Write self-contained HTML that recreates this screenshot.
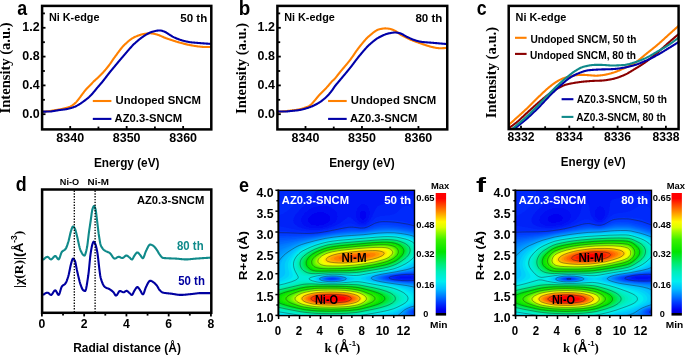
<!DOCTYPE html>
<html><head><meta charset="utf-8"><title>figure</title>
<style>
html,body{margin:0;padding:0;background:#fff;}
svg{display:block;will-change:transform;}
</style></head>
<body>
<svg width="685" height="355" viewBox="0 0 685 355" font-family="'Liberation Sans', sans-serif">
<rect width="685" height="355" fill="#fff"/>
<defs>
<clipPath id="clipa"><rect x="42" y="6" width="169.3" height="123"/></clipPath>
<clipPath id="clipb"><rect x="277.4" y="6" width="169.3" height="123"/></clipPath>
<clipPath id="clipc"><rect x="508.7" y="6" width="170.6" height="122"/></clipPath>
<filter id="hblur" x="-5%" y="-5%" width="110%" height="110%"><feGaussianBlur stdDeviation="0.7"/></filter>
<clipPath id="clipd"><rect x="42" y="189.5" width="169.3" height="123.2"/></clipPath>
</defs>
<g clip-path="url(#clipa)">
<path d="M42.5 111.7 L43 111.67 L43.5 111.64 L44 111.61 L44.49 111.57 L44.99 111.53 L45.49 111.48 L45.99 111.44 L46.49 111.39 L46.99 111.34 L47.49 111.29 L47.98 111.23 L48.48 111.18 L48.98 111.12 L49.48 111.06 L49.98 111 L50.48 110.94 L50.97 110.87 L51.47 110.79 L51.97 110.71 L52.47 110.63 L52.97 110.55 L53.47 110.46 L53.97 110.37 L54.46 110.29 L54.96 110.21 L55.46 110.13 L55.96 110.05 L56.46 109.97 L56.96 109.89 L57.46 109.82 L57.95 109.74 L58.45 109.66 L58.95 109.57 L59.45 109.48 L59.95 109.39 L60.45 109.29 L60.95 109.19 L61.44 109.09 L61.94 108.98 L62.44 108.87 L62.94 108.76 L63.44 108.64 L63.94 108.52 L64.43 108.39 L64.93 108.27 L65.43 108.14 L65.93 108.01 L66.43 107.87 L66.93 107.73 L67.43 107.59 L67.92 107.44 L68.42 107.27 L68.92 107.1 L69.42 106.91 L69.92 106.71 L70.42 106.47 L70.92 106.21 L71.41 105.92 L71.91 105.62 L72.41 105.29 L72.91 104.96 L73.41 104.59 L73.91 104.21 L74.41 103.79 L74.9 103.35 L75.4 102.89 L75.9 102.4 L76.4 101.87 L76.9 101.3 L77.4 100.7 L77.89 100.08 L78.39 99.46 L78.89 98.83 L79.39 98.18 L79.89 97.5 L80.39 96.82 L80.89 96.13 L81.38 95.45 L81.88 94.78 L82.38 94.11 L82.88 93.43 L83.38 92.76 L83.88 92.1 L84.38 91.46 L84.87 90.84 L85.37 90.22 L85.87 89.62 L86.37 89.04 L86.87 88.48 L87.37 87.94 L87.87 87.43 L88.36 86.95 L88.86 86.48 L89.36 86.02 L89.86 85.54 L90.36 85.04 L90.86 84.52 L91.36 83.98 L91.85 83.45 L92.35 82.91 L92.85 82.38 L93.35 81.85 L93.85 81.35 L94.35 80.87 L94.84 80.4 L95.34 79.95 L95.84 79.51 L96.34 79.06 L96.84 78.61 L97.34 78.15 L97.84 77.68 L98.33 77.2 L98.83 76.73 L99.33 76.25 L99.83 75.76 L100.33 75.27 L100.83 74.77 L101.33 74.27 L101.82 73.76 L102.32 73.24 L102.82 72.71 L103.32 72.17 L103.82 71.62 L104.32 71.06 L104.82 70.49 L105.31 69.91 L105.81 69.32 L106.31 68.72 L106.81 68.12 L107.31 67.5 L107.81 66.87 L108.3 66.24 L108.8 65.6 L109.3 64.93 L109.8 64.25 L110.3 63.55 L110.8 62.83 L111.3 62.1 L111.79 61.37 L112.29 60.63 L112.79 59.9 L113.29 59.18 L113.79 58.46 L114.29 57.76 L114.79 57.08 L115.28 56.41 L115.78 55.73 L116.28 55.05 L116.78 54.36 L117.28 53.67 L117.78 52.99 L118.28 52.31 L118.77 51.63 L119.27 50.97 L119.77 50.31 L120.27 49.66 L120.77 49.02 L121.27 48.39 L121.76 47.78 L122.26 47.19 L122.76 46.62 L123.26 46.07 L123.76 45.54 L124.26 45.03 L124.76 44.55 L125.25 44.08 L125.75 43.61 L126.25 43.15 L126.75 42.7 L127.25 42.25 L127.75 41.81 L128.25 41.38 L128.74 40.97 L129.24 40.56 L129.74 40.16 L130.24 39.78 L130.74 39.41 L131.24 39.06 L131.74 38.72 L132.23 38.39 L132.73 38.09 L133.23 37.8 L133.73 37.53 L134.23 37.28 L134.73 37.05 L135.22 36.82 L135.72 36.6 L136.22 36.38 L136.72 36.17 L137.22 35.97 L137.72 35.77 L138.22 35.57 L138.71 35.39 L139.21 35.21 L139.71 35.04 L140.21 34.87 L140.71 34.72 L141.21 34.57 L141.71 34.44 L142.2 34.31 L142.7 34.2 L143.2 34.09 L143.7 34 L144.2 33.92 L144.7 33.84 L145.2 33.77 L145.69 33.69 L146.19 33.62 L146.69 33.56 L147.19 33.5 L147.69 33.44 L148.19 33.39 L148.68 33.36 L149.18 33.33 L149.68 33.31 L150.18 33.3 L150.68 33.31 L151.18 33.35 L151.68 33.41 L152.17 33.48 L152.67 33.56 L153.17 33.65 L153.67 33.74 L154.17 33.83 L154.67 33.93 L155.17 34.04 L155.66 34.17 L156.16 34.31 L156.66 34.45 L157.16 34.6 L157.66 34.76 L158.16 34.92 L158.66 35.09 L159.15 35.27 L159.65 35.47 L160.15 35.68 L160.65 35.89 L161.15 36.11 L161.65 36.34 L162.14 36.57 L162.64 36.79 L163.14 37.02 L163.64 37.24 L164.14 37.45 L164.64 37.66 L165.14 37.85 L165.63 38.04 L166.13 38.23 L166.63 38.41 L167.13 38.59 L167.63 38.76 L168.13 38.93 L168.63 39.11 L169.12 39.27 L169.62 39.44 L170.12 39.61 L170.62 39.77 L171.12 39.94 L171.62 40.1 L172.12 40.27 L172.61 40.43 L173.11 40.59 L173.61 40.75 L174.11 40.91 L174.61 41.06 L175.11 41.22 L175.61 41.37 L176.1 41.53 L176.6 41.68 L177.1 41.82 L177.6 41.97 L178.1 42.12 L178.6 42.26 L179.09 42.4 L179.59 42.54 L180.09 42.68 L180.59 42.82 L181.09 42.95 L181.59 43.09 L182.09 43.23 L182.58 43.36 L183.08 43.5 L183.58 43.63 L184.08 43.76 L184.58 43.89 L185.08 44.01 L185.58 44.14 L186.07 44.26 L186.57 44.37 L187.07 44.49 L187.57 44.6 L188.07 44.71 L188.57 44.81 L189.07 44.91 L189.56 45.01 L190.06 45.11 L190.56 45.21 L191.06 45.3 L191.56 45.4 L192.06 45.49 L192.55 45.58 L193.05 45.67 L193.55 45.75 L194.05 45.84 L194.55 45.92 L195.05 46 L195.55 46.08 L196.04 46.15 L196.54 46.22 L197.04 46.29 L197.54 46.35 L198.04 46.42 L198.54 46.47 L199.04 46.53 L199.53 46.58 L200.03 46.63 L200.53 46.69 L201.03 46.74 L201.53 46.8 L202.03 46.84 L202.53 46.89 L203.02 46.93 L203.52 46.96 L204.02 46.98 L204.52 47 L205.02 47 L205.52 47 L206.01 47 L206.51 47 L207.01 47 L207.51 46.99 L208.01 46.99 L208.51 46.98 L209.01 46.97 L209.5 46.96 L210 46.94 L210.5 46.92 L211 46.9" fill="none" stroke="#FF8000" stroke-width="2.1" stroke-linejoin="round" stroke-linecap="round"/>
<path d="M42.5 111.6 L43 111.6 L43.5 111.6 L44 111.6 L44.49 111.59 L44.99 111.59 L45.49 111.58 L45.99 111.58 L46.49 111.57 L46.99 111.56 L47.49 111.55 L47.98 111.55 L48.48 111.54 L48.98 111.52 L49.48 111.51 L49.98 111.5 L50.48 111.48 L50.97 111.44 L51.47 111.38 L51.97 111.31 L52.47 111.23 L52.97 111.15 L53.47 111.06 L53.97 110.97 L54.46 110.89 L54.96 110.81 L55.46 110.73 L55.96 110.65 L56.46 110.56 L56.96 110.48 L57.46 110.39 L57.95 110.31 L58.45 110.22 L58.95 110.14 L59.45 110.07 L59.95 109.99 L60.45 109.93 L60.95 109.87 L61.44 109.81 L61.94 109.75 L62.44 109.7 L62.94 109.64 L63.44 109.58 L63.94 109.52 L64.43 109.45 L64.93 109.38 L65.43 109.3 L65.93 109.21 L66.43 109.12 L66.93 109.03 L67.43 108.92 L67.92 108.82 L68.42 108.71 L68.92 108.59 L69.42 108.47 L69.92 108.34 L70.42 108.21 L70.92 108.07 L71.41 107.93 L71.91 107.77 L72.41 107.61 L72.91 107.44 L73.41 107.26 L73.91 107.07 L74.41 106.88 L74.9 106.67 L75.4 106.45 L75.9 106.21 L76.4 105.95 L76.9 105.69 L77.4 105.41 L77.89 105.12 L78.39 104.83 L78.89 104.53 L79.39 104.23 L79.89 103.92 L80.39 103.61 L80.89 103.28 L81.38 102.95 L81.88 102.6 L82.38 102.25 L82.88 101.9 L83.38 101.53 L83.88 101.16 L84.38 100.79 L84.87 100.42 L85.37 100.04 L85.87 99.67 L86.37 99.28 L86.87 98.89 L87.37 98.49 L87.87 98.09 L88.36 97.67 L88.86 97.24 L89.36 96.79 L89.86 96.33 L90.36 95.85 L90.86 95.35 L91.36 94.82 L91.85 94.27 L92.35 93.71 L92.85 93.13 L93.35 92.54 L93.85 91.94 L94.35 91.33 L94.84 90.72 L95.34 90.1 L95.84 89.49 L96.34 88.88 L96.84 88.28 L97.34 87.69 L97.84 87.11 L98.33 86.53 L98.83 85.95 L99.33 85.38 L99.83 84.8 L100.33 84.22 L100.83 83.64 L101.33 83.06 L101.82 82.47 L102.32 81.87 L102.82 81.27 L103.32 80.65 L103.82 80.02 L104.32 79.38 L104.82 78.73 L105.31 78.08 L105.81 77.41 L106.31 76.75 L106.81 76.09 L107.31 75.43 L107.81 74.77 L108.3 74.13 L108.8 73.5 L109.3 72.87 L109.8 72.25 L110.3 71.64 L110.8 71.03 L111.3 70.43 L111.79 69.83 L112.29 69.23 L112.79 68.63 L113.29 68.03 L113.79 67.43 L114.29 66.84 L114.79 66.24 L115.28 65.64 L115.78 65.04 L116.28 64.44 L116.78 63.84 L117.28 63.24 L117.78 62.64 L118.28 62.05 L118.77 61.45 L119.27 60.85 L119.77 60.26 L120.27 59.67 L120.77 59.08 L121.27 58.49 L121.76 57.9 L122.26 57.31 L122.76 56.73 L123.26 56.15 L123.76 55.57 L124.26 54.99 L124.76 54.42 L125.25 53.84 L125.75 53.26 L126.25 52.68 L126.75 52.09 L127.25 51.51 L127.75 50.92 L128.25 50.34 L128.74 49.76 L129.24 49.18 L129.74 48.61 L130.24 48.04 L130.74 47.48 L131.24 46.93 L131.74 46.39 L132.23 45.86 L132.73 45.34 L133.23 44.83 L133.73 44.34 L134.23 43.86 L134.73 43.4 L135.22 42.94 L135.72 42.49 L136.22 42.05 L136.72 41.61 L137.22 41.18 L137.72 40.75 L138.22 40.33 L138.71 39.92 L139.21 39.51 L139.71 39.11 L140.21 38.72 L140.71 38.34 L141.21 37.96 L141.71 37.59 L142.2 37.23 L142.7 36.88 L143.2 36.53 L143.7 36.2 L144.2 35.87 L144.7 35.54 L145.2 35.22 L145.69 34.9 L146.19 34.59 L146.69 34.29 L147.19 33.99 L147.69 33.71 L148.19 33.44 L148.68 33.19 L149.18 32.95 L149.68 32.73 L150.18 32.53 L150.68 32.34 L151.18 32.17 L151.68 32.01 L152.17 31.85 L152.67 31.71 L153.17 31.57 L153.67 31.43 L154.17 31.31 L154.67 31.18 L155.17 31.05 L155.66 30.92 L156.16 30.8 L156.66 30.7 L157.16 30.63 L157.66 30.59 L158.16 30.56 L158.66 30.54 L159.15 30.52 L159.65 30.5 L160.15 30.5 L160.65 30.53 L161.15 30.6 L161.65 30.7 L162.14 30.83 L162.64 30.99 L163.14 31.17 L163.64 31.36 L164.14 31.55 L164.64 31.76 L165.14 31.96 L165.63 32.19 L166.13 32.47 L166.63 32.78 L167.13 33.11 L167.63 33.46 L168.13 33.8 L168.63 34.14 L169.12 34.45 L169.62 34.76 L170.12 35.06 L170.62 35.37 L171.12 35.68 L171.62 35.98 L172.12 36.28 L172.61 36.57 L173.11 36.84 L173.61 37.11 L174.11 37.35 L174.61 37.59 L175.11 37.82 L175.61 38.04 L176.1 38.25 L176.6 38.46 L177.1 38.66 L177.6 38.85 L178.1 39.04 L178.6 39.22 L179.09 39.4 L179.59 39.57 L180.09 39.75 L180.59 39.91 L181.09 40.08 L181.59 40.24 L182.09 40.4 L182.58 40.55 L183.08 40.7 L183.58 40.84 L184.08 40.97 L184.58 41.1 L185.08 41.22 L185.58 41.33 L186.07 41.44 L186.57 41.55 L187.07 41.65 L187.57 41.75 L188.07 41.84 L188.57 41.93 L189.07 42.02 L189.56 42.1 L190.06 42.17 L190.56 42.24 L191.06 42.31 L191.56 42.37 L192.06 42.42 L192.55 42.47 L193.05 42.52 L193.55 42.57 L194.05 42.62 L194.55 42.66 L195.05 42.7 L195.55 42.74 L196.04 42.78 L196.54 42.82 L197.04 42.86 L197.54 42.9 L198.04 42.94 L198.54 42.98 L199.04 43.02 L199.53 43.06 L200.03 43.1 L200.53 43.14 L201.03 43.18 L201.53 43.22 L202.03 43.26 L202.53 43.3 L203.02 43.33 L203.52 43.37 L204.02 43.41 L204.52 43.45 L205.02 43.49 L205.52 43.52 L206.01 43.56 L206.51 43.59 L207.01 43.63 L207.51 43.67 L208.01 43.7 L208.51 43.73 L209.01 43.77 L209.5 43.8 L210 43.84 L210.5 43.87 L211 43.9" fill="none" stroke="#0000A8" stroke-width="2.1" stroke-linejoin="round" stroke-linecap="round"/>
</g>
<rect x="42.1" y="5.9" width="169.2" height="123.5" fill="none" stroke="#000" stroke-width="2.5"/>
<line x1="42.1" y1="114.2" x2="45.5" y2="114.2" stroke="#000" stroke-width="1.8"/>
<line x1="42.1" y1="99.8" x2="44.9" y2="99.8" stroke="#000" stroke-width="1.8"/>
<line x1="42.1" y1="85.4" x2="45.5" y2="85.4" stroke="#000" stroke-width="1.8"/>
<line x1="42.1" y1="71" x2="44.9" y2="71" stroke="#000" stroke-width="1.8"/>
<line x1="42.1" y1="56.6" x2="45.5" y2="56.6" stroke="#000" stroke-width="1.8"/>
<line x1="42.1" y1="42.2" x2="44.9" y2="42.2" stroke="#000" stroke-width="1.8"/>
<line x1="42.1" y1="27.8" x2="45.5" y2="27.8" stroke="#000" stroke-width="1.8"/>
<line x1="42.1" y1="13.4" x2="44.9" y2="13.4" stroke="#000" stroke-width="1.8"/>
<line x1="70.2" y1="129.4" x2="70.2" y2="126" stroke="#000" stroke-width="1.8"/>
<line x1="98.44" y1="129.4" x2="98.44" y2="126.6" stroke="#000" stroke-width="1.8"/>
<line x1="126.67" y1="129.4" x2="126.67" y2="126" stroke="#000" stroke-width="1.8"/>
<line x1="154.91" y1="129.4" x2="154.91" y2="126.6" stroke="#000" stroke-width="1.8"/>
<line x1="183.14" y1="129.4" x2="183.14" y2="126" stroke="#000" stroke-width="1.8"/>
<text x="22.3" y="31.1" font-size="12.2" textLength="17.3" lengthAdjust="spacingAndGlyphs" fill="#000" font-family='"Liberation Sans", sans-serif' font-weight="bold">1.2</text>
<text x="22.3" y="59.9" font-size="12.2" textLength="17.3" lengthAdjust="spacingAndGlyphs" fill="#000" font-family='"Liberation Sans", sans-serif' font-weight="bold">0.8</text>
<text x="22.3" y="88.7" font-size="12.2" textLength="17.3" lengthAdjust="spacingAndGlyphs" fill="#000" font-family='"Liberation Sans", sans-serif' font-weight="bold">0.4</text>
<text x="22.3" y="117.5" font-size="12.2" textLength="17.3" lengthAdjust="spacingAndGlyphs" fill="#000" font-family='"Liberation Sans", sans-serif' font-weight="bold">0.0</text>
<text x="56.3" y="141.7" font-size="12" textLength="27.8" lengthAdjust="spacingAndGlyphs" fill="#000" font-family='"Liberation Sans", sans-serif' font-weight="bold">8340</text>
<text x="112.77" y="141.7" font-size="12" textLength="27.8" lengthAdjust="spacingAndGlyphs" fill="#000" font-family='"Liberation Sans", sans-serif' font-weight="bold">8350</text>
<text x="169.24" y="141.7" font-size="12" textLength="27.8" lengthAdjust="spacingAndGlyphs" fill="#000" font-family='"Liberation Sans", sans-serif' font-weight="bold">8360</text>
<text x="93.9" y="166.8" font-size="12.6" textLength="65.6" lengthAdjust="spacingAndGlyphs" fill="#000" font-family='"Liberation Sans", sans-serif' font-weight="bold">Energy (eV)</text>
<text transform="translate(10.4 113.4) rotate(-90)" font-size="14.6" textLength="91" lengthAdjust="spacingAndGlyphs" font-family='"Liberation Serif", serif' font-weight="bold" fill="#000">Intensity (a.u.)</text>
<text x="48.9" y="20.7" font-size="11.2" textLength="50.6" lengthAdjust="spacingAndGlyphs" fill="#000" font-family='"Liberation Sans", sans-serif' font-weight="bold">Ni K-edge</text>
<text x="180.3" y="21.6" font-size="11.8" textLength="27" lengthAdjust="spacingAndGlyphs" fill="#000" font-family='"Liberation Sans", sans-serif' font-weight="bold">50 th</text>
<line x1="92.8" y1="101" x2="111.4" y2="101" stroke="#FF8000" stroke-width="2.1"/>
<line x1="92.8" y1="118.9" x2="111.4" y2="118.9" stroke="#0000A8" stroke-width="2.1"/>
<text x="115.5" y="104.3" font-size="11.6" textLength="85.5" lengthAdjust="spacingAndGlyphs" fill="#000" font-family='"Liberation Sans", sans-serif' font-weight="bold">Undoped SNCM</text>
<text x="114.6" y="122.4" font-size="11.6" textLength="67.6" lengthAdjust="spacingAndGlyphs" fill="#000" font-family='"Liberation Sans", sans-serif' font-weight="bold">AZ0.3-SNCM</text>
<text x="17.3" y="14.6" font-size="20" textLength="9.9" lengthAdjust="spacingAndGlyphs" fill="#000" font-family='"Liberation Sans", sans-serif' font-weight="bold">a</text>
<g clip-path="url(#clipb)">
<path d="M277.8 111.8 L278.3 111.77 L278.8 111.73 L279.3 111.69 L279.8 111.66 L280.3 111.62 L280.8 111.58 L281.3 111.53 L281.8 111.49 L282.3 111.45 L282.8 111.4 L283.3 111.36 L283.8 111.31 L284.3 111.27 L284.8 111.22 L285.3 111.17 L285.8 111.12 L286.29 111.07 L286.79 111.02 L287.29 110.96 L287.79 110.91 L288.29 110.85 L288.79 110.79 L289.29 110.73 L289.79 110.67 L290.29 110.61 L290.79 110.55 L291.29 110.49 L291.79 110.43 L292.29 110.36 L292.79 110.3 L293.29 110.24 L293.79 110.18 L294.29 110.12 L294.79 110.06 L295.29 109.99 L295.79 109.93 L296.29 109.86 L296.79 109.79 L297.29 109.71 L297.79 109.63 L298.29 109.55 L298.79 109.46 L299.29 109.36 L299.79 109.26 L300.29 109.15 L300.79 109.03 L301.29 108.9 L301.79 108.76 L302.29 108.61 L302.79 108.46 L303.28 108.3 L303.78 108.14 L304.28 107.97 L304.78 107.79 L305.28 107.61 L305.78 107.42 L306.28 107.23 L306.78 107.03 L307.28 106.82 L307.78 106.59 L308.28 106.35 L308.78 106.09 L309.28 105.81 L309.78 105.51 L310.28 105.18 L310.78 104.81 L311.28 104.37 L311.78 103.87 L312.28 103.33 L312.78 102.75 L313.28 102.16 L313.78 101.56 L314.28 100.97 L314.78 100.4 L315.28 99.82 L315.78 99.22 L316.28 98.61 L316.78 98 L317.28 97.39 L317.78 96.79 L318.28 96.2 L318.78 95.63 L319.28 95.08 L319.78 94.54 L320.27 94.01 L320.77 93.49 L321.27 92.97 L321.77 92.46 L322.27 91.95 L322.77 91.43 L323.27 90.92 L323.77 90.41 L324.27 89.91 L324.77 89.41 L325.27 88.91 L325.77 88.4 L326.27 87.89 L326.77 87.37 L327.27 86.83 L327.77 86.28 L328.27 85.7 L328.77 85.1 L329.27 84.5 L329.77 83.9 L330.27 83.3 L330.77 82.72 L331.27 82.15 L331.77 81.62 L332.27 81.11 L332.77 80.62 L333.27 80.15 L333.77 79.67 L334.27 79.17 L334.77 78.65 L335.27 78.1 L335.77 77.52 L336.27 76.92 L336.76 76.3 L337.26 75.66 L337.76 75.02 L338.26 74.37 L338.76 73.73 L339.26 73.09 L339.76 72.47 L340.26 71.86 L340.76 71.25 L341.26 70.65 L341.76 70.06 L342.26 69.46 L342.76 68.87 L343.26 68.29 L343.76 67.7 L344.26 67.11 L344.76 66.53 L345.26 65.94 L345.76 65.35 L346.26 64.75 L346.76 64.15 L347.26 63.55 L347.76 62.94 L348.26 62.32 L348.76 61.7 L349.26 61.07 L349.76 60.43 L350.26 59.77 L350.76 59.1 L351.26 58.41 L351.76 57.71 L352.26 57 L352.76 56.29 L353.26 55.56 L353.75 54.84 L354.25 54.11 L354.75 53.38 L355.25 52.65 L355.75 51.93 L356.25 51.21 L356.75 50.5 L357.25 49.8 L357.75 49.11 L358.25 48.44 L358.75 47.78 L359.25 47.14 L359.75 46.51 L360.25 45.89 L360.75 45.27 L361.25 44.66 L361.75 44.04 L362.25 43.43 L362.75 42.82 L363.25 42.22 L363.75 41.62 L364.25 41.04 L364.75 40.46 L365.25 39.9 L365.75 39.34 L366.25 38.81 L366.75 38.28 L367.25 37.77 L367.75 37.28 L368.25 36.81 L368.75 36.36 L369.25 35.93 L369.75 35.51 L370.25 35.1 L370.74 34.68 L371.24 34.26 L371.74 33.85 L372.24 33.44 L372.74 33.04 L373.24 32.65 L373.74 32.27 L374.24 31.9 L374.74 31.54 L375.24 31.2 L375.74 30.88 L376.24 30.58 L376.74 30.3 L377.24 30.05 L377.74 29.82 L378.24 29.62 L378.74 29.45 L379.24 29.31 L379.74 29.2 L380.24 29.08 L380.74 28.97 L381.24 28.87 L381.74 28.77 L382.24 28.68 L382.74 28.6 L383.24 28.53 L383.74 28.47 L384.24 28.43 L384.74 28.41 L385.24 28.4 L385.74 28.41 L386.24 28.43 L386.74 28.46 L387.24 28.5 L387.73 28.55 L388.23 28.61 L388.73 28.67 L389.23 28.73 L389.73 28.82 L390.23 28.94 L390.73 29.07 L391.23 29.23 L391.73 29.39 L392.23 29.57 L392.73 29.76 L393.23 29.95 L393.73 30.16 L394.23 30.4 L394.73 30.65 L395.23 30.93 L395.73 31.22 L396.23 31.52 L396.73 31.83 L397.23 32.15 L397.73 32.5 L398.23 32.9 L398.73 33.32 L399.23 33.73 L399.73 34.11 L400.23 34.44 L400.73 34.75 L401.23 35.03 L401.73 35.3 L402.23 35.56 L402.73 35.81 L403.23 36.06 L403.73 36.31 L404.22 36.56 L404.72 36.82 L405.22 37.07 L405.72 37.32 L406.22 37.57 L406.72 37.82 L407.22 38.07 L407.72 38.32 L408.22 38.56 L408.72 38.8 L409.22 39.03 L409.72 39.26 L410.22 39.49 L410.72 39.71 L411.22 39.92 L411.72 40.13 L412.22 40.34 L412.72 40.53 L413.22 40.73 L413.72 40.92 L414.22 41.1 L414.72 41.28 L415.22 41.46 L415.72 41.64 L416.22 41.82 L416.72 42 L417.22 42.18 L417.72 42.35 L418.22 42.53 L418.72 42.71 L419.22 42.9 L419.72 43.08 L420.22 43.26 L420.72 43.44 L421.21 43.63 L421.71 43.81 L422.21 43.99 L422.71 44.16 L423.21 44.34 L423.71 44.51 L424.21 44.68 L424.71 44.85 L425.21 45.01 L425.71 45.17 L426.21 45.33 L426.71 45.49 L427.21 45.64 L427.71 45.8 L428.21 45.96 L428.71 46.11 L429.21 46.26 L429.71 46.41 L430.21 46.55 L430.71 46.68 L431.21 46.81 L431.71 46.93 L432.21 47.04 L432.71 47.14 L433.21 47.25 L433.71 47.35 L434.21 47.46 L434.71 47.56 L435.21 47.67 L435.71 47.76 L436.21 47.86 L436.71 47.94 L437.21 48.02 L437.71 48.08 L438.2 48.13 L438.7 48.17 L439.2 48.19 L439.7 48.2 L440.2 48.2 L440.7 48.2 L441.2 48.2 L441.7 48.19 L442.2 48.18 L442.7 48.17 L443.2 48.15 L443.7 48.13 L444.2 48.1 L444.7 48.06 L445.2 48.02 L445.7 47.96 L446.2 47.9" fill="none" stroke="#FF8000" stroke-width="2.1" stroke-linejoin="round" stroke-linecap="round"/>
<path d="M277.8 111.4 L278.3 111.42 L278.8 111.44 L279.3 111.45 L279.8 111.46 L280.3 111.47 L280.8 111.48 L281.3 111.49 L281.8 111.49 L282.3 111.49 L282.8 111.5 L283.3 111.5 L283.8 111.5 L284.3 111.5 L284.8 111.5 L285.3 111.5 L285.8 111.49 L286.29 111.46 L286.79 111.44 L287.29 111.4 L287.79 111.35 L288.29 111.31 L288.79 111.25 L289.29 111.2 L289.79 111.14 L290.29 111.08 L290.79 111.03 L291.29 110.97 L291.79 110.92 L292.29 110.87 L292.79 110.82 L293.29 110.78 L293.79 110.73 L294.29 110.68 L294.79 110.63 L295.29 110.58 L295.79 110.52 L296.29 110.47 L296.79 110.41 L297.29 110.35 L297.79 110.29 L298.29 110.22 L298.79 110.15 L299.29 110.07 L299.79 109.99 L300.29 109.89 L300.79 109.79 L301.29 109.68 L301.79 109.57 L302.29 109.45 L302.79 109.32 L303.28 109.19 L303.78 109.06 L304.28 108.92 L304.78 108.78 L305.28 108.64 L305.78 108.49 L306.28 108.35 L306.78 108.2 L307.28 108.04 L307.78 107.88 L308.28 107.71 L308.78 107.54 L309.28 107.37 L309.78 107.19 L310.28 107 L310.78 106.81 L311.28 106.61 L311.78 106.41 L312.28 106.2 L312.78 105.98 L313.28 105.76 L313.78 105.54 L314.28 105.3 L314.78 105.06 L315.28 104.81 L315.78 104.55 L316.28 104.28 L316.78 104 L317.28 103.72 L317.78 103.43 L318.28 103.13 L318.78 102.82 L319.28 102.5 L319.78 102.18 L320.27 101.85 L320.77 101.51 L321.27 101.16 L321.77 100.79 L322.27 100.41 L322.77 100.02 L323.27 99.62 L323.77 99.21 L324.27 98.79 L324.77 98.36 L325.27 97.91 L325.77 97.46 L326.27 96.99 L326.77 96.52 L327.27 96.03 L327.77 95.52 L328.27 94.99 L328.77 94.44 L329.27 93.86 L329.77 93.27 L330.27 92.66 L330.77 92.03 L331.27 91.4 L331.77 90.75 L332.27 90.05 L332.77 89.33 L333.27 88.59 L333.77 87.84 L334.27 87.11 L334.77 86.41 L335.27 85.75 L335.77 85.12 L336.27 84.5 L336.76 83.9 L337.26 83.3 L337.76 82.71 L338.26 82.13 L338.76 81.55 L339.26 80.96 L339.76 80.36 L340.26 79.76 L340.76 79.16 L341.26 78.57 L341.76 77.97 L342.26 77.37 L342.76 76.78 L343.26 76.19 L343.76 75.59 L344.26 75 L344.76 74.4 L345.26 73.8 L345.76 73.2 L346.26 72.6 L346.76 72 L347.26 71.4 L347.76 70.79 L348.26 70.18 L348.76 69.57 L349.26 68.95 L349.76 68.33 L350.26 67.7 L350.76 67.06 L351.26 66.42 L351.76 65.77 L352.26 65.11 L352.76 64.45 L353.26 63.79 L353.75 63.13 L354.25 62.46 L354.75 61.8 L355.25 61.14 L355.75 60.48 L356.25 59.82 L356.75 59.17 L357.25 58.52 L357.75 57.88 L358.25 57.25 L358.75 56.63 L359.25 56.02 L359.75 55.42 L360.25 54.82 L360.75 54.22 L361.25 53.62 L361.75 53.02 L362.25 52.42 L362.75 51.83 L363.25 51.24 L363.75 50.66 L364.25 50.08 L364.75 49.51 L365.25 48.94 L365.75 48.39 L366.25 47.84 L366.75 47.31 L367.25 46.79 L367.75 46.28 L368.25 45.78 L368.75 45.3 L369.25 44.84 L369.75 44.39 L370.25 43.94 L370.74 43.5 L371.24 43.06 L371.74 42.63 L372.24 42.2 L372.74 41.78 L373.24 41.36 L373.74 40.96 L374.24 40.56 L374.74 40.17 L375.24 39.79 L375.74 39.43 L376.24 39.07 L376.74 38.73 L377.24 38.4 L377.74 38.09 L378.24 37.79 L378.74 37.5 L379.24 37.23 L379.74 36.97 L380.24 36.72 L380.74 36.47 L381.24 36.22 L381.74 35.98 L382.24 35.74 L382.74 35.51 L383.24 35.28 L383.74 35.06 L384.24 34.85 L384.74 34.65 L385.24 34.46 L385.74 34.27 L386.24 34.1 L386.74 33.94 L387.24 33.78 L387.73 33.64 L388.23 33.51 L388.73 33.4 L389.23 33.29 L389.73 33.2 L390.23 33.1 L390.73 33 L391.23 32.91 L391.73 32.82 L392.23 32.74 L392.73 32.67 L393.23 32.61 L393.73 32.56 L394.23 32.53 L394.73 32.5 L395.23 32.5 L395.73 32.52 L396.23 32.56 L396.73 32.62 L397.23 32.7 L397.73 32.79 L398.23 32.89 L398.73 33 L399.23 33.12 L399.73 33.23 L400.23 33.36 L400.73 33.51 L401.23 33.7 L401.73 33.92 L402.23 34.17 L402.73 34.43 L403.23 34.71 L403.73 35 L404.22 35.3 L404.72 35.59 L405.22 35.89 L405.72 36.18 L406.22 36.46 L406.72 36.72 L407.22 36.96 L407.72 37.19 L408.22 37.43 L408.72 37.67 L409.22 37.91 L409.72 38.15 L410.22 38.38 L410.72 38.61 L411.22 38.84 L411.72 39.05 L412.22 39.27 L412.72 39.47 L413.22 39.66 L413.72 39.84 L414.22 40.01 L414.72 40.17 L415.22 40.33 L415.72 40.48 L416.22 40.64 L416.72 40.79 L417.22 40.93 L417.72 41.07 L418.22 41.2 L418.72 41.32 L419.22 41.44 L419.72 41.55 L420.22 41.64 L420.72 41.73 L421.21 41.8 L421.71 41.87 L422.21 41.93 L422.71 41.99 L423.21 42.04 L423.71 42.1 L424.21 42.15 L424.71 42.19 L425.21 42.24 L425.71 42.28 L426.21 42.32 L426.71 42.36 L427.21 42.4 L427.71 42.43 L428.21 42.47 L428.71 42.51 L429.21 42.54 L429.71 42.58 L430.21 42.62 L430.71 42.65 L431.21 42.69 L431.71 42.73 L432.21 42.77 L432.71 42.82 L433.21 42.86 L433.71 42.91 L434.21 42.95 L434.71 42.99 L435.21 43.04 L435.71 43.08 L436.21 43.13 L436.71 43.17 L437.21 43.21 L437.71 43.26 L438.2 43.3 L438.7 43.35 L439.2 43.39 L439.7 43.43 L440.2 43.48 L440.7 43.52 L441.2 43.56 L441.7 43.61 L442.2 43.65 L442.7 43.69 L443.2 43.74 L443.7 43.78 L444.2 43.83 L444.7 43.87 L445.2 43.91 L445.7 43.96 L446.2 44" fill="none" stroke="#0000A8" stroke-width="2.1" stroke-linejoin="round" stroke-linecap="round"/>
</g>
<rect x="277.4" y="5.9" width="169.84" height="123.5" fill="none" stroke="#000" stroke-width="2.5"/>
<line x1="277.4" y1="114.2" x2="280.8" y2="114.2" stroke="#000" stroke-width="1.8"/>
<line x1="277.4" y1="99.8" x2="280.2" y2="99.8" stroke="#000" stroke-width="1.8"/>
<line x1="277.4" y1="85.4" x2="280.8" y2="85.4" stroke="#000" stroke-width="1.8"/>
<line x1="277.4" y1="71" x2="280.2" y2="71" stroke="#000" stroke-width="1.8"/>
<line x1="277.4" y1="56.6" x2="280.8" y2="56.6" stroke="#000" stroke-width="1.8"/>
<line x1="277.4" y1="42.2" x2="280.2" y2="42.2" stroke="#000" stroke-width="1.8"/>
<line x1="277.4" y1="27.8" x2="280.8" y2="27.8" stroke="#000" stroke-width="1.8"/>
<line x1="277.4" y1="13.4" x2="280.2" y2="13.4" stroke="#000" stroke-width="1.8"/>
<line x1="305.5" y1="129.4" x2="305.5" y2="126" stroke="#000" stroke-width="1.8"/>
<line x1="333.74" y1="129.4" x2="333.74" y2="126.6" stroke="#000" stroke-width="1.8"/>
<line x1="361.97" y1="129.4" x2="361.97" y2="126" stroke="#000" stroke-width="1.8"/>
<line x1="390.2" y1="129.4" x2="390.2" y2="126.6" stroke="#000" stroke-width="1.8"/>
<line x1="418.44" y1="129.4" x2="418.44" y2="126" stroke="#000" stroke-width="1.8"/>
<text x="257.6" y="31.1" font-size="12.2" textLength="17.3" lengthAdjust="spacingAndGlyphs" fill="#000" font-family='"Liberation Sans", sans-serif' font-weight="bold">1.2</text>
<text x="257.6" y="59.9" font-size="12.2" textLength="17.3" lengthAdjust="spacingAndGlyphs" fill="#000" font-family='"Liberation Sans", sans-serif' font-weight="bold">0.8</text>
<text x="257.6" y="88.7" font-size="12.2" textLength="17.3" lengthAdjust="spacingAndGlyphs" fill="#000" font-family='"Liberation Sans", sans-serif' font-weight="bold">0.4</text>
<text x="257.6" y="117.5" font-size="12.2" textLength="17.3" lengthAdjust="spacingAndGlyphs" fill="#000" font-family='"Liberation Sans", sans-serif' font-weight="bold">0.0</text>
<text x="291.6" y="141.7" font-size="12" textLength="27.8" lengthAdjust="spacingAndGlyphs" fill="#000" font-family='"Liberation Sans", sans-serif' font-weight="bold">8340</text>
<text x="348.07" y="141.7" font-size="12" textLength="27.8" lengthAdjust="spacingAndGlyphs" fill="#000" font-family='"Liberation Sans", sans-serif' font-weight="bold">8350</text>
<text x="404.54" y="141.7" font-size="12" textLength="27.8" lengthAdjust="spacingAndGlyphs" fill="#000" font-family='"Liberation Sans", sans-serif' font-weight="bold">8360</text>
<text x="329.2" y="166.8" font-size="12.6" textLength="65.6" lengthAdjust="spacingAndGlyphs" fill="#000" font-family='"Liberation Sans", sans-serif' font-weight="bold">Energy (eV)</text>
<text transform="translate(245.7 114) rotate(-90)" font-size="14.6" textLength="91" lengthAdjust="spacingAndGlyphs" font-family='"Liberation Serif", serif' font-weight="bold" fill="#000">Intensity (a.u.)</text>
<text x="284.2" y="20.7" font-size="11.2" textLength="50.6" lengthAdjust="spacingAndGlyphs" fill="#000" font-family='"Liberation Sans", sans-serif' font-weight="bold">Ni K-edge</text>
<text x="415.4" y="21.6" font-size="11.8" textLength="27" lengthAdjust="spacingAndGlyphs" fill="#000" font-family='"Liberation Sans", sans-serif' font-weight="bold">80 th</text>
<line x1="328.1" y1="101" x2="346.7" y2="101" stroke="#FF8000" stroke-width="2.1"/>
<line x1="328.1" y1="118.9" x2="346.7" y2="118.9" stroke="#0000A8" stroke-width="2.1"/>
<text x="350.8" y="104.3" font-size="11.6" textLength="85.5" lengthAdjust="spacingAndGlyphs" fill="#000" font-family='"Liberation Sans", sans-serif' font-weight="bold">Undoped SNCM</text>
<text x="349.9" y="122.4" font-size="11.6" textLength="67.6" lengthAdjust="spacingAndGlyphs" fill="#000" font-family='"Liberation Sans", sans-serif' font-weight="bold">AZ0.3-SNCM</text>
<text x="238.8" y="14.6" font-size="20" textLength="11.5" lengthAdjust="spacingAndGlyphs" fill="#000" font-family='"Liberation Sans", sans-serif' font-weight="bold">b</text>
<g clip-path="url(#clipc)">
<path d="M506 126 L506.5 125.78 L507 125.55 L507.5 125.31 L507.99 125.04 L508.49 124.74 L508.99 124.42 L509.49 124.08 L509.99 123.71 L510.49 123.32 L510.99 122.91 L511.48 122.49 L511.98 122.05 L512.48 121.6 L512.98 121.15 L513.48 120.69 L513.98 120.22 L514.48 119.76 L514.97 119.3 L515.47 118.84 L515.97 118.39 L516.47 117.95 L516.97 117.51 L517.47 117.07 L517.97 116.63 L518.46 116.19 L518.96 115.75 L519.46 115.3 L519.96 114.85 L520.46 114.41 L520.96 113.96 L521.46 113.51 L521.95 113.05 L522.45 112.6 L522.95 112.14 L523.45 111.68 L523.95 111.22 L524.45 110.76 L524.95 110.3 L525.44 109.84 L525.94 109.37 L526.44 108.9 L526.94 108.43 L527.44 107.96 L527.94 107.48 L528.44 107 L528.93 106.52 L529.43 106.03 L529.93 105.54 L530.43 105.04 L530.93 104.54 L531.43 104.04 L531.93 103.54 L532.42 103.03 L532.92 102.53 L533.42 102.03 L533.92 101.52 L534.42 101.02 L534.92 100.52 L535.41 100.02 L535.91 99.52 L536.41 99.02 L536.91 98.53 L537.41 98.04 L537.91 97.56 L538.41 97.08 L538.9 96.6 L539.4 96.13 L539.9 95.65 L540.4 95.17 L540.9 94.7 L541.4 94.22 L541.9 93.75 L542.39 93.27 L542.89 92.8 L543.39 92.33 L543.89 91.86 L544.39 91.4 L544.89 90.94 L545.39 90.48 L545.88 90.02 L546.38 89.57 L546.88 89.13 L547.38 88.69 L547.88 88.26 L548.38 87.83 L548.88 87.42 L549.37 87 L549.87 86.6 L550.37 86.2 L550.87 85.81 L551.37 85.42 L551.87 85.03 L552.37 84.65 L552.86 84.27 L553.36 83.9 L553.86 83.54 L554.36 83.18 L554.86 82.84 L555.36 82.5 L555.86 82.18 L556.35 81.87 L556.85 81.57 L557.35 81.28 L557.85 80.99 L558.35 80.7 L558.85 80.42 L559.35 80.15 L559.84 79.88 L560.34 79.62 L560.84 79.37 L561.34 79.13 L561.84 78.9 L562.34 78.69 L562.84 78.48 L563.33 78.29 L563.83 78.12 L564.33 77.95 L564.83 77.8 L565.33 77.64 L565.83 77.5 L566.33 77.36 L566.82 77.23 L567.32 77.1 L567.82 76.97 L568.32 76.85 L568.82 76.74 L569.32 76.62 L569.82 76.51 L570.31 76.4 L570.81 76.28 L571.31 76.17 L571.81 76.05 L572.31 75.93 L572.81 75.81 L573.31 75.69 L573.8 75.58 L574.3 75.48 L574.8 75.38 L575.3 75.3 L575.8 75.22 L576.3 75.16 L576.8 75.12 L577.29 75.09 L577.79 75.07 L578.29 75.04 L578.79 75.02 L579.29 75 L579.79 74.98 L580.29 74.96 L580.78 74.95 L581.28 74.93 L581.78 74.92 L582.28 74.91 L582.78 74.91 L583.28 74.9 L583.78 74.9 L584.27 74.9 L584.77 74.92 L585.27 74.94 L585.77 74.97 L586.27 75 L586.77 75.04 L587.27 75.08 L587.76 75.12 L588.26 75.16 L588.76 75.21 L589.26 75.25 L589.76 75.28 L590.26 75.32 L590.76 75.36 L591.25 75.4 L591.75 75.44 L592.25 75.48 L592.75 75.53 L593.25 75.57 L593.75 75.61 L594.24 75.64 L594.74 75.67 L595.24 75.69 L595.74 75.7 L596.24 75.7 L596.74 75.69 L597.24 75.67 L597.73 75.64 L598.23 75.6 L598.73 75.56 L599.23 75.52 L599.73 75.47 L600.23 75.41 L600.73 75.36 L601.22 75.31 L601.72 75.25 L602.22 75.19 L602.72 75.12 L603.22 75.05 L603.72 74.97 L604.22 74.88 L604.71 74.79 L605.21 74.7 L605.71 74.6 L606.21 74.49 L606.71 74.38 L607.21 74.27 L607.71 74.16 L608.2 74.04 L608.7 73.91 L609.2 73.79 L609.7 73.66 L610.2 73.53 L610.7 73.39 L611.2 73.26 L611.69 73.12 L612.19 72.99 L612.69 72.85 L613.19 72.7 L613.69 72.55 L614.19 72.38 L614.69 72.22 L615.18 72.04 L615.68 71.86 L616.18 71.67 L616.68 71.48 L617.18 71.28 L617.68 71.08 L618.18 70.87 L618.67 70.66 L619.17 70.45 L619.67 70.23 L620.17 70.02 L620.67 69.8 L621.17 69.57 L621.67 69.35 L622.16 69.13 L622.66 68.91 L623.16 68.68 L623.66 68.46 L624.16 68.24 L624.66 68.02 L625.16 67.8 L625.65 67.58 L626.15 67.35 L626.65 67.13 L627.15 66.9 L627.65 66.67 L628.15 66.44 L628.65 66.2 L629.14 65.96 L629.64 65.72 L630.14 65.47 L630.64 65.22 L631.14 64.97 L631.64 64.71 L632.14 64.44 L632.63 64.17 L633.13 63.9 L633.63 63.61 L634.13 63.32 L634.63 63.03 L635.13 62.72 L635.63 62.4 L636.12 62.07 L636.62 61.73 L637.12 61.37 L637.62 61 L638.12 60.62 L638.62 60.23 L639.12 59.83 L639.61 59.42 L640.11 59.01 L640.61 58.6 L641.11 58.17 L641.61 57.75 L642.11 57.32 L642.61 56.9 L643.1 56.47 L643.6 56.04 L644.1 55.62 L644.6 55.2 L645.1 54.78 L645.6 54.37 L646.1 53.96 L646.59 53.57 L647.09 53.17 L647.59 52.77 L648.09 52.38 L648.59 51.98 L649.09 51.59 L649.59 51.2 L650.08 50.8 L650.58 50.41 L651.08 50.02 L651.58 49.62 L652.08 49.23 L652.58 48.83 L653.07 48.44 L653.57 48.04 L654.07 47.63 L654.57 47.23 L655.07 46.82 L655.57 46.42 L656.07 46 L656.56 45.59 L657.06 45.17 L657.56 44.75 L658.06 44.32 L658.56 43.89 L659.06 43.45 L659.56 43.01 L660.05 42.57 L660.55 42.13 L661.05 41.68 L661.55 41.23 L662.05 40.77 L662.55 40.32 L663.05 39.86 L663.54 39.4 L664.04 38.95 L664.54 38.49 L665.04 38.03 L665.54 37.57 L666.04 37.11 L666.54 36.65 L667.03 36.2 L667.53 35.74 L668.03 35.29 L668.53 34.84 L669.03 34.39 L669.53 33.95 L670.03 33.5 L670.52 33.05 L671.02 32.61 L671.52 32.16 L672.02 31.72 L672.52 31.27 L673.02 30.82 L673.52 30.38 L674.01 29.94 L674.51 29.49 L675.01 29.05 L675.51 28.6 L676.01 28.16 L676.51 27.71 L677.01 27.27 L677.5 26.83 L678 26.39 L678.5 25.94 L679 25.5" fill="none" stroke="#FF8000" stroke-width="2.1" stroke-linejoin="round" stroke-linecap="round"/>
<path d="M506 129.5 L506.5 129.25 L507 128.99 L507.5 128.72 L507.99 128.44 L508.49 128.14 L508.99 127.84 L509.49 127.53 L509.99 127.21 L510.49 126.88 L510.99 126.54 L511.48 126.2 L511.98 125.85 L512.48 125.5 L512.98 125.13 L513.48 124.77 L513.98 124.4 L514.48 124.02 L514.97 123.64 L515.47 123.25 L515.97 122.86 L516.47 122.47 L516.97 122.06 L517.47 121.65 L517.97 121.23 L518.46 120.79 L518.96 120.36 L519.46 119.91 L519.96 119.46 L520.46 119 L520.96 118.54 L521.46 118.07 L521.95 117.6 L522.45 117.13 L522.95 116.66 L523.45 116.19 L523.95 115.71 L524.45 115.24 L524.95 114.77 L525.44 114.3 L525.94 113.83 L526.44 113.37 L526.94 112.91 L527.44 112.46 L527.94 112.01 L528.44 111.55 L528.93 111.1 L529.43 110.65 L529.93 110.2 L530.43 109.74 L530.93 109.29 L531.43 108.83 L531.93 108.38 L532.42 107.93 L532.92 107.48 L533.42 107.03 L533.92 106.58 L534.42 106.13 L534.92 105.68 L535.41 105.24 L535.91 104.8 L536.41 104.36 L536.91 103.92 L537.41 103.49 L537.91 103.06 L538.41 102.63 L538.9 102.21 L539.4 101.79 L539.9 101.37 L540.4 100.94 L540.9 100.52 L541.4 100.1 L541.9 99.68 L542.39 99.26 L542.89 98.84 L543.39 98.42 L543.89 98.01 L544.39 97.6 L544.89 97.19 L545.39 96.79 L545.88 96.39 L546.38 96 L546.88 95.61 L547.38 95.22 L547.88 94.84 L548.38 94.47 L548.88 94.1 L549.37 93.74 L549.87 93.39 L550.37 93.04 L550.87 92.7 L551.37 92.35 L551.87 92.02 L552.37 91.68 L552.86 91.35 L553.36 91.02 L553.86 90.7 L554.36 90.38 L554.86 90.07 L555.36 89.76 L555.86 89.46 L556.35 89.16 L556.85 88.87 L557.35 88.59 L557.85 88.31 L558.35 88.04 L558.85 87.78 L559.35 87.52 L559.84 87.27 L560.34 87.01 L560.84 86.76 L561.34 86.52 L561.84 86.28 L562.34 86.04 L562.84 85.82 L563.33 85.6 L563.83 85.39 L564.33 85.2 L564.83 85.01 L565.33 84.85 L565.83 84.69 L566.33 84.55 L566.82 84.41 L567.32 84.28 L567.82 84.16 L568.32 84.04 L568.82 83.93 L569.32 83.83 L569.82 83.72 L570.31 83.62 L570.81 83.53 L571.31 83.43 L571.81 83.34 L572.31 83.25 L572.81 83.16 L573.31 83.08 L573.8 82.99 L574.3 82.91 L574.8 82.82 L575.3 82.74 L575.8 82.66 L576.3 82.58 L576.8 82.5 L577.29 82.42 L577.79 82.35 L578.29 82.27 L578.79 82.2 L579.29 82.13 L579.79 82.06 L580.29 82 L580.78 81.93 L581.28 81.87 L581.78 81.81 L582.28 81.76 L582.78 81.7 L583.28 81.65 L583.78 81.6 L584.27 81.56 L584.77 81.51 L585.27 81.46 L585.77 81.42 L586.27 81.38 L586.77 81.34 L587.27 81.29 L587.76 81.25 L588.26 81.22 L588.76 81.18 L589.26 81.14 L589.76 81.1 L590.26 81.07 L590.76 81.04 L591.25 81 L591.75 80.97 L592.25 80.94 L592.75 80.92 L593.25 80.89 L593.75 80.86 L594.24 80.84 L594.74 80.82 L595.24 80.79 L595.74 80.77 L596.24 80.76 L596.74 80.74 L597.24 80.73 L597.73 80.72 L598.23 80.7 L598.73 80.69 L599.23 80.68 L599.73 80.66 L600.23 80.65 L600.73 80.63 L601.22 80.6 L601.72 80.58 L602.22 80.54 L602.72 80.51 L603.22 80.46 L603.72 80.42 L604.22 80.36 L604.71 80.31 L605.21 80.25 L605.71 80.18 L606.21 80.11 L606.71 80.04 L607.21 79.96 L607.71 79.88 L608.2 79.8 L608.7 79.72 L609.2 79.63 L609.7 79.54 L610.2 79.45 L610.7 79.35 L611.2 79.26 L611.69 79.16 L612.19 79.06 L612.69 78.96 L613.19 78.85 L613.69 78.74 L614.19 78.62 L614.69 78.49 L615.18 78.35 L615.68 78.21 L616.18 78.06 L616.68 77.9 L617.18 77.74 L617.68 77.57 L618.18 77.4 L618.67 77.23 L619.17 77.04 L619.67 76.86 L620.17 76.67 L620.67 76.48 L621.17 76.28 L621.67 76.08 L622.16 75.88 L622.66 75.67 L623.16 75.47 L623.66 75.26 L624.16 75.05 L624.66 74.82 L625.16 74.59 L625.65 74.35 L626.15 74.1 L626.65 73.84 L627.15 73.58 L627.65 73.3 L628.15 73.03 L628.65 72.74 L629.14 72.45 L629.64 72.16 L630.14 71.86 L630.64 71.56 L631.14 71.26 L631.64 70.96 L632.14 70.65 L632.63 70.34 L633.13 70.04 L633.63 69.73 L634.13 69.43 L634.63 69.12 L635.13 68.82 L635.63 68.52 L636.12 68.22 L636.62 67.92 L637.12 67.62 L637.62 67.31 L638.12 67 L638.62 66.69 L639.12 66.38 L639.61 66.07 L640.11 65.75 L640.61 65.44 L641.11 65.12 L641.61 64.79 L642.11 64.47 L642.61 64.14 L643.1 63.81 L643.6 63.47 L644.1 63.14 L644.6 62.79 L645.1 62.45 L645.6 62.1 L646.1 61.75 L646.59 61.39 L647.09 61.03 L647.59 60.66 L648.09 60.28 L648.59 59.9 L649.09 59.52 L649.59 59.13 L650.08 58.74 L650.58 58.34 L651.08 57.95 L651.58 57.54 L652.08 57.14 L652.58 56.73 L653.07 56.32 L653.57 55.9 L654.07 55.49 L654.57 55.07 L655.07 54.65 L655.57 54.23 L656.07 53.81 L656.56 53.39 L657.06 52.97 L657.56 52.55 L658.06 52.12 L658.56 51.69 L659.06 51.26 L659.56 50.82 L660.05 50.38 L660.55 49.94 L661.05 49.49 L661.55 49.04 L662.05 48.59 L662.55 48.14 L663.05 47.68 L663.54 47.23 L664.04 46.77 L664.54 46.32 L665.04 45.86 L665.54 45.41 L666.04 44.96 L666.54 44.51 L667.03 44.06 L667.53 43.62 L668.03 43.17 L668.53 42.74 L669.03 42.3 L669.53 41.87 L670.03 41.43 L670.52 41 L671.02 40.57 L671.52 40.14 L672.02 39.71 L672.52 39.28 L673.02 38.85 L673.52 38.43 L674.01 38 L674.51 37.58 L675.01 37.15 L675.51 36.73 L676.01 36.31 L676.51 35.89 L677.01 35.47 L677.5 35.05 L678 34.63 L678.5 34.22 L679 33.8" fill="none" stroke="#8B0000" stroke-width="2.1" stroke-linejoin="round" stroke-linecap="round"/>
<path d="M510 133 L510.5 132.53 L511 132.06 L511.5 131.59 L511.99 131.12 L512.49 130.66 L512.99 130.21 L513.49 129.75 L513.99 129.31 L514.49 128.87 L514.99 128.44 L515.48 128.01 L515.98 127.59 L516.48 127.18 L516.98 126.76 L517.48 126.35 L517.98 125.94 L518.47 125.54 L518.97 125.14 L519.47 124.74 L519.97 124.34 L520.47 123.94 L520.97 123.54 L521.47 123.14 L521.96 122.74 L522.46 122.34 L522.96 121.93 L523.46 121.53 L523.96 121.12 L524.46 120.71 L524.96 120.29 L525.45 119.87 L525.95 119.45 L526.45 119.02 L526.95 118.59 L527.45 118.15 L527.95 117.7 L528.45 117.25 L528.94 116.8 L529.44 116.34 L529.94 115.88 L530.44 115.42 L530.94 114.96 L531.44 114.49 L531.94 114.02 L532.43 113.54 L532.93 113.07 L533.43 112.59 L533.93 112.11 L534.43 111.62 L534.93 111.14 L535.42 110.65 L535.92 110.16 L536.42 109.67 L536.92 109.17 L537.42 108.68 L537.92 108.18 L538.42 107.68 L538.91 107.19 L539.41 106.68 L539.91 106.17 L540.41 105.65 L540.91 105.13 L541.41 104.61 L541.91 104.08 L542.4 103.55 L542.9 103.01 L543.4 102.48 L543.9 101.94 L544.4 101.4 L544.9 100.86 L545.4 100.33 L545.89 99.79 L546.39 99.26 L546.89 98.72 L547.39 98.2 L547.89 97.67 L548.39 97.15 L548.88 96.63 L549.38 96.12 L549.88 95.62 L550.38 95.12 L550.88 94.62 L551.38 94.12 L551.88 93.62 L552.37 93.13 L552.87 92.63 L553.37 92.14 L553.87 91.65 L554.37 91.16 L554.87 90.67 L555.37 90.19 L555.86 89.7 L556.36 89.22 L556.86 88.75 L557.36 88.28 L557.86 87.81 L558.36 87.35 L558.86 86.89 L559.35 86.43 L559.85 85.98 L560.35 85.53 L560.85 85.09 L561.35 84.66 L561.85 84.22 L562.35 83.79 L562.84 83.35 L563.34 82.92 L563.84 82.48 L564.34 82.05 L564.84 81.63 L565.34 81.2 L565.83 80.79 L566.33 80.38 L566.83 79.98 L567.33 79.58 L567.83 79.2 L568.33 78.83 L568.83 78.48 L569.32 78.13 L569.82 77.8 L570.32 77.49 L570.82 77.18 L571.32 76.89 L571.82 76.59 L572.32 76.31 L572.81 76.03 L573.31 75.76 L573.81 75.49 L574.31 75.23 L574.81 74.98 L575.31 74.73 L575.81 74.49 L576.3 74.25 L576.8 74.03 L577.3 73.81 L577.8 73.6 L578.3 73.39 L578.8 73.19 L579.29 73 L579.79 72.81 L580.29 72.63 L580.79 72.44 L581.29 72.25 L581.79 72.07 L582.29 71.88 L582.78 71.71 L583.28 71.53 L583.78 71.37 L584.28 71.21 L584.78 71.06 L585.28 70.91 L585.78 70.78 L586.27 70.66 L586.77 70.55 L587.27 70.45 L587.77 70.37 L588.27 70.3 L588.77 70.25 L589.27 70.19 L589.76 70.14 L590.26 70.09 L590.76 70.04 L591.26 70 L591.76 69.96 L592.26 69.92 L592.76 69.88 L593.25 69.84 L593.75 69.81 L594.25 69.78 L594.75 69.75 L595.25 69.72 L595.75 69.69 L596.24 69.66 L596.74 69.63 L597.24 69.61 L597.74 69.58 L598.24 69.56 L598.74 69.54 L599.24 69.52 L599.73 69.49 L600.23 69.47 L600.73 69.45 L601.23 69.44 L601.73 69.42 L602.23 69.41 L602.73 69.39 L603.22 69.38 L603.72 69.37 L604.22 69.35 L604.72 69.34 L605.22 69.33 L605.72 69.32 L606.22 69.31 L606.71 69.3 L607.21 69.28 L607.71 69.27 L608.21 69.26 L608.71 69.24 L609.21 69.23 L609.71 69.21 L610.2 69.2 L610.7 69.18 L611.2 69.16 L611.7 69.14 L612.2 69.11 L612.7 69.09 L613.19 69.06 L613.69 69.03 L614.19 68.99 L614.69 68.95 L615.19 68.9 L615.69 68.85 L616.19 68.8 L616.68 68.74 L617.18 68.68 L617.68 68.62 L618.18 68.56 L618.68 68.49 L619.18 68.42 L619.68 68.35 L620.17 68.27 L620.67 68.2 L621.17 68.12 L621.67 68.04 L622.17 67.96 L622.67 67.88 L623.17 67.8 L623.66 67.72 L624.16 67.64 L624.66 67.55 L625.16 67.46 L625.66 67.37 L626.16 67.27 L626.65 67.17 L627.15 67.06 L627.65 66.95 L628.15 66.84 L628.65 66.72 L629.15 66.6 L629.65 66.48 L630.14 66.35 L630.64 66.23 L631.14 66.1 L631.64 65.96 L632.14 65.83 L632.64 65.69 L633.14 65.55 L633.63 65.4 L634.13 65.26 L634.63 65.11 L635.13 64.96 L635.63 64.81 L636.13 64.65 L636.63 64.48 L637.12 64.31 L637.62 64.13 L638.12 63.95 L638.62 63.76 L639.12 63.57 L639.62 63.37 L640.12 63.17 L640.61 62.97 L641.11 62.76 L641.61 62.55 L642.11 62.34 L642.61 62.13 L643.11 61.91 L643.6 61.69 L644.1 61.47 L644.6 61.25 L645.1 61.03 L645.6 60.81 L646.1 60.59 L646.6 60.37 L647.09 60.14 L647.59 59.92 L648.09 59.69 L648.59 59.45 L649.09 59.22 L649.59 58.98 L650.09 58.74 L650.58 58.5 L651.08 58.25 L651.58 58 L652.08 57.75 L652.58 57.5 L653.08 57.25 L653.58 56.99 L654.07 56.73 L654.57 56.47 L655.07 56.21 L655.57 55.94 L656.07 55.68 L656.57 55.41 L657.06 55.14 L657.56 54.87 L658.06 54.59 L658.56 54.31 L659.06 54.03 L659.56 53.74 L660.06 53.45 L660.55 53.16 L661.05 52.86 L661.55 52.56 L662.05 52.26 L662.55 51.96 L663.05 51.65 L663.55 51.35 L664.04 51.04 L664.54 50.73 L665.04 50.42 L665.54 50.11 L666.04 49.8 L666.54 49.49 L667.04 49.18 L667.53 48.88 L668.03 48.57 L668.53 48.26 L669.03 47.96 L669.53 47.66 L670.03 47.35 L670.53 47.05 L671.02 46.74 L671.52 46.43 L672.02 46.13 L672.52 45.82 L673.02 45.51 L673.52 45.21 L674.01 44.9 L674.51 44.59 L675.01 44.28 L675.51 43.97 L676.01 43.66 L676.51 43.35 L677.01 43.04 L677.5 42.73 L678 42.42 L678.5 42.11 L679 41.8" fill="none" stroke="#0000A8" stroke-width="2.1" stroke-linejoin="round" stroke-linecap="round"/>
<path d="M508 132.5 L508.5 132.08 L509 131.66 L509.5 131.24 L509.99 130.83 L510.49 130.41 L510.99 129.99 L511.49 129.56 L511.99 129.14 L512.49 128.72 L512.99 128.3 L513.48 127.88 L513.98 127.46 L514.48 127.04 L514.98 126.62 L515.48 126.21 L515.98 125.79 L516.48 125.37 L516.97 124.95 L517.47 124.54 L517.97 124.12 L518.47 123.7 L518.97 123.28 L519.47 122.86 L519.97 122.44 L520.46 122.02 L520.96 121.59 L521.46 121.17 L521.96 120.74 L522.46 120.31 L522.96 119.87 L523.45 119.44 L523.95 119 L524.45 118.56 L524.95 118.12 L525.45 117.67 L525.95 117.22 L526.45 116.77 L526.94 116.31 L527.44 115.85 L527.94 115.39 L528.44 114.92 L528.94 114.44 L529.44 113.96 L529.94 113.48 L530.43 112.99 L530.93 112.5 L531.43 112.01 L531.93 111.51 L532.43 111.01 L532.93 110.51 L533.43 110 L533.92 109.5 L534.42 108.99 L534.92 108.48 L535.42 107.97 L535.92 107.46 L536.42 106.94 L536.92 106.43 L537.41 105.92 L537.91 105.41 L538.41 104.9 L538.91 104.39 L539.41 103.88 L539.91 103.36 L540.41 102.84 L540.9 102.32 L541.4 101.79 L541.9 101.27 L542.4 100.74 L542.9 100.21 L543.4 99.68 L543.9 99.15 L544.39 98.62 L544.89 98.09 L545.39 97.57 L545.89 97.04 L546.39 96.51 L546.89 95.99 L547.38 95.47 L547.88 94.95 L548.38 94.44 L548.88 93.93 L549.38 93.42 L549.88 92.92 L550.38 92.42 L550.87 91.93 L551.37 91.43 L551.87 90.94 L552.37 90.44 L552.87 89.95 L553.37 89.46 L553.87 88.97 L554.36 88.49 L554.86 88 L555.36 87.52 L555.86 87.04 L556.36 86.56 L556.86 86.09 L557.36 85.62 L557.85 85.15 L558.35 84.68 L558.85 84.22 L559.35 83.76 L559.85 83.3 L560.35 82.85 L560.85 82.4 L561.34 81.96 L561.84 81.52 L562.34 81.09 L562.84 80.66 L563.34 80.23 L563.84 79.81 L564.34 79.39 L564.83 78.97 L565.33 78.56 L565.83 78.15 L566.33 77.75 L566.83 77.34 L567.33 76.94 L567.83 76.54 L568.32 76.14 L568.82 75.74 L569.32 75.33 L569.82 74.92 L570.32 74.51 L570.82 74.11 L571.31 73.71 L571.81 73.31 L572.31 72.93 L572.81 72.55 L573.31 72.19 L573.81 71.84 L574.31 71.51 L574.8 71.2 L575.3 70.89 L575.8 70.59 L576.3 70.28 L576.8 69.98 L577.3 69.68 L577.8 69.39 L578.29 69.1 L578.79 68.82 L579.29 68.54 L579.79 68.28 L580.29 68.03 L580.79 67.79 L581.29 67.57 L581.78 67.36 L582.28 67.17 L582.78 66.99 L583.28 66.84 L583.78 66.71 L584.28 66.58 L584.78 66.46 L585.27 66.34 L585.77 66.22 L586.27 66.11 L586.77 65.99 L587.27 65.88 L587.77 65.78 L588.27 65.68 L588.76 65.58 L589.26 65.49 L589.76 65.4 L590.26 65.32 L590.76 65.24 L591.26 65.17 L591.76 65.11 L592.25 65.05 L592.75 65.01 L593.25 64.97 L593.75 64.94 L594.25 64.91 L594.75 64.9 L595.24 64.9 L595.74 64.9 L596.24 64.9 L596.74 64.9 L597.24 64.9 L597.74 64.9 L598.24 64.9 L598.73 64.9 L599.23 64.9 L599.73 64.9 L600.23 64.9 L600.73 64.9 L601.23 64.9 L601.73 64.9 L602.22 64.91 L602.72 64.93 L603.22 64.95 L603.72 64.97 L604.22 65 L604.72 65.03 L605.22 65.07 L605.71 65.11 L606.21 65.15 L606.71 65.18 L607.21 65.22 L607.71 65.26 L608.21 65.3 L608.71 65.34 L609.2 65.37 L609.7 65.41 L610.2 65.43 L610.7 65.46 L611.2 65.48 L611.7 65.49 L612.2 65.5 L612.69 65.5 L613.19 65.5 L613.69 65.49 L614.19 65.49 L614.69 65.48 L615.19 65.47 L615.69 65.45 L616.18 65.44 L616.68 65.42 L617.18 65.4 L617.68 65.38 L618.18 65.35 L618.68 65.33 L619.17 65.3 L619.67 65.28 L620.17 65.25 L620.67 65.22 L621.17 65.18 L621.67 65.15 L622.17 65.12 L622.66 65.08 L623.16 65.05 L623.66 65.01 L624.16 64.97 L624.66 64.92 L625.16 64.86 L625.66 64.78 L626.15 64.7 L626.65 64.61 L627.15 64.51 L627.65 64.4 L628.15 64.28 L628.65 64.16 L629.15 64.03 L629.64 63.9 L630.14 63.76 L630.64 63.62 L631.14 63.47 L631.64 63.33 L632.14 63.17 L632.64 63.02 L633.13 62.87 L633.63 62.72 L634.13 62.56 L634.63 62.41 L635.13 62.26 L635.63 62.11 L636.13 61.95 L636.62 61.78 L637.12 61.61 L637.62 61.44 L638.12 61.26 L638.62 61.08 L639.12 60.89 L639.62 60.7 L640.11 60.5 L640.61 60.3 L641.11 60.1 L641.61 59.89 L642.11 59.68 L642.61 59.46 L643.1 59.25 L643.6 59.03 L644.1 58.81 L644.6 58.58 L645.1 58.35 L645.6 58.13 L646.1 57.89 L646.59 57.66 L647.09 57.42 L647.59 57.17 L648.09 56.92 L648.59 56.66 L649.09 56.39 L649.59 56.12 L650.08 55.84 L650.58 55.56 L651.08 55.28 L651.58 54.99 L652.08 54.7 L652.58 54.41 L653.08 54.11 L653.57 53.82 L654.07 53.52 L654.57 53.23 L655.07 52.93 L655.57 52.63 L656.07 52.34 L656.57 52.04 L657.06 51.75 L657.56 51.46 L658.06 51.18 L658.56 50.89 L659.06 50.61 L659.56 50.32 L660.06 50.04 L660.55 49.75 L661.05 49.47 L661.55 49.18 L662.05 48.9 L662.55 48.61 L663.05 48.32 L663.55 48.03 L664.04 47.74 L664.54 47.45 L665.04 47.15 L665.54 46.85 L666.04 46.55 L666.54 46.24 L667.03 45.93 L667.53 45.62 L668.03 45.3 L668.53 44.98 L669.03 44.65 L669.53 44.32 L670.03 43.98 L670.52 43.64 L671.02 43.3 L671.52 42.95 L672.02 42.6 L672.52 42.24 L673.02 41.88 L673.52 41.52 L674.01 41.15 L674.51 40.78 L675.01 40.41 L675.51 40.03 L676.01 39.65 L676.51 39.26 L677.01 38.88 L677.5 38.49 L678 38.09 L678.5 37.7 L679 37.3" fill="none" stroke="#108A8A" stroke-width="2.1" stroke-linejoin="round" stroke-linecap="round"/>
</g>
<rect x="508.7" y="5.9" width="169.9" height="123.2" fill="none" stroke="#000" stroke-width="2.5"/>
<line x1="521" y1="129.1" x2="521" y2="125.7" stroke="#000" stroke-width="1.8"/>
<line x1="545.15" y1="129.1" x2="545.15" y2="126.3" stroke="#000" stroke-width="1.8"/>
<line x1="569.3" y1="129.1" x2="569.3" y2="125.7" stroke="#000" stroke-width="1.8"/>
<line x1="593.45" y1="129.1" x2="593.45" y2="126.3" stroke="#000" stroke-width="1.8"/>
<line x1="617.6" y1="129.1" x2="617.6" y2="125.7" stroke="#000" stroke-width="1.8"/>
<line x1="641.75" y1="129.1" x2="641.75" y2="126.3" stroke="#000" stroke-width="1.8"/>
<line x1="665.9" y1="129.1" x2="665.9" y2="125.7" stroke="#000" stroke-width="1.8"/>
<text x="507.5" y="141.4" font-size="12.2" textLength="27" lengthAdjust="spacingAndGlyphs" fill="#000" font-family='"Liberation Sans", sans-serif' font-weight="bold">8332</text>
<text x="555.8" y="141.4" font-size="12.2" textLength="27" lengthAdjust="spacingAndGlyphs" fill="#000" font-family='"Liberation Sans", sans-serif' font-weight="bold">8334</text>
<text x="604.1" y="141.4" font-size="12.2" textLength="27" lengthAdjust="spacingAndGlyphs" fill="#000" font-family='"Liberation Sans", sans-serif' font-weight="bold">8336</text>
<text x="652.4" y="141.4" font-size="12.2" textLength="27" lengthAdjust="spacingAndGlyphs" fill="#000" font-family='"Liberation Sans", sans-serif' font-weight="bold">8338</text>
<text x="560.8" y="166.2" font-size="12.8" textLength="64.8" lengthAdjust="spacingAndGlyphs" fill="#000" font-family='"Liberation Sans", sans-serif' font-weight="bold">Energy (eV)</text>
<text transform="translate(495.6 118.2) rotate(-90)" font-size="14.6" textLength="91.2" lengthAdjust="spacingAndGlyphs" font-family='"Liberation Serif", serif' font-weight="bold" fill="#000">Intensity (a.u.)</text>
<text x="515.6" y="20.7" font-size="11.2" textLength="50.8" lengthAdjust="spacingAndGlyphs" fill="#000" font-family='"Liberation Sans", sans-serif' font-weight="bold">Ni K-edge</text>
<line x1="515" y1="37.8" x2="526.6" y2="37.8" stroke="#FF8000" stroke-width="2.1"/>
<line x1="515" y1="53.9" x2="526.6" y2="53.9" stroke="#8B0000" stroke-width="2.1"/>
<line x1="561.6" y1="99.2" x2="573.4" y2="99.2" stroke="#0000A8" stroke-width="2.1"/>
<line x1="561.6" y1="116.9" x2="573.4" y2="116.9" stroke="#108A8A" stroke-width="2.1"/>
<text x="530.4" y="43.4" font-size="11.4" textLength="106.1" lengthAdjust="spacingAndGlyphs" fill="#000" font-family='"Liberation Sans", sans-serif' font-weight="bold">Undoped SNCM, 50 th</text>
<text x="529.9" y="59.2" font-size="11.4" textLength="106.1" lengthAdjust="spacingAndGlyphs" fill="#000" font-family='"Liberation Sans", sans-serif' font-weight="bold">Undoped SNCM, 80 th</text>
<text x="576.8" y="103.2" font-size="11.4" textLength="90.2" lengthAdjust="spacingAndGlyphs" fill="#000" font-family='"Liberation Sans", sans-serif' font-weight="bold">AZ0.3-SNCM, 50 th</text>
<text x="576.3" y="121.4" font-size="11.4" textLength="89.7" lengthAdjust="spacingAndGlyphs" fill="#000" font-family='"Liberation Sans", sans-serif' font-weight="bold">AZ0.3-SNCM, 80 th</text>
<text x="476.8" y="14.8" font-size="20" textLength="9.9" lengthAdjust="spacingAndGlyphs" fill="#000" font-family='"Liberation Sans", sans-serif' font-weight="bold">c</text>
<g clip-path="url(#clipd)">
<path d="M43.8 259.4 L44.3 258.76 L44.8 258.22 L45.3 257.78 L45.8 257.43 L46.3 257.17 L46.79 257 L47.29 256.91 L47.79 256.92 L48.29 257.17 L48.79 257.61 L49.29 258.14 L49.79 258.67 L50.29 259.12 L50.79 259.37 L51.29 259.35 L51.79 259.09 L52.28 258.64 L52.78 258.08 L53.28 257.48 L53.78 256.9 L54.28 256.42 L54.78 256.1 L55.28 256.01 L55.78 256.26 L56.28 256.81 L56.78 257.52 L57.28 258.25 L57.77 258.9 L58.27 259.31 L58.77 259.35 L59.27 258.71 L59.77 257.51 L60.27 256 L60.77 254.42 L61.27 252.99 L61.77 251.97 L62.27 251.43 L62.77 251.04 L63.27 250.73 L63.76 250.45 L64.26 250.17 L64.76 249.82 L65.26 249.35 L65.76 248.69 L66.26 247.73 L66.76 246.52 L67.26 245.13 L67.76 243.62 L68.26 242.05 L68.76 240.35 L69.25 238.26 L69.75 235.98 L70.25 233.75 L70.75 231.79 L71.25 230.24 L71.75 228.69 L72.25 227.35 L72.75 226.52 L73.25 226.46 L73.75 226.88 L74.25 227.61 L74.74 228.51 L75.24 229.56 L75.74 231.16 L76.24 233.1 L76.74 235.08 L77.24 237.05 L77.74 239.25 L78.24 241.56 L78.74 243.87 L79.24 246.07 L79.74 248.02 L80.23 249.62 L80.73 250.77 L81.23 251.76 L81.73 252.71 L82.23 253.58 L82.73 254.34 L83.23 254.95 L83.73 255.37 L84.23 255.58 L84.73 255.41 L85.23 254.46 L85.72 252.91 L86.22 250.95 L86.72 248.78 L87.22 246.27 L87.72 242.63 L88.22 238.37 L88.72 234.14 L89.22 230.46 L89.72 227.07 L90.22 223.77 L90.72 220.5 L91.21 216.89 L91.71 213.18 L92.21 210.15 L92.71 208.37 L93.21 207.03 L93.71 206.16 L94.21 206.08 L94.71 206.82 L95.21 208.11 L95.71 209.87 L96.21 213.29 L96.71 217.58 L97.2 221.61 L97.7 225.79 L98.2 230.04 L98.7 233.97 L99.2 237.28 L99.7 240.43 L100.2 243.19 L100.7 245.14 L101.2 246.24 L101.7 247.17 L102.2 247.95 L102.69 248.62 L103.19 249.19 L103.69 249.68 L104.19 250.11 L104.69 250.49 L105.19 250.83 L105.69 251.12 L106.19 251.36 L106.69 251.58 L107.19 251.78 L107.69 251.97 L108.18 252.18 L108.68 252.41 L109.18 252.68 L109.68 252.99 L110.18 253.41 L110.68 253.98 L111.18 254.65 L111.68 255.38 L112.18 256.13 L112.68 256.85 L113.18 257.5 L113.67 258.04 L114.17 258.41 L114.67 258.59 L115.17 258.55 L115.67 258.36 L116.17 258.07 L116.67 257.72 L117.17 257.37 L117.67 257.07 L118.17 256.86 L118.67 256.8 L119.16 256.87 L119.66 257.03 L120.16 257.24 L120.66 257.48 L121.16 257.7 L121.66 257.88 L122.16 257.99 L122.66 257.97 L123.16 257.76 L123.66 257.41 L124.16 256.98 L124.65 256.51 L125.15 256.08 L125.65 255.73 L126.15 255.53 L126.65 255.52 L127.15 255.69 L127.65 255.99 L128.15 256.38 L128.65 256.8 L129.15 257.23 L129.65 257.62 L130.15 258.11 L130.64 258.66 L131.14 259.15 L131.64 259.45 L132.14 259.43 L132.64 258.9 L133.14 258.03 L133.64 257.01 L134.14 256.05 L134.64 255.32 L135.14 254.63 L135.64 253.91 L136.13 253.26 L136.63 252.75 L137.13 252.45 L137.63 252.43 L138.13 252.71 L138.63 253.19 L139.13 253.78 L139.63 254.39 L140.13 254.94 L140.63 255.6 L141.13 256.37 L141.62 257.13 L142.12 257.76 L142.62 258.14 L143.12 258.12 L143.62 257.45 L144.12 256.28 L144.62 254.81 L145.12 253.26 L145.62 251.85 L146.12 250.78 L146.62 249.78 L147.11 248.74 L147.61 247.71 L148.11 246.74 L148.61 245.88 L149.11 245.19 L149.61 244.71 L150.11 244.51 L150.61 244.53 L151.11 244.66 L151.61 244.86 L152.11 245.12 L152.6 245.42 L153.1 245.74 L153.6 246.07 L154.1 246.49 L154.6 247 L155.1 247.6 L155.6 248.25 L156.1 248.92 L156.6 249.6 L157.1 250.32 L157.6 251.14 L158.09 252 L158.59 252.87 L159.09 253.71 L159.59 254.47 L160.09 255.11 L160.59 255.73 L161.09 256.36 L161.59 256.94 L162.09 257.42 L162.59 257.76 L163.09 257.91 L163.59 257.98 L164.08 258.04 L164.58 258.09 L165.08 258.13 L165.58 258.17 L166.08 258.2 L166.58 258.22 L167.08 258.25 L167.58 258.27 L168.08 258.3 L168.58 258.32 L169.08 258.35 L169.57 258.37 L170.07 258.39 L170.57 258.41 L171.07 258.42 L171.57 258.44 L172.07 258.46 L172.57 258.47 L173.07 258.49 L173.57 258.51 L174.07 258.53 L174.57 258.55 L175.06 258.57 L175.56 258.59 L176.06 258.62 L176.56 258.65 L177.06 258.69 L177.56 258.73 L178.06 258.78 L178.56 258.83 L179.06 258.88 L179.56 258.93 L180.06 258.99 L180.55 259.04 L181.05 259.09 L181.55 259.14 L182.05 259.19 L182.55 259.24 L183.05 259.28 L183.55 259.31 L184.05 259.34 L184.55 259.37 L185.05 259.39 L185.55 259.4 L186.04 259.4 L186.54 259.39 L187.04 259.38 L187.54 259.36 L188.04 259.33 L188.54 259.3 L189.04 259.26 L189.54 259.22 L190.04 259.18 L190.54 259.13 L191.04 259.08 L191.53 259.03 L192.03 258.98 L192.53 258.93 L193.03 258.87 L193.53 258.82 L194.03 258.77 L194.53 258.72 L195.03 258.68 L195.53 258.64 L196.03 258.6 L196.53 258.56 L197.03 258.53 L197.52 258.49 L198.02 258.46 L198.52 258.43 L199.02 258.4 L199.52 258.36 L200.02 258.33 L200.52 258.3 L201.02 258.27 L201.52 258.24 L202.02 258.2 L202.52 258.17 L203.01 258.14 L203.51 258.11 L204.01 258.07 L204.51 258.04 L205.01 258.01 L205.51 257.97 L206.01 257.94 L206.51 257.91 L207.01 257.87 L207.51 257.84 L208.01 257.8 L208.5 257.77 L209 257.74 L209.5 257.7 L210 257.67 L210.5 257.63 L211 257.6" fill="none" stroke="#108A8A" stroke-width="2.1" stroke-linejoin="round" stroke-linecap="round"/>
<path d="M43.8 294.6 L44.3 294.09 L44.8 293.68 L45.3 293.34 L45.8 293.08 L46.3 292.89 L46.79 292.77 L47.29 292.71 L47.79 292.72 L48.29 292.94 L48.79 293.32 L49.29 293.79 L49.79 294.26 L50.29 294.65 L50.79 294.88 L51.29 294.84 L51.79 294.48 L52.28 293.87 L52.78 293.12 L53.28 292.3 L53.78 291.52 L54.28 290.86 L54.78 290.43 L55.28 290.31 L55.78 290.65 L56.28 291.39 L56.78 292.35 L57.28 293.35 L57.77 294.22 L58.27 294.78 L58.77 294.84 L59.27 294.12 L59.77 292.79 L60.27 291.1 L60.77 289.32 L61.27 287.73 L61.77 286.59 L62.27 285.98 L62.77 285.54 L63.27 285.19 L63.76 284.88 L64.26 284.56 L64.76 284.17 L65.26 283.67 L65.76 282.97 L66.26 282.01 L66.76 280.83 L67.26 279.46 L67.76 277.96 L68.26 276.37 L68.76 274.57 L69.25 272.26 L69.75 269.7 L70.25 267.16 L70.75 264.92 L71.25 263.12 L71.75 261.31 L72.25 259.72 L72.75 258.74 L73.25 258.65 L73.75 259.02 L74.25 259.67 L74.74 260.52 L75.24 261.65 L75.74 263.86 L76.24 266.62 L76.74 269.23 L77.24 271.44 L77.74 273.67 L78.24 275.87 L78.74 278.01 L79.24 280.04 L79.74 281.93 L80.23 283.61 L80.73 285.07 L81.23 286.47 L81.73 287.79 L82.23 288.91 L82.73 289.72 L83.23 290.17 L83.73 290.52 L84.23 290.79 L84.73 290.96 L85.23 290.96 L85.72 290.05 L86.22 288.16 L86.72 285.52 L87.22 282.41 L87.72 279.07 L88.22 275.77 L88.72 271.79 L89.22 266.86 L89.72 261.63 L90.22 256.75 L90.72 252.9 L91.21 249.82 L91.71 247.07 L92.21 244.9 L92.71 243.44 L93.21 242.25 L93.71 241.62 L94.21 241.86 L94.71 242.69 L95.21 243.79 L95.71 245.11 L96.21 246.92 L96.71 249.1 L97.2 251.58 L97.7 254.92 L98.2 258.96 L98.7 263.38 L99.2 267.83 L99.7 271.98 L100.2 275.49 L100.7 278.03 L101.2 279.68 L101.7 281.17 L102.2 282.51 L102.69 283.7 L103.19 284.73 L103.69 285.59 L104.19 286.28 L104.69 286.79 L105.19 287.17 L105.69 287.49 L106.19 287.75 L106.69 287.98 L107.19 288.18 L107.69 288.37 L108.18 288.56 L108.68 288.77 L109.18 289.01 L109.68 289.29 L110.18 289.61 L110.68 289.94 L111.18 290.3 L111.68 290.68 L112.18 291.08 L112.68 291.52 L113.18 291.98 L113.67 292.5 L114.17 293.25 L114.67 294.13 L115.17 294.94 L115.67 295.48 L116.17 295.57 L116.67 295.24 L117.17 294.61 L117.67 293.8 L118.17 292.92 L118.67 292.09 L119.16 291.43 L119.66 291.05 L120.16 291.02 L120.66 291.14 L121.16 291.33 L121.66 291.58 L122.16 291.83 L122.66 292.06 L123.16 292.23 L123.66 292.3 L124.16 292.19 L124.65 291.87 L125.15 291.46 L125.65 291.08 L126.15 290.84 L126.65 290.83 L127.15 291.02 L127.65 291.35 L128.15 291.78 L128.65 292.25 L129.15 292.71 L129.65 293.12 L130.15 293.62 L130.64 294.17 L131.14 294.65 L131.64 294.95 L132.14 294.92 L132.64 294.32 L133.14 293.34 L133.64 292.19 L134.14 291.11 L134.64 290.3 L135.14 289.54 L135.64 288.76 L136.13 288.04 L136.63 287.48 L137.13 287.15 L137.63 287.14 L138.13 287.47 L138.63 288.04 L139.13 288.75 L139.63 289.49 L140.13 290.17 L140.63 291.02 L141.13 292.01 L141.62 293 L142.12 293.82 L142.62 294.32 L143.12 294.32 L143.62 293.63 L144.12 292.41 L144.62 290.89 L145.12 289.3 L145.62 287.86 L146.12 286.78 L146.62 285.8 L147.11 284.78 L147.61 283.78 L148.11 282.85 L148.61 282.03 L149.11 281.36 L149.61 280.91 L150.11 280.71 L150.61 280.74 L151.11 280.88 L151.61 281.1 L152.11 281.38 L152.6 281.7 L153.1 282.04 L153.6 282.37 L154.1 282.74 L154.6 283.17 L155.1 283.64 L155.6 284.16 L156.1 284.72 L156.6 285.3 L157.1 285.97 L157.6 286.77 L158.09 287.64 L158.59 288.51 L159.09 289.33 L159.59 290.04 L160.09 290.59 L160.59 291.05 L161.09 291.49 L161.59 291.88 L162.09 292.21 L162.59 292.46 L163.09 292.62 L163.59 292.73 L164.08 292.83 L164.58 292.92 L165.08 293 L165.58 293.07 L166.08 293.13 L166.58 293.19 L167.08 293.24 L167.58 293.29 L168.08 293.33 L168.58 293.38 L169.08 293.43 L169.57 293.48 L170.07 293.54 L170.57 293.6 L171.07 293.66 L171.57 293.74 L172.07 293.81 L172.57 293.89 L173.07 293.98 L173.57 294.06 L174.07 294.14 L174.57 294.23 L175.06 294.31 L175.56 294.39 L176.06 294.47 L176.56 294.55 L177.06 294.62 L177.56 294.68 L178.06 294.74 L178.56 294.79 L179.06 294.83 L179.56 294.86 L180.06 294.89 L180.55 294.9 L181.05 294.9 L181.55 294.89 L182.05 294.88 L182.55 294.86 L183.05 294.83 L183.55 294.8 L184.05 294.77 L184.55 294.73 L185.05 294.69 L185.55 294.64 L186.04 294.59 L186.54 294.54 L187.04 294.49 L187.54 294.44 L188.04 294.39 L188.54 294.33 L189.04 294.28 L189.54 294.23 L190.04 294.18 L190.54 294.13 L191.04 294.09 L191.53 294.04 L192.03 293.99 L192.53 293.93 L193.03 293.87 L193.53 293.81 L194.03 293.74 L194.53 293.67 L195.03 293.61 L195.53 293.54 L196.03 293.48 L196.53 293.42 L197.03 293.36 L197.52 293.3 L198.02 293.25 L198.52 293.21 L199.02 293.17 L199.52 293.14 L200.02 293.12 L200.52 293.1 L201.02 293.1 L201.52 293.1 L202.02 293.1 L202.52 293.1 L203.01 293.1 L203.51 293.1 L204.01 293.1 L204.51 293.1 L205.01 293.1 L205.51 293.1 L206.01 293.1 L206.51 293.1 L207.01 293.1 L207.51 293.1 L208.01 293.1 L208.5 293.1 L209 293.1 L209.5 293.1 L210 293.1 L210.5 293.1 L211 293.1" fill="none" stroke="#0000A0" stroke-width="2.1" stroke-linejoin="round" stroke-linecap="round"/>
</g>
<line x1="74.3" y1="190.5" x2="74.3" y2="312" stroke="#000" stroke-width="1.3" stroke-dasharray="1.4 1.4"/>
<line x1="95.1" y1="190.5" x2="95.1" y2="312" stroke="#000" stroke-width="1.3" stroke-dasharray="1.4 1.4"/>
<rect x="42.1" y="189.5" width="169.2" height="123.3" fill="none" stroke="#000" stroke-width="2.5"/>
<line x1="41.9" y1="312.8" x2="41.9" y2="316.4" stroke="#000" stroke-width="1.8"/>
<line x1="63.03" y1="312.8" x2="63.03" y2="315.6" stroke="#000" stroke-width="1.8"/>
<line x1="84.16" y1="312.8" x2="84.16" y2="316.4" stroke="#000" stroke-width="1.8"/>
<line x1="105.29" y1="312.8" x2="105.29" y2="315.6" stroke="#000" stroke-width="1.8"/>
<line x1="126.42" y1="312.8" x2="126.42" y2="316.4" stroke="#000" stroke-width="1.8"/>
<line x1="147.55" y1="312.8" x2="147.55" y2="315.6" stroke="#000" stroke-width="1.8"/>
<line x1="168.68" y1="312.8" x2="168.68" y2="316.4" stroke="#000" stroke-width="1.8"/>
<line x1="189.81" y1="312.8" x2="189.81" y2="315.6" stroke="#000" stroke-width="1.8"/>
<line x1="210.94" y1="312.8" x2="210.94" y2="316.4" stroke="#000" stroke-width="1.8"/>
<text x="38.5" y="328.3" font-size="12" textLength="6.8" lengthAdjust="spacingAndGlyphs" fill="#000" font-family='"Liberation Sans", sans-serif' font-weight="bold">0</text>
<text x="80.76" y="328.3" font-size="12" textLength="6.8" lengthAdjust="spacingAndGlyphs" fill="#000" font-family='"Liberation Sans", sans-serif' font-weight="bold">2</text>
<text x="123.02" y="328.3" font-size="12" textLength="6.8" lengthAdjust="spacingAndGlyphs" fill="#000" font-family='"Liberation Sans", sans-serif' font-weight="bold">4</text>
<text x="165.28" y="328.3" font-size="12" textLength="6.8" lengthAdjust="spacingAndGlyphs" fill="#000" font-family='"Liberation Sans", sans-serif' font-weight="bold">6</text>
<text x="207.54" y="328.3" font-size="12" textLength="6.8" lengthAdjust="spacingAndGlyphs" fill="#000" font-family='"Liberation Sans", sans-serif' font-weight="bold">8</text>
<text x="73.2" y="351.8" font-size="12.6" textLength="107.7" lengthAdjust="spacingAndGlyphs" fill="#000" font-family='"Liberation Sans", sans-serif' font-weight="bold">Radial distance (&#197;)</text>
<text x="59.8" y="185" font-size="9.6" textLength="19.3" lengthAdjust="spacingAndGlyphs" fill="#000" font-family='"Liberation Sans", sans-serif' font-weight="bold">Ni-O</text>
<text x="87.6" y="185" font-size="9.6" textLength="21.3" lengthAdjust="spacingAndGlyphs" fill="#000" font-family='"Liberation Sans", sans-serif' font-weight="bold">Ni-M</text>
<text x="136.9" y="203.7" font-size="11.6" textLength="67.4" lengthAdjust="spacingAndGlyphs" fill="#000" font-family='"Liberation Sans", sans-serif' font-weight="bold">AZ0.3-SNCM</text>
<text x="177" y="249.8" font-size="12.2" textLength="26.6" lengthAdjust="spacingAndGlyphs" fill="#108A8A" font-family='"Liberation Sans", sans-serif' font-weight="bold">80 th</text>
<text x="178.2" y="285.2" font-size="12.2" textLength="26.7" lengthAdjust="spacingAndGlyphs" fill="#0000A0" font-family='"Liberation Sans", sans-serif' font-weight="bold">50 th</text>
<text x="15.7" y="191.3" font-size="20" textLength="10.9" lengthAdjust="spacingAndGlyphs" fill="#000" font-family='"Liberation Sans", sans-serif' font-weight="bold">d</text>
<text transform="translate(22.6 288) rotate(-90)" font-size="13.5" font-weight="bold" fill="#000" font-family='"Liberation Sans", sans-serif'><tspan font-family='"Liberation Serif", serif'>|&#967;(R)|</tspan><tspan>(&#197;</tspan><tspan font-size="8.5" dy="-6">-3</tspan><tspan dy="6" font-family='"Liberation Serif", serif'>)</tspan></text>
<clipPath id="hce"><rect x="278.4" y="190.3" width="136.1" height="125.3"/></clipPath>
<g clip-path="url(#hce)">
<g filter="url(#hblur)">
<rect x="276.4" y="188.3" width="140.1" height="129.3" fill="#0001f0"/>
<path d="M415.4 316.3 277.4 316.3 277.4 189.3 415.4 189.3 415.4 316.3ZM319.5 219.8 318.9 219.7 318.6 219.8 318.9 220.2 319.5 219.8Z" fill="#0005f1" fill-rule="evenodd"/>
<path d="M415.4 316.3 277.4 316.3 277.4 189.3 415.4 189.3 415.4 316.3ZM363.2 219.8 363.9 219.6 364.4 219.3 365.4 218.2 366.0 216.8 366.2 215.8 366.3 214.8 366.0 213.3 365.3 211.8 364.4 211.0 363.9 210.8 362.9 210.6 362.3 210.8 361.4 211.3 360.5 212.3 359.9 213.8 359.7 214.8 359.6 215.8 359.9 217.3 360.4 218.3 360.7 218.8 361.3 219.3 361.9 219.7 362.4 219.8 363.2 219.8ZM318.6 225.8 321.9 225.3 324.4 224.6 327.0 223.3 328.8 221.8 329.7 220.3 330.0 219.3 330.1 218.3 329.9 217.3 329.4 216.3 328.7 215.3 327.9 214.6 325.9 213.3 323.4 212.4 320.9 212.1 318.4 212.2 315.6 212.8 313.1 213.8 310.9 215.2 309.4 216.7 308.4 218.4 308.1 219.3 308.0 220.3 308.3 221.8 308.9 222.8 309.3 223.3 310.9 224.4 313.2 225.3 315.9 225.8 318.6 225.8Z" fill="#000af3" fill-rule="evenodd"/>
<path d="M415.4 316.3 277.4 316.3 277.4 189.3 415.4 189.3 415.4 316.3ZM364.1 219.8 364.8 219.3 365.3 218.8 365.9 217.8 366.5 216.3 366.6 214.3 366.2 212.8 365.9 212.0 365.4 211.3 364.4 210.5 363.9 210.3 362.9 210.1 362.2 210.3 361.4 210.7 360.8 211.3 360.1 212.3 359.7 213.3 359.4 214.3 359.4 216.3 359.6 217.3 359.9 218.1 360.3 218.8 360.9 219.4 361.4 219.8 362.4 220.1 363.4 220.1 364.1 219.8ZM320.8 225.8 323.9 225.0 326.7 223.8 328.8 222.3 330.0 220.8 330.6 219.3 330.7 218.3 330.5 217.3 330.1 216.3 329.4 215.3 327.9 213.9 325.9 212.7 323.4 211.9 320.9 211.6 317.9 211.8 314.9 212.6 312.4 213.7 310.4 215.1 308.7 216.8 308.1 217.8 307.7 218.8 307.4 219.8 307.4 220.8 307.9 222.3 308.7 223.3 309.4 223.9 311.4 225.0 314.2 225.8 317.4 226.1 320.8 225.8Z" fill="#000ff4" fill-rule="evenodd"/>
<path d="M415.4 316.3 277.4 316.3 277.4 189.3 415.4 189.3 415.4 316.3ZM363.8 222.8 364.9 222.4 365.9 221.8 367.0 220.8 368.0 219.3 368.8 217.8 369.4 215.8 369.7 214.3 369.8 212.3 369.5 210.3 369.0 208.8 368.3 207.3 367.4 206.1 366.4 205.2 365.4 204.5 364.4 204.1 362.9 204.0 361.4 204.3 359.9 205.1 358.9 205.9 357.8 207.3 356.9 209.0 356.3 210.8 355.9 212.8 355.8 214.8 356.1 216.8 356.6 218.3 357.4 219.8 358.4 221.1 359.4 221.9 360.9 222.7 362.4 223.0 363.8 222.8ZM318.0 228.3 320.9 228.0 323.9 227.4 326.4 226.8 329.2 225.8 331.4 224.8 333.1 223.8 334.4 222.8 335.9 221.3 336.9 219.8 337.5 218.3 337.7 216.8 337.6 215.3 337.2 213.8 336.4 212.1 335.4 210.7 333.9 209.3 332.4 208.2 330.9 207.4 328.9 206.6 326.9 206.0 324.9 205.7 322.9 205.6 320.9 205.6 318.9 205.8 316.4 206.4 314.4 207.0 312.4 207.8 310.4 208.8 308.4 210.0 306.7 211.3 305.0 212.8 303.6 214.3 302.6 215.8 301.7 217.3 301.2 218.8 301.0 219.8 301.1 221.3 301.3 222.3 301.9 223.3 302.7 224.3 303.8 225.3 305.5 226.3 306.9 226.9 308.9 227.5 310.9 228.0 313.4 228.3 318.0 228.3ZM409.2 278.3 411.0 277.8 411.2 277.3 409.9 276.8 408.9 276.7 406.4 276.5 403.9 276.5 400.9 276.9 399.4 277.3 399.3 277.8 400.7 278.3 403.4 278.5 406.4 278.5 409.2 278.3Z" fill="#0018f6" fill-rule="evenodd"/>
<path d="M415.4 316.3 277.4 316.3 277.4 189.3 315.3 189.3 315.3 191.3 314.9 193.3 314.1 195.3 313.2 196.8 312.0 198.3 310.6 199.8 301.9 207.7 299.4 210.3 297.6 212.3 295.6 214.8 294.4 216.8 293.5 218.8 293.2 220.3 293.2 221.3 293.4 222.3 294.2 223.8 295.8 225.3 298.3 226.8 301.4 228.1 304.9 229.1 308.4 229.7 311.9 230.0 316.9 230.0 321.9 229.5 327.5 228.3 332.5 226.8 336.2 225.3 339.1 223.8 342.1 221.8 346.9 217.9 347.9 217.3 348.9 217.0 349.9 217.2 350.9 217.7 351.9 218.5 354.2 220.8 355.9 222.3 357.3 223.3 358.4 223.9 359.9 224.5 361.9 224.8 363.4 224.8 364.9 224.4 366.4 223.7 367.6 222.8 368.7 221.8 369.9 220.3 372.1 216.8 375.9 208.7 376.4 208.0 377.4 206.8 378.9 205.8 383.9 203.7 386.4 202.5 393.4 198.4 395.9 197.0 398.4 196.0 401.4 195.0 403.4 194.6 405.4 194.4 407.4 194.4 408.9 194.5 410.9 194.8 412.4 195.2 413.9 195.8 415.4 196.5 415.4 276.7 413.9 276.2 410.4 275.8 406.9 275.7 402.9 275.8 398.7 276.3 396.6 276.8 395.6 277.3 395.4 277.8 396.0 278.3 397.9 278.8 400.9 279.2 403.9 279.4 407.4 279.3 410.4 279.2 413.3 278.8 415.4 278.3 415.4 316.3Z" fill="#0022f8" fill-rule="evenodd"/>
<path d="M277.9 215.4 277.4 215.4 277.4 189.3 298.5 189.3 298.8 191.3 298.9 193.3 298.7 195.3 298.4 196.8 297.9 198.3 296.9 200.3 296.0 201.8 294.5 203.8 292.4 206.3 290.4 208.3 287.9 210.5 285.9 212.0 283.9 213.3 281.9 214.3 279.9 215.0 277.9 215.4ZM415.4 316.3 277.4 316.3 277.4 226.3 280.4 226.5 283.4 227.0 294.0 229.3 301.9 230.7 306.9 231.3 311.9 231.5 315.9 231.4 319.4 231.1 322.9 230.6 327.1 229.8 333.4 228.3 338.3 226.8 346.4 224.1 347.9 223.7 349.4 223.5 350.9 223.5 352.4 223.7 357.4 225.5 359.4 226.0 361.4 226.3 363.4 226.2 364.9 225.9 365.9 225.6 366.9 225.2 368.4 224.3 370.3 222.8 374.9 218.4 375.9 217.7 377.4 216.9 378.9 216.4 380.4 216.1 389.9 215.2 391.9 214.8 393.9 214.2 395.7 213.3 397.1 212.3 400.7 208.8 401.9 207.8 403.4 206.8 404.9 206.2 406.4 205.9 407.9 206.0 409.1 206.3 410.4 207.0 411.4 207.8 411.9 208.4 412.5 209.3 413.0 210.3 413.6 212.3 414.3 216.8 414.7 217.8 415.4 219.1 415.4 275.5 412.4 275.2 408.9 275.1 404.9 275.2 401.4 275.4 398.0 275.8 395.4 276.3 393.7 276.8 392.8 277.3 392.5 277.8 393.0 278.3 394.9 278.9 397.4 279.4 401.3 279.8 404.9 279.9 408.9 279.9 411.9 279.7 415.4 279.4 415.4 316.3Z" fill="#002bfb" fill-rule="evenodd"/>
<path d="M278.4 194.9 277.9 195.0 277.4 194.8 277.4 193.5 277.7 193.3 278.4 193.3 278.8 193.8 278.9 194.3 278.4 194.9ZM415.4 316.3 277.4 316.3 277.4 231.2 286.4 231.4 300.4 232.4 306.9 232.8 312.4 232.8 318.4 232.3 322.9 231.7 330.3 230.3 344.4 227.1 348.9 226.3 350.9 226.1 352.9 226.2 358.4 227.2 360.4 227.5 362.4 227.5 364.4 227.3 366.4 226.8 368.7 225.8 370.4 224.8 374.4 222.2 376.4 221.2 377.9 220.7 379.4 220.4 382.9 220.0 386.9 220.0 393.9 220.4 397.4 220.6 401.4 221.1 404.9 221.7 407.9 222.4 415.4 224.9 415.4 274.8 411.4 274.6 407.4 274.6 402.9 274.8 399.4 275.1 395.0 275.8 392.8 276.3 391.3 276.8 390.4 277.3 390.2 277.8 390.5 278.3 391.4 278.7 393.4 279.3 396.4 279.8 399.4 280.1 402.9 280.4 407.4 280.4 411.9 280.3 415.4 280.1 415.4 316.3Z" fill="#0030fc" fill-rule="evenodd"/>
<path d="M415.4 316.3 277.4 316.3 277.4 231.4 285.9 231.6 306.9 232.9 312.4 232.9 317.9 232.4 322.7 231.8 328.2 230.8 333.2 229.8 344.9 227.1 348.9 226.4 350.9 226.3 352.9 226.4 358.4 227.3 360.4 227.6 362.4 227.6 364.4 227.4 366.4 226.9 368.4 226.1 370.7 224.8 374.4 222.4 376.4 221.5 377.9 221.0 379.4 220.7 382.9 220.3 386.9 220.3 393.4 220.6 397.4 221.0 401.4 221.5 404.9 222.1 407.4 222.7 410.9 223.6 415.4 225.1 415.4 274.7 411.4 274.5 406.9 274.6 402.4 274.8 398.9 275.2 394.8 275.8 392.6 276.3 391.1 276.8 390.2 277.3 390.0 277.8 390.3 278.3 391.4 278.8 393.2 279.3 396.1 279.8 399.4 280.2 402.9 280.4 407.4 280.5 411.9 280.4 415.4 280.1 415.4 316.3Z" fill="#0034fd" fill-rule="evenodd"/>
<path d="M415.4 316.3 277.4 316.3 277.4 233.8 285.4 233.8 306.4 234.1 311.4 233.9 316.4 233.5 320.4 233.0 324.8 232.3 342.9 228.9 348.9 228.0 351.4 227.9 353.4 227.9 360.9 228.6 362.9 228.5 364.4 228.4 366.4 227.9 368.3 227.3 374.4 224.6 376.4 223.9 379.4 223.2 382.4 222.9 385.4 222.9 388.4 223.0 396.9 223.7 407.9 225.4 411.4 226.2 415.4 227.2 415.4 274.1 410.9 274.1 406.4 274.2 402.4 274.4 398.4 274.8 394.4 275.4 390.5 276.3 389.1 276.8 388.3 277.3 388.1 277.8 388.4 278.3 389.2 278.8 390.8 279.3 393.2 279.8 396.9 280.3 401.4 280.7 405.9 280.9 410.9 280.9 415.4 280.7 415.4 311.0 414.4 311.5 414.1 311.8 414.0 312.3 414.4 312.8 415.4 313.2 415.4 316.3ZM333.9 278.8 332.9 278.5 331.9 278.4 330.2 278.8 330.9 279.0 331.9 279.2 332.9 279.1 333.9 278.8Z" fill="#003eff" fill-rule="evenodd"/>
<path d="M415.4 316.3 277.4 316.3 277.4 236.0 291.9 235.7 304.9 235.3 313.4 234.7 320.8 233.8 340.4 230.5 347.9 229.4 352.4 229.2 360.4 229.5 362.4 229.5 364.4 229.3 367.9 228.5 375.9 225.9 378.9 225.4 382.4 225.0 385.4 224.9 388.4 225.0 396.4 225.6 407.4 227.1 411.9 228.0 415.4 228.8 415.4 273.6 410.4 273.6 405.4 273.8 400.4 274.2 395.8 274.8 391.4 275.6 388.5 276.3 387.2 276.8 386.5 277.3 386.2 277.8 386.4 278.3 386.9 278.6 388.5 279.3 391.4 280.0 395.9 280.6 400.4 281.0 404.9 281.3 410.4 281.4 415.4 281.3 415.4 310.1 414.4 310.4 413.4 310.8 412.6 311.3 412.3 311.8 412.1 312.3 412.3 312.8 412.9 313.4 413.9 313.9 415.4 314.2 415.4 316.3ZM335.5 279.3 336.2 278.8 335.6 278.3 332.9 277.9 330.9 277.9 329.4 278.1 328.7 278.3 328.1 278.8 328.6 279.3 330.9 279.7 333.4 279.7 335.5 279.3Z" fill="#0044ff" fill-rule="evenodd"/>
<path d="M415.4 316.3 277.4 316.3 277.4 236.3 291.9 236.0 304.9 235.5 309.4 235.2 313.9 234.8 320.9 233.9 340.9 230.6 347.9 229.6 352.4 229.3 360.4 229.6 362.4 229.6 364.4 229.4 367.4 228.8 373.9 226.7 376.4 226.1 379.4 225.6 382.4 225.3 385.4 225.2 388.4 225.3 393.4 225.6 396.9 225.9 408.4 227.5 411.9 228.2 415.4 229.1 415.4 273.5 409.9 273.5 404.4 273.8 399.9 274.2 395.4 274.8 391.4 275.5 388.2 276.3 386.9 276.8 386.1 277.3 385.9 277.8 386.1 278.3 386.8 278.8 388.1 279.3 391.4 280.0 395.9 280.7 400.4 281.1 404.9 281.3 410.4 281.4 415.4 281.3 415.4 310.0 414.2 310.3 413.1 310.8 412.4 311.3 412.0 311.8 411.9 312.3 412.0 312.8 412.4 313.3 412.9 313.6 413.9 314.0 415.4 314.4 415.4 316.3ZM332.4 279.8 333.9 279.7 335.4 279.4 335.8 279.3 336.5 278.8 335.9 278.3 335.4 278.2 333.9 277.9 332.4 277.8 330.9 277.8 329.4 278.1 328.4 278.3 327.8 278.8 328.3 279.3 328.9 279.5 330.4 279.7 332.4 279.8Z" fill="#004aff" fill-rule="evenodd"/>
<path d="M415.4 316.3 277.4 316.3 277.4 238.0 291.9 237.3 311.4 235.8 319.4 234.8 336.9 232.0 346.9 230.6 352.4 230.2 360.9 230.3 364.4 230.1 367.9 229.4 375.9 227.4 378.9 226.9 382.4 226.6 388.4 226.5 392.9 226.7 396.9 227.1 407.9 228.5 411.4 229.2 415.4 230.1 415.4 273.0 409.4 273.2 403.4 273.6 398.9 274.0 393.4 274.8 389.9 275.5 386.7 276.3 385.4 276.8 384.7 277.3 384.4 277.8 384.5 278.3 384.9 278.6 386.4 279.3 389.9 280.1 394.2 280.8 398.9 281.3 403.9 281.6 409.9 281.8 415.4 281.8 415.4 309.5 413.4 310.0 411.9 310.8 411.3 311.3 410.9 311.8 410.8 312.3 410.8 312.8 411.1 313.3 411.9 314.0 413.4 314.6 415.4 315.0 415.4 316.3ZM335.4 279.8 337.2 279.3 337.7 278.8 337.3 278.3 335.7 277.8 332.4 277.5 328.8 277.8 327.2 278.3 326.7 278.8 327.1 279.3 328.4 279.7 329.4 279.9 332.4 280.0 335.4 279.8Z" fill="#0054ff" fill-rule="evenodd"/>
<path d="M415.4 316.3 277.4 316.3 277.4 240.0 290.9 239.0 310.4 236.8 317.9 235.8 334.9 233.0 346.4 231.6 352.4 231.1 360.9 231.0 364.4 230.8 367.5 230.3 375.4 228.6 378.4 228.2 381.9 227.9 385.4 227.7 388.4 227.7 392.9 227.9 396.4 228.1 407.9 229.6 412.4 230.5 415.4 231.2 415.4 272.4 409.4 272.7 402.9 273.2 397.9 273.8 391.4 274.8 388.4 275.4 384.9 276.3 383.4 277.0 382.9 277.3 382.6 277.8 382.8 278.3 383.4 278.8 384.5 279.3 387.9 280.2 391.9 280.9 396.9 281.5 402.4 281.9 408.9 282.2 415.4 282.3 415.4 309.0 413.4 309.5 411.4 310.3 410.1 311.3 409.8 311.8 409.6 312.3 409.6 312.8 409.7 313.3 410.1 313.8 410.9 314.5 411.9 315.0 412.9 315.4 415.4 315.8 415.4 316.3ZM333.4 280.3 337.2 279.8 338.5 279.3 338.9 278.8 338.6 278.3 337.4 277.8 334.9 277.4 332.4 277.3 329.9 277.4 327.4 277.8 326.0 278.3 325.6 278.8 325.9 279.3 327.1 279.8 327.9 280.0 330.4 280.3 333.4 280.3Z" fill="#005bff" fill-rule="evenodd"/>
<path d="M415.4 316.3 277.4 316.3 277.4 240.5 290.9 239.4 300.4 238.2 309.9 237.1 318.4 235.9 332.4 233.6 344.4 232.0 351.9 231.3 360.9 231.2 364.4 231.0 367.4 230.5 375.4 228.9 378.4 228.4 381.9 228.1 388.4 228.0 393.4 228.1 396.9 228.4 408.4 229.9 411.9 230.6 415.4 231.5 415.4 272.3 408.9 272.6 402.9 273.1 397.3 273.8 391.4 274.7 388.2 275.3 384.5 276.3 383.3 276.8 382.5 277.3 382.2 277.8 382.4 278.3 382.9 278.8 384.0 279.3 387.8 280.3 391.4 280.9 396.9 281.6 402.4 282.0 408.9 282.3 415.4 282.5 415.4 308.9 412.9 309.5 411.1 310.3 409.8 311.3 409.5 311.8 409.3 312.3 409.3 312.8 409.4 313.3 409.7 313.8 410.2 314.3 410.9 314.8 412.9 315.6 415.4 316.0 415.4 316.3ZM334.4 280.3 337.5 279.8 338.8 279.3 339.2 278.8 338.9 278.3 337.7 277.8 334.9 277.3 332.4 277.2 329.8 277.3 327.4 277.7 325.7 278.3 325.3 278.8 325.6 279.3 326.4 279.7 328.4 280.1 330.9 280.4 334.4 280.3Z" fill="#0061ff" fill-rule="evenodd"/>
<path d="M412.9 316.3 277.4 316.3 277.4 242.1 281.9 241.7 290.9 240.5 300.4 239.0 312.6 237.3 328.4 234.6 339.4 233.1 345.4 232.4 350.9 232.0 360.9 231.7 363.9 231.5 367.4 231.0 375.4 229.5 380.9 228.9 387.9 228.7 392.9 228.8 396.4 229.0 407.9 230.5 411.4 231.2 415.4 232.2 415.4 271.8 402.4 272.9 395.9 273.8 390.4 274.6 386.9 275.3 383.2 276.3 381.9 276.9 381.3 277.3 381.0 277.8 381.1 278.3 381.7 278.8 382.9 279.4 386.2 280.3 390.4 281.0 395.9 281.7 401.4 282.2 407.9 282.6 415.4 282.9 415.4 308.5 412.4 309.3 410.2 310.3 409.0 311.3 408.7 311.8 408.4 312.8 408.7 313.8 409.6 314.8 410.9 315.6 413.1 316.3 412.9 316.3ZM336.1 280.3 338.5 279.8 339.6 279.3 340.0 278.8 339.7 278.3 338.7 277.8 337.9 277.6 335.4 277.2 332.4 277.0 329.4 277.2 326.9 277.6 326.0 277.8 325.0 278.3 324.6 278.8 324.8 279.3 325.8 279.8 328.0 280.3 331.9 280.6 336.1 280.3Z" fill="#006bff" fill-rule="evenodd"/>
<path d="M409.9 316.3 277.4 316.3 277.4 244.7 280.9 244.1 290.9 242.1 300.9 239.9 329.9 235.0 339.9 233.7 347.4 232.9 352.4 232.6 360.9 232.3 364.4 232.0 374.4 230.5 379.4 229.9 384.4 229.6 387.4 229.5 392.9 229.6 396.4 229.9 401.9 230.5 408.4 231.4 411.9 232.1 415.4 233.0 415.4 271.2 401.4 272.7 393.5 273.8 388.4 274.6 385.2 275.3 381.6 276.3 380.4 276.8 379.7 277.3 379.4 277.8 379.5 278.3 380.0 278.8 380.9 279.3 382.3 279.8 385.4 280.6 389.4 281.3 394.9 282.0 400.9 282.6 415.4 283.4 415.4 308.1 412.4 308.8 410.4 309.6 408.5 310.8 407.7 311.8 407.5 312.3 407.3 313.3 407.7 314.3 408.5 315.3 410.0 316.3 409.9 316.3ZM337.7 280.3 339.7 279.8 340.7 279.3 341.1 278.8 340.8 278.3 339.9 277.8 337.4 277.2 334.4 276.9 331.4 276.8 328.9 277.0 326.4 277.4 325.0 277.8 324.4 278.1 324.0 278.3 323.7 278.8 323.9 279.3 324.7 279.8 326.5 280.3 328.4 280.6 330.4 280.7 332.9 280.8 335.4 280.6 337.7 280.3Z" fill="#0072ff" fill-rule="evenodd"/>
<path d="M408.9 316.3 277.4 316.3 277.4 245.6 290.9 242.6 300.4 240.4 328.4 235.4 338.4 234.1 347.4 233.1 352.9 232.7 360.9 232.5 364.4 232.2 374.4 230.7 378.9 230.2 386.9 229.8 392.4 229.9 395.9 230.1 400.4 230.5 407.9 231.6 411.9 232.4 415.4 233.3 415.4 271.0 400.9 272.6 392.8 273.8 387.4 274.7 383.9 275.5 381.1 276.3 379.9 276.8 379.2 277.3 378.9 277.8 379.0 278.3 379.4 278.8 380.3 279.3 381.7 279.8 384.9 280.6 388.9 281.3 394.4 282.0 400.4 282.6 415.4 283.6 415.4 308.0 412.9 308.5 410.6 309.3 408.8 310.3 407.7 311.3 407.1 312.3 406.9 313.3 407.0 313.8 407.4 314.7 407.9 315.3 409.2 316.3 408.9 316.3ZM333.7 280.8 336.4 280.6 338.9 280.1 340.1 279.8 340.9 279.4 341.4 278.8 341.2 278.3 340.3 277.8 338.5 277.3 335.4 276.9 332.4 276.8 329.4 276.9 326.4 277.3 324.6 277.8 323.7 278.3 323.4 278.8 323.6 279.3 324.4 279.8 326.1 280.3 329.9 280.8 333.7 280.8Z" fill="#0078ff" fill-rule="evenodd"/>
<path d="M407.4 316.3 277.4 316.3 277.4 247.6 296.4 242.1 301.9 240.7 326.9 236.0 334.4 235.0 342.9 234.0 351.9 233.2 363.4 232.7 366.9 232.3 376.9 230.9 382.9 230.4 387.9 230.2 394.4 230.4 400.9 231.1 408.9 232.2 412.4 233.0 415.4 233.8 415.4 270.5 398.9 272.7 391.4 273.8 385.8 274.8 382.4 275.6 380.0 276.3 378.9 276.8 378.2 277.3 377.9 277.8 377.9 278.3 378.4 278.8 379.2 279.3 380.5 279.8 383.4 280.6 387.4 281.3 392.4 282.0 399.4 282.8 415.4 284.0 415.4 307.7 412.6 308.3 410.4 309.1 408.4 310.2 407.1 311.3 406.4 312.3 406.3 312.8 406.2 313.8 406.4 314.6 406.8 315.3 407.7 316.3 407.4 316.3ZM335.7 280.8 338.9 280.3 340.4 279.9 341.7 279.3 342.0 278.8 341.8 278.3 341.0 277.8 339.4 277.3 336.2 276.8 332.4 276.6 328.7 276.8 325.6 277.3 324.0 277.8 323.2 278.3 322.8 278.8 323.0 279.3 323.8 279.8 325.3 280.3 326.9 280.6 330.9 280.9 335.7 280.8Z" fill="#0081ff" fill-rule="evenodd"/>
<path d="M404.9 316.3 277.4 316.3 277.4 250.7 287.4 246.5 296.4 243.2 300.9 241.9 314.4 239.0 324.9 236.9 329.9 236.1 337.9 235.1 349.9 233.9 363.4 233.2 376.9 231.5 382.9 231.1 387.4 230.9 394.4 231.0 400.4 231.6 405.9 232.4 409.4 233.0 412.4 233.7 415.4 234.6 415.4 269.7 409.9 270.7 391.4 273.5 384.1 274.8 380.9 275.5 378.5 276.3 377.4 276.8 376.7 277.3 376.4 277.8 376.4 278.3 376.8 278.8 377.6 279.3 378.8 279.8 381.4 280.5 385.2 281.3 390.4 282.1 397.4 282.9 415.4 284.7 415.4 307.2 412.4 307.9 409.9 308.8 408.0 309.8 406.6 310.8 405.7 311.8 405.0 313.3 404.9 314.8 405.4 316.3 404.9 316.3ZM337.5 280.8 340.3 280.3 341.8 279.8 342.7 279.3 343.0 278.8 342.8 278.3 342.1 277.8 340.9 277.4 338.4 276.9 334.9 276.5 331.4 276.5 327.4 276.8 324.6 277.3 323.1 277.8 322.3 278.3 322.0 278.8 322.2 279.3 322.9 279.8 324.2 280.3 326.9 280.8 329.4 281.1 331.9 281.1 334.9 281.0 337.5 280.8Z" fill="#0089ff" fill-rule="evenodd"/>
<path d="M404.4 316.3 277.4 316.3 277.4 252.1 284.4 248.6 287.3 247.3 295.9 243.9 300.4 242.4 303.4 241.6 312.9 239.6 322.9 237.5 328.4 236.5 335.4 235.6 341.4 234.9 349.4 234.2 364.4 233.3 373.9 232.1 378.4 231.6 384.4 231.2 387.4 231.1 394.4 231.3 400.9 232.0 408.9 233.2 412.4 234.0 415.4 234.9 415.4 269.4 409.4 270.6 390.4 273.5 383.4 274.8 380.4 275.5 377.9 276.3 376.8 276.8 376.1 277.3 375.8 277.8 375.8 278.3 376.2 278.8 376.9 279.3 378.1 279.8 380.9 280.6 384.3 281.3 389.4 282.1 395.9 282.9 415.4 285.0 415.4 307.1 412.4 307.7 409.9 308.6 407.5 309.8 406.2 310.8 405.3 311.8 404.5 313.3 404.3 314.8 404.4 316.3ZM338.2 280.8 340.7 280.3 342.2 279.8 343.1 279.3 343.4 278.8 343.2 278.3 342.5 277.8 341.1 277.3 338.7 276.8 334.9 276.4 331.4 276.4 327.4 276.7 324.2 277.3 322.8 277.8 322.0 278.3 321.7 278.8 321.9 279.3 322.9 280.0 324.4 280.5 326.9 280.9 329.4 281.1 332.4 281.2 335.4 281.1 338.2 280.8Z" fill="#008eff" fill-rule="evenodd"/>
<path d="M402.9 316.3 277.4 316.3 277.4 253.9 283.9 250.1 286.9 248.5 295.3 244.8 299.4 243.3 303.4 242.1 316.4 239.2 324.9 237.4 331.4 236.4 337.9 235.6 344.4 234.9 352.4 234.3 362.9 233.7 376.9 232.1 382.4 231.7 386.9 231.5 393.9 231.6 399.9 232.2 405.4 232.9 408.9 233.6 412.4 234.4 415.4 235.3 415.4 268.9 412.4 269.7 408.9 270.4 388.4 273.7 382.4 274.8 379.4 275.5 377.0 276.3 376.0 276.8 375.3 277.3 374.9 277.8 374.9 278.3 375.3 278.8 376.0 279.3 377.1 279.8 379.9 280.6 383.1 281.3 392.4 282.7 411.0 284.8 415.4 285.4 415.4 306.8 412.4 307.5 410.0 308.3 407.8 309.3 406.3 310.3 405.2 311.3 404.0 312.8 403.4 314.3 403.0 316.3 402.9 316.3ZM333.3 281.3 337.4 281.0 340.9 280.4 342.8 279.8 343.7 279.3 344.0 278.8 343.8 278.3 343.1 277.8 341.7 277.3 340.4 277.0 336.4 276.4 332.4 276.3 328.4 276.5 324.9 277.0 323.6 277.3 322.3 277.8 321.5 278.3 321.3 278.8 321.4 279.3 322.0 279.8 323.2 280.3 324.9 280.7 328.9 281.2 333.3 281.3Z" fill="#0096ff" fill-rule="evenodd"/>
<path d="M399.9 316.3 277.4 316.3 277.4 257.2 283.2 252.8 286.4 250.7 294.6 246.3 298.4 244.6 302.9 243.1 312.9 240.5 323.4 238.2 328.9 237.2 336.9 236.2 343.4 235.5 351.4 234.8 362.9 234.2 376.9 232.6 382.9 232.2 386.9 232.0 394.4 232.2 401.4 232.9 405.9 233.6 409.4 234.3 412.4 235.0 415.4 236.0 415.4 267.8 411.4 269.2 406.6 270.3 397.4 272.0 386.2 273.8 379.9 275.0 377.0 275.8 375.6 276.3 374.5 276.8 373.8 277.3 373.4 277.8 373.4 278.3 373.7 278.8 374.4 279.3 375.4 279.8 377.9 280.6 381.1 281.3 389.9 282.7 409.9 285.3 415.4 286.2 415.4 306.3 412.4 307.1 410.1 307.8 407.8 308.8 406.0 309.8 404.7 310.8 403.7 311.8 402.9 312.8 401.2 315.3 400.4 316.3 399.9 316.3ZM336.4 281.3 340.3 280.8 342.4 280.3 343.8 279.8 344.6 279.3 344.9 278.8 344.8 278.3 344.1 277.8 342.8 277.3 340.8 276.8 336.9 276.3 332.4 276.1 328.2 276.3 324.4 276.9 322.7 277.3 321.5 277.8 320.8 278.3 320.5 278.8 320.7 279.3 321.2 279.8 321.9 280.1 323.4 280.6 325.4 281.0 327.7 281.3 330.4 281.5 333.4 281.5 336.4 281.3Z" fill="#009eff" fill-rule="evenodd"/>
<path d="M398.9 316.3 277.4 316.3 277.4 259.1 282.8 254.3 286.4 251.6 288.4 250.3 294.4 247.0 298.4 245.0 302.9 243.4 311.9 241.1 320.9 239.0 327.9 237.6 335.9 236.5 343.9 235.7 351.9 235.0 363.9 234.3 374.4 233.1 378.9 232.7 386.9 232.3 394.4 232.4 400.9 233.1 405.9 233.9 409.4 234.5 412.9 235.5 415.4 236.3 415.4 267.3 413.4 268.2 411.6 268.8 406.9 270.0 397.4 271.8 382.5 274.3 378.0 275.3 375.9 275.9 373.8 276.8 373.1 277.3 372.7 277.8 372.6 278.3 372.9 278.8 373.6 279.3 374.4 279.7 376.4 280.4 380.2 281.3 388.4 282.7 408.2 285.3 411.9 285.9 415.4 286.7 415.4 306.1 412.9 306.7 410.4 307.5 408.3 308.3 406.4 309.3 404.8 310.3 403.6 311.3 402.7 312.3 400.4 315.0 398.9 316.3ZM337.4 281.3 340.9 280.8 343.0 280.3 344.3 279.8 345.1 279.3 345.4 278.8 345.3 278.3 344.6 277.8 343.4 277.3 340.4 276.6 335.9 276.1 331.4 276.0 327.4 276.3 323.9 276.9 322.3 277.3 321.1 277.8 320.4 278.3 320.1 278.8 320.3 279.3 320.8 279.8 321.9 280.3 323.7 280.8 325.9 281.2 328.4 281.4 331.4 281.6 334.4 281.5 337.4 281.3Z" fill="#00a4ff" fill-rule="evenodd"/>
<path d="M396.9 316.3 277.4 316.3 277.4 261.2 282.0 256.3 284.1 254.3 286.0 252.8 288.4 251.1 293.4 248.1 297.4 246.0 301.9 244.2 308.9 242.1 316.9 240.1 326.4 238.1 333.9 237.0 342.9 236.0 351.9 235.3 363.9 234.5 377.9 233.0 386.9 232.5 394.4 232.7 397.9 233.0 401.4 233.4 405.9 234.1 409.4 234.8 412.4 235.6 415.4 236.6 415.4 266.7 413.9 267.5 411.9 268.3 409.4 269.1 406.6 269.8 396.9 271.7 381.7 274.3 377.2 275.3 375.4 275.8 373.1 276.8 372.3 277.3 371.9 277.8 371.9 278.3 372.2 278.8 373.4 279.6 375.3 280.3 379.2 281.3 386.9 282.6 407.4 285.5 411.9 286.3 415.4 287.2 415.4 305.9 412.4 306.6 409.9 307.4 407.8 308.3 405.9 309.3 404.4 310.3 403.1 311.3 399.4 315.0 397.9 316.0 397.3 316.3 396.9 316.3ZM338.3 281.3 341.5 280.8 343.5 280.3 344.8 279.8 345.6 279.3 346.0 278.8 345.8 278.3 345.1 277.8 343.9 277.3 340.4 276.5 335.9 276.0 331.4 276.0 327.4 276.2 323.7 276.8 321.9 277.3 320.7 277.8 320.0 278.3 319.8 278.8 319.9 279.3 320.4 279.8 321.5 280.3 323.2 280.8 325.9 281.3 328.9 281.5 331.9 281.6 334.9 281.6 338.3 281.3Z" fill="#00acff" fill-rule="evenodd"/>
<path d="M393.4 316.3 277.4 316.3 277.4 272.6 277.8 271.8 278.0 270.8 278.4 267.3 278.7 265.8 279.2 264.3 279.8 262.8 280.9 260.8 282.2 258.8 283.9 256.8 285.8 254.8 289.0 252.3 294.1 248.8 297.4 246.9 299.4 245.9 301.9 244.9 308.4 242.9 316.4 240.7 325.9 238.6 332.9 237.5 342.4 236.5 351.9 235.7 363.9 234.9 377.9 233.5 386.9 233.0 394.4 233.1 397.9 233.5 401.4 233.9 405.9 234.7 409.4 235.4 412.4 236.2 415.4 237.3 415.4 265.5 413.4 266.7 411.4 267.7 409.4 268.4 406.5 269.3 397.5 271.3 382.8 273.8 377.8 274.8 375.4 275.4 372.7 276.3 370.8 277.3 370.4 277.8 370.3 278.3 370.6 278.8 371.4 279.4 373.6 280.3 377.4 281.3 383.9 282.5 406.0 285.8 410.9 286.8 415.4 288.3 415.4 305.3 410.9 306.6 406.8 308.3 404.9 309.3 403.3 310.3 399.4 313.5 397.9 314.5 395.9 315.5 393.4 316.3ZM339.7 281.3 342.6 280.8 344.5 280.3 345.9 279.8 346.7 279.3 347.0 278.8 346.9 278.3 346.2 277.8 345.0 277.3 343.2 276.8 340.9 276.4 336.4 275.9 331.4 275.8 326.9 276.1 322.7 276.8 321.0 277.3 319.9 277.8 319.3 278.3 319.0 278.8 319.2 279.3 319.7 279.8 320.6 280.3 322.9 281.0 325.9 281.5 329.4 281.7 332.9 281.8 336.4 281.6 339.7 281.3Z" fill="#00b4ff" fill-rule="evenodd"/>
<path d="M390.9 316.3 277.4 316.3 277.4 275.6 278.9 274.3 279.5 273.3 279.9 272.3 280.1 270.8 280.3 267.3 280.5 265.3 281.1 263.3 282.0 261.3 283.1 259.3 284.2 257.8 286.0 255.8 287.6 254.3 294.3 249.3 296.4 248.0 298.4 246.9 300.4 246.0 302.9 245.0 311.9 242.2 320.4 240.0 327.4 238.6 334.9 237.5 343.4 236.6 363.4 235.2 378.4 233.7 387.4 233.2 392.4 233.3 395.4 233.5 399.4 233.9 403.9 234.6 407.4 235.2 410.4 236.0 412.9 236.7 415.4 237.7 415.4 264.9 413.4 266.2 411.2 267.3 408.6 268.3 405.9 269.1 401.2 270.3 396.5 271.3 381.8 273.8 376.9 274.8 374.9 275.3 371.8 276.3 369.9 277.3 369.5 277.8 369.3 278.3 369.6 278.8 370.2 279.3 372.6 280.3 375.4 281.1 381.9 282.4 398.1 284.8 405.9 286.1 410.8 287.3 413.4 288.2 415.4 289.0 415.4 305.0 410.4 306.5 406.9 307.9 403.5 309.8 398.9 313.1 397.4 314.0 394.4 315.3 391.9 316.1 390.9 316.3ZM335.3 281.8 339.9 281.4 343.3 280.8 345.2 280.3 346.5 279.8 347.3 279.3 347.6 278.8 347.5 278.3 346.9 277.8 345.7 277.3 343.9 276.8 341.2 276.3 338.9 276.0 335.9 275.8 332.9 275.7 327.9 275.9 324.9 276.3 322.9 276.6 320.6 277.3 319.5 277.8 318.9 278.3 318.6 278.8 318.7 279.3 319.2 279.8 320.2 280.3 321.6 280.8 323.9 281.3 326.4 281.6 329.4 281.8 335.3 281.8Z" fill="#00c1fe" fill-rule="evenodd"/>
<path d="M381.4 316.3 278.8 316.3 277.4 316.1 277.4 279.6 279.9 278.6 282.2 277.3 283.9 275.8 284.8 274.3 285.1 273.3 285.2 272.3 284.7 267.3 284.7 264.8 285.0 263.3 285.5 261.8 286.8 259.3 287.8 257.8 289.1 256.3 293.9 251.8 297.3 249.3 300.9 247.3 303.4 246.2 306.9 244.9 314.4 242.5 322.4 240.5 328.9 239.2 336.4 238.2 343.4 237.5 363.4 236.0 377.9 234.6 384.4 234.2 387.9 234.1 392.9 234.2 395.9 234.4 399.9 234.9 404.4 235.7 407.4 236.3 410.4 237.1 412.9 237.9 415.4 239.0 415.4 262.6 414.5 263.3 411.9 265.1 409.4 266.5 406.4 267.8 402.9 269.0 398.9 270.1 394.9 271.0 379.4 273.7 373.9 274.8 368.7 276.3 366.5 277.3 365.9 277.8 365.7 278.3 365.9 278.8 366.5 279.3 368.9 280.3 372.6 281.3 379.9 282.8 396.9 285.5 402.4 286.6 405.9 287.5 408.4 288.3 410.9 289.3 413.4 290.6 415.4 292.0 415.4 303.5 407.9 306.5 405.4 307.6 403.0 308.8 397.4 312.0 394.9 313.1 392.4 314.0 389.9 314.6 385.4 315.6 381.4 316.3ZM339.6 281.8 343.4 281.3 347.6 280.3 349.0 279.8 349.9 279.3 350.3 278.8 350.1 278.3 349.5 277.8 348.2 277.3 346.5 276.8 343.9 276.3 337.9 275.6 331.9 275.4 326.4 275.7 321.9 276.4 318.9 277.3 317.9 277.8 317.3 278.3 317.1 278.8 317.2 279.3 317.6 279.8 318.5 280.3 319.8 280.8 321.4 281.2 324.4 281.7 327.9 282.1 331.9 282.2 335.9 282.1 339.6 281.8Z" fill="#00d0f9" fill-rule="evenodd"/>
<path d="M372.4 316.3 288.5 316.3 277.4 314.6 277.4 281.9 280.9 280.8 284.4 279.3 286.9 277.8 288.0 276.8 288.8 275.8 289.2 274.8 289.3 273.3 289.0 271.8 288.1 268.3 287.9 266.8 287.9 264.8 288.2 262.8 288.9 260.8 290.1 258.8 292.3 255.8 294.1 253.8 295.7 252.3 297.5 250.8 299.4 249.5 301.7 248.3 303.9 247.3 308.4 245.5 315.4 243.2 321.4 241.5 325.9 240.5 329.9 239.8 335.9 239.0 343.4 238.2 363.4 236.7 375.4 235.5 385.4 234.9 389.4 234.9 393.9 235.0 397.4 235.4 400.4 235.8 405.4 236.8 408.9 237.6 411.9 238.7 414.4 239.8 415.4 240.4 415.4 260.5 412.4 263.0 409.4 264.9 406.4 266.5 403.3 267.8 398.8 269.3 392.5 270.8 378.1 273.3 370.8 274.8 366.9 275.8 363.8 276.8 361.5 277.8 360.9 278.3 361.1 278.8 362.0 279.3 364.9 280.3 368.7 281.3 376.0 282.8 391.0 285.3 395.9 286.3 401.9 287.8 406.3 289.3 408.9 290.5 411.1 291.8 413.1 293.3 414.5 294.8 415.4 296.3 415.4 300.5 414.4 301.8 412.3 303.3 410.3 304.3 403.4 307.4 397.4 310.4 394.4 311.7 390.4 312.9 385.9 314.0 379.9 315.1 372.4 316.3ZM337.6 282.3 340.9 282.0 344.4 281.5 348.4 280.8 350.5 280.3 353.5 279.3 354.3 278.8 354.2 278.3 353.2 277.8 351.6 277.3 347.4 276.4 344.4 275.9 338.4 275.3 331.9 275.1 325.9 275.5 323.2 275.8 320.5 276.3 318.6 276.8 317.2 277.3 316.2 277.8 315.6 278.3 315.4 278.8 315.5 279.3 315.9 279.8 316.8 280.3 319.4 281.2 322.3 281.8 325.9 282.2 329.4 282.4 333.4 282.5 337.6 282.3Z" fill="#00def5" fill-rule="evenodd"/>
<path d="M364.9 316.3 296.5 316.3 277.4 313.3 277.4 283.5 282.4 282.2 285.0 281.3 287.5 280.3 290.5 278.8 291.4 278.1 292.2 277.3 292.7 276.3 292.8 274.8 292.4 272.8 291.3 269.3 290.7 267.3 290.5 265.3 290.7 263.3 291.4 260.8 292.6 258.3 294.3 255.8 295.9 253.9 297.4 252.5 298.9 251.3 300.5 250.3 302.4 249.2 308.9 246.4 315.9 243.9 321.9 242.2 326.4 241.1 330.4 240.4 336.4 239.6 342.9 239.0 363.9 237.3 375.4 236.2 385.4 235.6 389.4 235.6 393.9 235.8 397.4 236.1 400.9 236.7 405.4 237.7 408.9 238.6 411.9 239.8 414.4 241.2 415.4 241.9 415.4 258.4 414.1 259.8 412.4 261.3 408.9 263.8 404.9 266.0 399.9 268.1 396.1 269.3 391.9 270.3 386.8 271.3 373.4 273.6 361.9 276.1 358.9 276.7 356.9 276.8 354.4 276.7 344.4 275.5 339.4 275.0 334.9 274.8 330.4 274.8 324.9 275.2 319.9 276.0 317.4 276.6 315.4 277.3 314.4 277.8 313.7 278.3 313.5 278.8 313.6 279.3 314.1 279.8 314.9 280.3 316.1 280.8 320.0 281.8 324.4 282.4 330.9 282.8 337.9 282.6 344.9 281.9 354.9 280.4 356.9 280.2 358.4 280.3 361.4 280.6 372.9 283.0 389.2 285.8 393.9 286.8 397.7 287.8 401.4 289.0 404.9 290.5 407.4 291.8 409.5 293.3 411.1 294.8 411.8 295.8 412.3 296.8 412.6 298.3 412.4 299.8 411.6 301.3 410.6 302.3 409.2 303.3 406.4 304.8 395.9 309.8 391.4 311.3 385.9 312.7 378.4 314.1 364.9 316.3Z" fill="#00edf0" fill-rule="evenodd"/>
<path d="M358.9 316.3 303.1 316.3 277.4 312.2 277.4 284.8 283.7 283.3 290.1 281.3 293.5 279.8 294.4 279.2 295.4 278.3 295.9 277.3 296.0 276.8 295.9 275.8 295.4 274.3 293.9 270.8 293.2 268.8 292.7 266.8 292.5 264.8 292.6 262.8 293.1 260.8 294.0 258.8 294.9 257.3 296.3 255.3 297.8 253.8 299.5 252.3 301.9 250.7 304.6 249.3 308.9 247.3 313.4 245.5 316.9 244.4 322.9 242.6 326.9 241.7 330.9 241.0 336.9 240.2 343.4 239.6 363.4 238.0 374.9 236.9 385.9 236.3 389.9 236.3 394.4 236.5 397.9 236.9 401.4 237.6 405.9 238.7 408.9 239.6 411.6 240.8 413.9 242.2 415.4 243.6 415.4 256.3 413.9 258.2 412.4 259.7 410.5 261.3 408.4 262.8 405.9 264.3 403.4 265.6 400.4 267.0 397.4 268.1 393.5 269.3 387.9 270.5 374.6 272.8 359.4 275.7 356.9 275.9 354.4 275.9 338.9 274.7 333.9 274.5 328.9 274.6 323.4 275.1 318.4 275.9 314.6 276.8 313.1 277.3 312.0 277.8 311.3 278.3 311.1 278.8 311.2 279.3 311.8 279.8 312.7 280.3 313.9 280.8 317.9 281.8 323.4 282.6 329.4 283.0 336.4 283.0 342.4 282.6 353.4 281.4 357.9 281.2 361.9 281.7 385.4 285.9 390.4 286.9 394.4 288.0 397.9 289.1 401.4 290.5 404.0 291.8 406.4 293.4 407.5 294.3 408.4 295.3 409.3 296.8 409.7 298.3 409.4 299.8 408.6 301.3 407.6 302.3 406.3 303.3 403.7 304.8 398.7 307.3 394.9 308.9 389.9 310.5 383.4 312.1 375.4 313.5 358.9 316.3Z" fill="#00eee4" fill-rule="evenodd"/>
<path d="M349.9 316.3 312.0 316.3 305.4 315.7 301.4 315.2 277.4 311.2 277.4 285.9 284.6 284.3 291.9 282.3 294.7 281.3 298.1 279.8 299.7 278.8 300.1 278.3 300.2 277.8 300.0 277.3 297.2 273.3 295.5 270.3 294.6 267.8 294.1 265.3 294.2 262.8 294.8 260.3 296.0 257.8 297.9 255.3 300.4 253.0 303.4 251.0 309.4 248.0 315.4 245.6 321.9 243.6 326.9 242.3 332.4 241.4 339.4 240.6 376.9 237.4 384.9 236.9 390.4 236.9 393.9 237.1 397.4 237.6 400.4 238.1 404.9 239.2 407.4 240.0 409.9 241.1 411.9 242.2 413.4 243.3 414.4 244.4 415.4 245.8 415.4 253.8 413.9 256.3 412.7 257.8 410.9 259.5 408.9 261.1 406.9 262.5 404.4 264.0 400.9 265.8 397.9 267.1 395.4 268.0 391.4 269.1 386.1 270.3 362.4 274.5 358.9 275.0 356.4 275.2 353.4 275.2 337.4 274.3 332.4 274.2 327.9 274.4 321.9 274.9 316.4 275.8 309.7 277.3 308.1 277.8 307.2 278.3 307.0 278.8 307.5 279.3 308.3 279.8 311.2 280.8 315.9 281.9 321.9 282.8 328.4 283.3 334.9 283.3 340.9 283.0 352.9 282.0 357.9 282.0 362.4 282.5 382.9 286.2 388.0 287.3 391.9 288.3 395.4 289.4 398.7 290.8 401.6 292.3 403.9 293.8 405.5 295.3 406.2 296.3 406.7 297.3 406.9 298.8 406.4 300.3 405.4 301.8 404.2 302.8 401.9 304.3 399.2 305.8 395.9 307.3 392.4 308.7 389.4 309.6 385.4 310.6 375.9 312.5 358.4 315.5 349.9 316.3Z" fill="#00eed6" fill-rule="evenodd"/>
<path d="M307.4 276.3 305.4 276.2 303.9 276.0 301.9 275.3 300.4 274.3 299.4 273.4 298.4 272.2 297.4 270.8 296.6 269.3 296.1 267.8 295.7 266.3 295.5 264.8 295.5 263.3 295.7 261.8 296.2 260.3 296.8 258.8 298.1 256.8 299.9 254.8 302.3 252.8 304.7 251.3 308.9 249.1 313.9 246.9 317.9 245.5 323.9 243.7 327.4 242.9 331.4 242.2 336.4 241.5 342.4 240.9 377.4 237.9 385.4 237.5 390.9 237.6 394.9 237.9 398.9 238.5 404.4 239.9 407.9 241.2 410.4 242.5 412.4 244.0 413.2 244.8 413.9 245.8 414.4 246.8 414.8 247.8 415.0 248.8 415.0 250.3 414.8 251.8 414.2 253.3 413.5 254.8 412.5 256.3 411.2 257.8 409.9 259.0 407.9 260.6 405.9 262.0 400.4 265.1 395.9 267.1 391.4 268.5 384.4 270.1 361.9 273.9 357.9 274.4 354.9 274.6 351.9 274.6 337.9 274.0 329.9 274.0 322.4 274.5 311.4 276.0 307.4 276.3ZM345.4 315.8 336.4 316.1 328.9 316.1 318.9 315.9 312.4 315.5 305.9 314.9 301.9 314.4 284.9 311.6 277.4 310.2 277.4 286.9 284.8 285.3 291.0 283.8 299.9 281.1 302.9 280.7 304.4 280.7 306.9 280.9 315.2 282.3 319.9 283.0 323.9 283.3 327.9 283.5 336.4 283.6 351.9 282.6 355.4 282.6 358.4 282.7 362.9 283.3 380.4 286.5 386.4 287.8 391.4 289.2 395.7 290.8 397.8 291.8 399.6 292.8 401.4 294.1 402.7 295.3 403.5 296.3 404.0 297.3 404.2 298.8 403.8 300.3 403.1 301.3 401.5 302.8 399.4 304.3 396.6 305.8 393.4 307.2 390.4 308.2 385.9 309.5 380.4 310.7 360.4 314.4 354.9 315.1 345.4 315.8Z" fill="#00eec9" fill-rule="evenodd"/>
<path d="M311.4 275.3 309.4 275.4 307.4 275.2 305.4 274.9 303.9 274.5 301.9 273.6 300.9 272.8 299.9 271.8 298.7 270.3 297.9 268.8 297.3 267.3 296.9 265.8 296.8 264.3 296.8 262.8 297.1 261.3 297.6 259.8 298.4 258.3 299.1 257.3 300.8 255.3 302.9 253.5 305.9 251.6 309.9 249.5 314.4 247.5 319.4 245.7 324.4 244.2 327.9 243.4 331.9 242.7 342.4 241.5 376.9 238.5 384.9 238.1 389.9 238.1 394.4 238.4 397.9 239.0 402.4 240.1 406.4 241.5 409.0 242.8 411.1 244.3 412.4 245.8 413.0 246.8 413.4 247.8 413.6 248.8 413.7 250.3 413.4 251.8 412.9 253.3 412.1 254.8 411.1 256.3 408.6 258.8 406.7 260.3 404.9 261.6 399.4 264.7 394.9 266.7 390.4 268.1 386.4 269.1 382.4 269.9 362.9 273.2 357.4 273.9 354.4 274.1 351.4 274.1 337.4 273.7 330.4 273.7 323.4 274.1 311.4 275.3ZM339.4 315.3 330.4 315.4 321.4 315.3 315.4 315.0 308.9 314.5 304.4 314.0 300.9 313.5 285.9 311.0 277.4 309.4 277.4 287.9 291.1 284.8 299.9 282.5 303.4 281.9 305.4 281.9 308.4 282.0 320.9 283.4 328.9 283.9 337.4 283.8 351.9 283.2 357.9 283.3 362.9 284.0 378.4 286.9 384.9 288.3 390.1 289.8 394.4 291.5 396.0 292.3 397.9 293.4 399.6 294.8 400.6 295.8 401.2 296.8 401.6 297.8 401.6 299.3 400.9 300.8 400.1 301.8 398.4 303.3 396.0 304.8 393.4 306.0 390.4 307.2 386.9 308.3 382.4 309.4 376.9 310.6 358.4 313.9 348.4 314.9 339.4 315.3Z" fill="#00eebc" fill-rule="evenodd"/>
<path d="M317.4 274.3 312.4 274.7 308.9 274.5 306.9 274.2 305.5 273.8 303.9 273.2 302.9 272.7 301.7 271.8 300.4 270.5 299.6 269.3 298.8 267.8 298.3 266.3 298.0 264.8 298.0 263.3 298.2 261.8 298.6 260.3 299.1 259.3 299.9 257.9 300.7 256.8 302.8 254.8 305.6 252.8 309.9 250.3 314.4 248.2 318.9 246.5 324.4 244.8 327.4 244.0 331.4 243.3 336.9 242.6 342.4 242.0 376.4 239.1 384.4 238.6 389.4 238.7 393.9 239.0 397.4 239.5 401.4 240.6 405.4 242.0 408.0 243.3 410.0 244.8 411.3 246.3 411.8 247.3 412.2 248.3 412.3 249.3 412.3 250.8 412.1 251.8 411.6 253.3 410.8 254.8 409.7 256.3 407.2 258.8 403.7 261.3 400.9 263.1 398.4 264.4 394.4 266.2 389.4 267.8 384.9 268.9 377.9 270.1 362.4 272.7 356.9 273.4 353.9 273.6 350.4 273.7 337.4 273.4 330.9 273.4 324.4 273.7 317.4 274.3ZM347.9 314.3 340.4 314.6 329.9 314.8 318.9 314.6 312.4 314.2 305.4 313.5 301.4 312.9 285.4 310.1 277.4 308.5 277.4 288.8 290.9 285.8 299.9 283.5 302.4 283.0 304.4 282.8 306.9 282.8 310.4 282.9 321.9 283.8 329.4 284.1 337.4 284.1 350.4 283.6 356.9 283.8 361.9 284.4 375.4 287.0 382.4 288.5 387.9 290.1 391.9 291.6 395.2 293.3 396.6 294.3 397.7 295.3 398.6 296.3 399.1 297.3 399.3 298.8 399.1 299.8 398.2 301.3 397.3 302.3 395.4 303.7 393.5 304.8 391.3 305.8 388.4 306.9 384.4 308.1 378.9 309.4 361.9 312.7 356.4 313.5 347.9 314.3Z" fill="#00eda9" fill-rule="evenodd"/>
<path d="M318.4 273.8 313.4 274.1 309.9 273.9 307.9 273.5 306.4 273.1 304.9 272.4 303.7 271.8 302.4 270.8 301.4 269.8 300.7 268.8 299.9 267.3 299.5 266.3 299.2 264.8 299.2 263.3 299.4 261.8 299.8 260.3 300.3 259.3 300.9 258.2 301.9 256.9 303.9 255.0 307.0 252.8 310.9 250.6 314.9 248.6 319.4 246.9 324.4 245.4 327.4 244.6 330.9 244.0 336.4 243.2 341.9 242.6 375.4 239.7 384.4 239.2 388.4 239.2 392.9 239.5 396.4 240.0 399.9 240.8 404.1 242.3 406.4 243.4 408.4 244.8 409.8 246.3 410.4 247.3 410.8 248.3 411.0 249.3 411.1 250.8 410.9 251.8 410.4 253.3 409.5 254.8 408.8 255.8 407.5 257.3 406.4 258.3 404.5 259.8 402.3 261.3 399.9 262.8 397.4 264.2 393.4 265.9 388.4 267.4 384.4 268.4 375.4 270.0 361.9 272.2 356.4 272.9 352.9 273.1 349.4 273.2 336.9 273.0 330.9 273.1 324.9 273.4 318.4 273.8ZM345.9 313.8 336.4 314.1 328.4 314.2 318.4 313.9 311.4 313.5 305.4 312.9 300.4 312.1 285.9 309.5 277.4 307.7 277.4 289.6 292.0 286.3 300.4 284.2 302.9 283.8 305.4 283.5 311.4 283.5 322.9 284.2 329.9 284.4 336.9 284.4 349.4 284.1 355.9 284.3 358.4 284.5 361.4 284.9 372.9 287.2 380.2 288.8 385.6 290.3 389.9 291.9 391.9 292.8 393.4 293.7 395.5 295.3 396.3 296.3 396.9 297.3 397.1 298.8 396.9 299.8 396.0 301.3 395.0 302.3 393.7 303.3 391.4 304.6 388.9 305.7 386.4 306.6 382.2 307.8 376.9 309.1 360.4 312.3 354.9 313.1 345.9 313.8Z" fill="#00ec94" fill-rule="evenodd"/>
<path d="M319.9 273.3 314.9 273.6 311.4 273.4 308.3 272.8 306.9 272.3 305.4 271.5 304.2 270.8 303.0 269.8 302.1 268.8 301.4 267.7 300.8 266.3 300.5 265.3 300.3 263.8 300.4 262.3 300.8 260.8 301.2 259.8 302.5 257.8 304.4 255.8 307.6 253.3 311.4 251.0 315.4 249.1 320.4 247.2 324.9 245.8 327.9 245.0 331.9 244.3 336.9 243.6 342.4 243.0 375.4 240.2 384.4 239.7 388.4 239.7 392.9 240.0 395.9 240.5 399.4 241.3 402.9 242.7 405.4 243.9 407.4 245.3 408.7 246.8 409.3 247.8 409.7 248.8 409.8 249.8 409.8 250.8 409.6 251.8 409.1 253.3 408.4 254.6 407.5 255.8 406.4 257.1 405.1 258.3 401.0 261.3 396.9 263.7 392.9 265.4 387.9 267.0 383.9 267.9 374.4 269.7 361.9 271.7 355.9 272.4 348.9 272.8 330.9 272.8 319.9 273.3ZM344.9 313.3 334.9 313.6 326.4 313.6 317.4 313.3 309.4 312.7 304.4 312.2 299.9 311.5 285.4 308.7 277.4 306.8 277.4 290.5 300.4 285.0 303.4 284.5 305.9 284.2 309.4 284.0 312.9 284.0 323.9 284.6 330.4 284.7 347.9 284.5 354.9 284.7 357.9 285.0 360.4 285.3 371.4 287.5 378.9 289.2 384.4 290.8 388.4 292.3 390.4 293.3 391.9 294.2 393.8 295.8 394.5 296.8 394.9 297.8 395.0 298.8 394.9 299.3 394.5 300.3 393.8 301.3 392.8 302.3 391.4 303.3 389.4 304.4 386.9 305.4 383.9 306.5 379.9 307.6 375.4 308.7 359.4 311.9 352.9 312.7 344.9 313.3Z" fill="#00eb7f" fill-rule="evenodd"/>
<path d="M322.4 272.8 316.4 273.1 312.9 273.0 309.9 272.5 307.4 271.5 306.1 270.8 304.7 269.8 303.6 268.8 302.8 267.8 302.3 266.8 301.7 265.3 301.5 264.3 301.5 262.8 301.8 261.3 302.1 260.3 303.3 258.3 304.2 257.3 305.7 255.8 308.2 253.8 311.4 251.8 315.4 249.7 320.4 247.8 324.9 246.3 327.9 245.6 331.4 244.9 336.4 244.2 341.9 243.6 374.4 240.7 382.9 240.3 387.4 240.2 391.9 240.5 394.9 240.9 397.9 241.6 400.9 242.6 403.9 244.0 405.8 245.3 407.3 246.8 408.0 247.8 408.4 248.8 408.6 249.8 408.6 250.8 408.4 251.8 407.9 253.3 407.1 254.8 406.3 255.8 404.9 257.3 403.8 258.3 399.9 261.2 396.2 263.3 392.9 264.7 387.4 266.5 382.9 267.6 373.9 269.3 361.9 271.2 355.9 271.9 349.4 272.3 332.4 272.4 322.4 272.8ZM344.4 312.8 334.4 313.1 325.9 313.0 316.9 312.8 308.9 312.1 303.9 311.5 298.4 310.6 285.4 308.0 277.4 306.0 277.4 291.3 284.4 289.5 300.4 285.7 303.9 285.1 306.9 284.8 313.4 284.5 328.9 285.0 346.9 284.9 352.9 285.1 357.4 285.4 361.9 286.2 374.4 288.9 381.9 290.9 386.4 292.5 388.0 293.3 389.8 294.3 391.6 295.8 392.4 296.8 392.8 297.8 392.9 298.8 392.9 299.3 392.5 300.3 391.7 301.3 390.6 302.3 389.1 303.3 387.1 304.3 384.7 305.3 381.7 306.3 373.9 308.3 359.4 311.3 352.4 312.2 344.4 312.8Z" fill="#00ea69" fill-rule="evenodd"/>
<path d="M325.9 272.3 317.4 272.6 313.9 272.5 311.9 272.2 310.4 271.9 307.9 270.8 306.3 269.8 304.9 268.5 303.9 267.3 303.1 265.8 302.7 264.3 302.7 262.8 302.9 261.3 303.6 259.8 304.6 258.3 305.9 256.8 308.8 254.3 312.6 251.8 316.9 249.7 322.4 247.6 327.4 246.2 333.9 245.0 341.4 244.1 376.4 241.1 384.9 240.7 390.4 240.9 393.9 241.3 396.4 241.8 399.4 242.7 401.8 243.8 403.9 245.0 405.5 246.3 406.6 247.8 407.2 249.3 407.4 250.3 407.3 251.3 407.1 252.3 406.5 253.8 405.1 255.8 402.5 258.3 399.2 260.8 395.8 262.8 392.4 264.3 387.4 266.0 382.9 267.0 373.9 268.7 361.9 270.7 355.9 271.4 348.4 271.9 332.9 272.1 325.9 272.3ZM344.4 312.3 334.4 312.6 325.9 312.6 316.9 312.3 308.9 311.6 303.9 311.0 298.4 310.0 285.9 307.4 278.1 305.3 277.4 305.1 277.4 292.2 284.9 290.1 299.9 286.5 303.4 285.8 306.9 285.3 310.4 285.1 314.4 285.0 328.9 285.3 345.4 285.3 350.9 285.4 356.9 285.9 360.9 286.5 372.9 289.2 379.9 291.1 384.6 292.8 387.5 294.3 389.5 295.8 390.3 296.8 390.8 297.8 390.9 298.8 390.7 299.8 390.0 300.8 388.9 301.9 387.7 302.8 385.8 303.8 383.5 304.8 380.4 305.9 372.9 307.9 359.4 310.8 352.4 311.7 344.4 312.3Z" fill="#00e952" fill-rule="evenodd"/>
<path d="M329.4 271.8 320.9 272.1 315.9 272.1 312.4 271.7 309.7 270.8 307.9 269.8 306.7 268.8 305.7 267.8 304.7 266.3 304.1 264.8 303.8 263.3 304.0 261.8 304.5 260.3 305.1 259.3 306.1 257.8 307.5 256.3 308.9 255.1 312.4 252.7 314.4 251.5 316.9 250.3 322.4 248.2 327.4 246.7 333.4 245.6 340.4 244.7 374.9 241.7 384.4 241.2 388.9 241.3 392.4 241.6 394.9 242.0 397.7 242.8 400.2 243.8 402.0 244.8 404.0 246.3 405.3 247.8 406.0 249.3 406.2 250.3 406.1 251.3 405.9 252.3 405.3 253.8 403.9 255.8 401.4 258.3 398.4 260.6 395.4 262.3 392.4 263.7 387.4 265.4 382.9 266.5 374.4 268.2 362.9 270.0 356.4 270.9 351.9 271.3 347.4 271.5 329.4 271.8ZM344.9 311.8 335.9 312.1 328.4 312.1 318.4 311.9 311.9 311.4 305.4 310.7 300.9 310.0 289.4 307.5 283.4 306.1 277.4 304.1 277.4 293.2 281.4 291.9 285.0 290.8 299.4 287.2 303.4 286.4 307.4 285.8 311.4 285.5 315.9 285.4 328.4 285.6 344.4 285.7 348.9 285.8 355.4 286.2 359.9 286.9 371.4 289.5 377.4 291.1 382.2 292.8 385.3 294.3 387.4 295.8 388.3 296.8 388.8 297.8 388.9 298.8 388.6 299.8 388.0 300.8 386.9 301.8 385.4 302.8 383.5 303.8 381.1 304.8 378.4 305.7 371.4 307.6 358.9 310.4 352.4 311.2 344.9 311.8Z" fill="#00e73b" fill-rule="evenodd"/>
<path d="M335.9 271.3 322.4 271.7 317.4 271.7 314.4 271.4 311.8 270.8 310.4 270.2 308.8 269.3 307.4 268.2 306.3 266.8 305.5 265.3 305.1 263.8 305.1 262.3 305.5 260.8 306.2 259.3 306.8 258.3 308.1 256.8 309.2 255.8 310.9 254.4 312.5 253.3 314.9 251.9 316.9 250.9 322.4 248.7 326.9 247.3 332.4 246.3 339.4 245.3 373.9 242.2 382.9 241.7 387.9 241.7 390.9 242.0 393.9 242.4 396.4 243.0 398.5 243.8 400.5 244.8 402.6 246.3 404.0 247.8 404.7 249.3 405.0 250.3 405.0 251.3 404.8 252.3 404.4 253.3 403.2 255.3 400.9 257.8 398.4 259.8 395.4 261.7 392.4 263.1 387.9 264.7 383.9 265.7 375.9 267.4 368.9 268.6 358.4 270.2 353.9 270.6 348.9 271.0 335.9 271.3ZM345.4 311.3 337.4 311.6 329.9 311.7 319.4 311.4 313.9 311.1 306.9 310.4 302.4 309.8 298.4 309.0 287.9 306.5 281.9 304.8 277.4 303.1 277.4 294.3 282.4 292.4 287.7 290.8 300.9 287.5 303.9 286.9 306.9 286.4 311.9 286.0 316.4 285.8 346.4 286.1 352.9 286.4 358.4 287.1 362.9 288.0 374.4 291.0 379.4 292.6 383.1 294.3 385.3 295.8 386.2 296.8 386.7 297.8 386.8 298.8 386.6 299.8 385.9 300.8 384.8 301.8 383.3 302.8 381.4 303.7 377.3 305.3 370.9 307.1 359.4 309.8 353.4 310.6 345.4 311.3Z" fill="#00e624" fill-rule="evenodd"/>
<path d="M341.9 270.8 320.9 271.2 316.4 271.1 313.4 270.6 311.4 269.9 309.9 269.0 308.4 267.8 307.5 266.8 306.9 265.8 306.3 264.3 306.2 262.8 306.4 261.3 306.8 260.3 307.6 258.8 308.7 257.3 309.7 256.3 311.4 254.9 312.9 253.8 316.4 251.8 321.9 249.5 326.4 248.0 331.4 246.9 338.4 245.9 346.9 245.0 372.9 242.7 381.9 242.2 387.4 242.2 390.4 242.5 393.4 242.9 395.9 243.5 397.9 244.3 399.9 245.3 401.4 246.4 402.7 247.8 403.5 249.3 403.8 250.3 403.8 251.3 403.6 252.3 403.3 253.3 402.1 255.3 400.4 257.3 398.0 259.3 395.4 261.0 392.9 262.2 388.9 263.8 384.9 265.0 378.4 266.4 371.4 267.7 362.4 269.1 357.4 269.8 352.9 270.3 347.9 270.6 341.9 270.8ZM346.4 310.8 340.4 311.1 332.4 311.2 326.4 311.2 318.4 311.0 312.9 310.6 306.9 309.9 303.4 309.4 299.4 308.7 290.4 306.5 285.4 305.1 282.9 304.3 280.3 303.3 277.4 301.8 277.4 295.6 278.8 294.8 280.9 293.8 283.5 292.8 286.6 291.8 300.4 288.1 305.9 287.1 311.4 286.5 316.4 286.2 344.4 286.4 351.4 286.8 357.9 287.5 361.9 288.3 371.4 290.8 376.9 292.5 378.8 293.3 380.9 294.3 383.2 295.8 384.2 296.8 384.7 297.8 384.9 298.8 384.6 299.8 383.9 300.7 383.3 301.3 382.0 302.3 380.1 303.3 375.9 305.0 369.9 306.7 359.4 309.3 353.9 310.1 346.4 310.8Z" fill="#00e50c" fill-rule="evenodd"/>
<path d="M323.4 270.8 318.9 270.7 315.9 270.4 313.4 269.8 311.4 269.0 310.3 268.3 309.4 267.5 308.1 265.8 307.6 264.8 307.4 263.8 307.3 262.8 307.4 261.8 307.6 260.8 308.0 259.8 309.3 257.8 311.3 255.8 313.3 254.3 315.9 252.7 319.4 251.0 323.4 249.4 326.9 248.3 329.9 247.7 333.9 247.0 342.9 245.8 372.4 243.2 379.4 242.8 385.4 242.6 388.9 242.8 392.4 243.3 394.8 243.8 396.9 244.5 398.9 245.6 400.5 246.8 401.8 248.3 402.5 249.8 402.7 250.8 402.6 251.8 402.4 252.8 402.0 253.8 401.1 255.3 400.3 256.3 398.2 258.3 395.9 260.0 393.4 261.4 389.4 263.0 385.4 264.3 379.4 265.7 371.9 267.1 361.4 268.8 354.9 269.6 349.9 270.0 343.4 270.3 323.4 270.8ZM333.9 310.8 324.9 310.7 315.4 310.3 305.9 309.3 299.9 308.3 288.4 305.3 285.2 304.3 282.7 303.3 280.4 302.2 278.5 300.8 277.6 299.8 277.4 299.3 277.4 298.2 277.8 297.3 278.8 296.3 281.1 294.8 284.9 293.1 290.8 291.3 299.9 288.8 304.9 287.8 311.9 286.9 318.9 286.6 344.9 286.8 351.4 287.2 357.9 288.0 361.9 288.9 369.1 290.8 372.5 291.8 375.9 293.0 378.8 294.3 380.5 295.3 381.9 296.5 382.5 297.3 382.7 297.8 382.9 298.8 382.8 299.3 382.3 300.3 380.9 301.6 379.0 302.8 376.4 304.0 372.9 305.2 363.6 307.8 357.9 309.1 350.4 310.0 343.9 310.5 333.9 310.8Z" fill="#05e500" fill-rule="evenodd"/>
<path d="M327.4 270.3 321.4 270.3 316.9 270.0 314.0 269.3 311.9 268.3 310.5 267.3 309.6 266.3 309.0 265.3 308.4 263.8 308.3 262.8 308.5 261.3 308.8 260.3 309.6 258.8 310.8 257.3 311.8 256.3 313.0 255.3 314.9 254.0 318.4 252.1 323.4 250.0 326.9 248.8 330.9 248.0 336.9 247.0 343.4 246.2 373.4 243.6 381.4 243.2 386.9 243.2 389.9 243.5 392.9 243.9 394.9 244.5 396.4 245.0 398.4 246.1 399.8 247.3 400.7 248.3 401.4 249.8 401.6 250.8 401.6 251.8 401.4 252.8 401.0 253.8 399.7 255.8 397.8 257.8 395.4 259.6 392.9 261.0 388.9 262.6 385.4 263.8 379.4 265.2 372.4 266.5 362.4 268.1 355.9 269.0 350.4 269.5 344.4 269.9 327.4 270.3ZM337.9 310.3 328.4 310.4 317.4 310.1 309.4 309.3 304.9 308.7 301.9 308.2 298.0 307.3 290.7 305.3 287.5 304.3 284.9 303.3 282.4 302.1 280.7 300.8 280.2 300.3 279.6 299.3 279.6 298.3 280.0 297.3 281.0 296.3 282.4 295.3 284.3 294.3 286.7 293.3 289.7 292.3 299.4 289.5 304.4 288.3 310.4 287.5 315.9 287.1 321.9 287.0 333.4 287.0 344.9 287.2 351.4 287.6 357.9 288.5 361.9 289.4 368.6 291.3 371.8 292.3 374.5 293.3 376.8 294.3 378.5 295.3 379.9 296.5 380.6 297.3 380.8 297.8 380.9 298.8 380.6 299.8 379.9 300.8 378.7 301.8 377.0 302.8 374.8 303.8 372.1 304.8 368.9 305.8 361.4 307.9 356.4 308.9 346.9 309.9 337.9 310.3Z" fill="#11e700" fill-rule="evenodd"/>
<path d="M329.9 269.8 323.9 269.9 319.4 269.6 315.9 269.1 313.4 268.2 311.9 267.3 310.9 266.4 310.1 265.3 309.7 264.3 309.4 263.3 309.4 262.3 309.5 261.3 310.0 259.8 310.9 258.4 311.8 257.3 312.8 256.3 314.4 255.0 317.4 253.2 322.4 250.9 325.9 249.6 329.4 248.7 335.4 247.7 341.9 246.8 372.4 244.1 380.4 243.7 386.4 243.6 389.4 243.9 392.4 244.4 394.4 245.0 395.9 245.5 397.9 246.7 399.1 247.8 399.9 248.9 400.5 250.3 400.6 251.8 400.4 252.8 400.0 253.8 398.8 255.8 396.8 257.8 394.7 259.3 392.4 260.6 388.4 262.3 384.9 263.4 378.9 264.8 372.4 266.0 362.9 267.6 356.4 268.5 350.9 269.0 344.9 269.4 329.9 269.8ZM340.9 309.8 329.9 310.0 318.4 309.7 310.9 309.1 305.9 308.4 302.9 307.9 298.4 306.9 292.4 305.2 288.3 303.8 285.9 302.8 284.1 301.8 282.8 300.8 282.3 300.3 281.7 299.3 281.7 298.3 282.1 297.3 283.0 296.3 284.5 295.3 286.4 294.3 288.9 293.3 291.8 292.3 301.4 289.5 305.9 288.6 312.9 287.7 317.9 287.4 325.9 287.3 336.4 287.4 345.9 287.6 352.4 288.2 358.4 289.0 361.9 289.9 368.2 291.8 371.2 292.8 373.7 293.8 375.7 294.8 377.2 295.8 378.3 296.8 378.9 297.8 379.0 298.8 378.7 299.8 377.9 300.8 377.4 301.3 375.9 302.3 373.9 303.3 371.4 304.3 368.9 305.2 361.7 307.3 356.9 308.4 348.4 309.4 340.9 309.8Z" fill="#1cea00" fill-rule="evenodd"/>
<path d="M332.4 269.3 325.9 269.4 321.4 269.2 317.4 268.8 314.9 268.0 313.9 267.6 312.7 266.8 311.7 265.8 311.0 264.8 310.6 263.8 310.4 262.8 310.4 261.8 310.8 260.3 311.6 258.8 312.4 257.8 314.5 255.8 317.4 253.9 321.9 251.6 325.4 250.3 328.9 249.3 334.4 248.3 340.9 247.4 356.9 245.9 371.9 244.6 379.9 244.1 385.9 244.1 388.4 244.3 390.9 244.7 393.4 245.3 394.9 245.8 396.7 246.8 397.9 247.8 398.8 248.8 399.4 250.3 399.6 251.8 399.4 252.8 399.1 253.8 398.5 254.8 397.8 255.8 396.3 257.3 394.3 258.8 391.9 260.2 388.4 261.7 385.1 262.8 379.4 264.2 372.9 265.5 363.9 266.9 357.4 267.9 352.4 268.4 346.4 268.8 340.4 269.1 332.4 269.3ZM343.4 309.3 331.4 309.6 319.4 309.4 312.4 308.8 303.9 307.7 300.4 306.9 296.5 305.8 291.8 304.3 288.0 302.8 286.1 301.8 284.8 300.8 283.9 299.8 283.7 299.3 283.7 298.3 284.1 297.3 285.1 296.3 286.5 295.3 288.5 294.3 291.0 293.3 295.4 291.8 301.9 289.9 306.4 289.0 313.9 288.0 318.4 287.8 327.4 287.6 336.4 287.7 345.4 288.0 351.9 288.5 357.9 289.4 360.4 290.0 363.2 290.8 369.2 292.8 371.7 293.8 373.8 294.8 375.3 295.8 376.4 296.8 377.0 297.8 377.2 298.8 376.9 299.8 376.4 300.4 375.5 301.3 373.0 302.8 370.8 303.8 368.4 304.7 361.9 306.8 357.4 307.8 349.9 308.8 343.4 309.3Z" fill="#28ec00" fill-rule="evenodd"/>
<path d="M334.9 268.8 326.9 268.9 322.9 268.8 318.9 268.3 315.9 267.6 314.4 266.9 313.5 266.3 312.9 265.7 312.2 264.8 311.7 263.8 311.5 262.8 311.5 261.8 311.8 260.3 312.4 259.2 313.4 257.8 314.4 256.8 315.6 255.8 318.7 253.8 322.9 251.8 326.4 250.5 329.4 249.7 334.9 248.7 340.9 247.8 356.9 246.3 371.4 245.1 378.9 244.6 385.4 244.6 387.9 244.8 390.4 245.2 392.9 245.8 394.3 246.3 395.9 247.2 396.9 248.0 397.9 249.2 398.4 250.3 398.6 251.8 398.4 252.8 398.1 253.8 397.6 254.8 396.9 255.7 395.4 257.2 393.4 258.7 391.3 259.8 387.9 261.3 384.9 262.3 379.4 263.6 372.9 265.0 364.9 266.3 357.9 267.3 352.9 267.9 347.5 268.3 341.4 268.6 334.9 268.8ZM345.4 308.8 332.9 309.2 321.9 309.1 313.9 308.6 304.9 307.4 301.9 306.8 298.3 305.8 292.9 304.0 290.0 302.8 288.1 301.8 286.7 300.8 285.9 299.8 285.7 299.3 285.6 298.3 286.1 297.3 286.9 296.4 287.7 295.8 289.4 294.8 291.7 293.8 295.7 292.3 299.4 291.1 302.4 290.3 307.9 289.2 314.4 288.4 318.9 288.2 327.9 288.0 336.4 288.1 345.4 288.4 351.9 289.0 357.9 289.9 360.4 290.5 363.1 291.3 368.4 293.2 370.4 294.1 371.9 294.8 373.5 295.8 374.6 296.8 375.2 297.8 375.4 298.8 375.0 299.8 374.4 300.6 373.7 301.3 371.2 302.8 367.5 304.3 361.9 306.2 357.9 307.3 351.9 308.2 345.4 308.8Z" fill="#33ee00" fill-rule="evenodd"/>
<path d="M335.9 268.3 327.4 268.4 323.9 268.3 319.9 267.8 316.9 267.1 315.4 266.5 314.4 265.8 313.9 265.3 313.1 264.3 312.7 263.3 312.5 262.3 312.6 261.3 312.8 260.3 313.3 259.3 314.0 258.3 314.9 257.3 316.0 256.3 319.1 254.3 323.4 252.1 326.9 250.9 329.9 250.1 335.4 249.1 340.9 248.3 356.9 246.7 371.4 245.5 378.4 245.1 384.9 245.1 387.4 245.3 389.4 245.6 391.9 246.2 393.6 246.8 394.9 247.5 396.0 248.3 396.9 249.3 397.4 250.4 397.6 251.3 397.6 252.3 397.1 253.8 396.2 255.3 394.8 256.8 392.9 258.2 390.4 259.6 387.7 260.8 384.9 261.8 379.4 263.1 373.4 264.4 365.9 265.7 358.4 266.8 353.9 267.3 348.4 267.8 341.9 268.1 335.9 268.3ZM335.4 308.8 327.4 308.8 317.4 308.5 310.4 307.8 303.4 306.6 300.1 305.8 297.0 304.8 293.1 303.3 290.9 302.3 289.3 301.3 288.2 300.3 287.6 299.3 287.5 298.3 287.7 297.8 288.4 296.8 289.6 295.8 291.4 294.8 293.6 293.8 297.4 292.3 300.4 291.3 302.9 290.6 308.9 289.5 314.9 288.8 319.4 288.5 328.4 288.4 336.4 288.4 345.4 288.7 351.4 289.3 357.4 290.2 359.9 290.8 362.9 291.8 369.1 294.3 371.0 295.3 371.9 296.0 372.8 296.8 373.5 297.8 373.6 298.8 373.3 299.8 372.5 300.8 371.2 301.8 369.3 302.8 367.0 303.8 363.2 305.3 360.4 306.2 356.4 307.1 348.9 308.1 343.4 308.5 335.4 308.8Z" fill="#44f100" fill-rule="evenodd"/>
<path d="M336.9 267.8 327.9 267.9 324.9 267.8 320.9 267.3 317.9 266.6 315.9 265.7 314.9 264.9 314.4 264.3 313.8 263.3 313.6 262.3 313.6 261.3 313.9 260.3 314.4 259.3 315.1 258.3 316.0 257.3 317.2 256.3 320.3 254.3 324.4 252.3 327.4 251.2 330.9 250.4 335.9 249.4 341.4 248.7 356.9 247.2 371.4 246.0 378.4 245.6 384.9 245.6 386.9 245.8 388.9 246.1 390.9 246.6 393.0 247.3 393.9 247.8 395.2 248.8 396.0 249.8 396.5 250.8 396.6 252.3 396.1 253.8 395.2 255.3 393.9 256.6 392.3 257.8 389.7 259.3 386.9 260.5 384.4 261.4 378.9 262.7 373.4 263.9 367.9 264.9 358.9 266.3 354.4 266.8 349.4 267.2 342.4 267.6 336.9 267.8ZM339.4 308.3 329.4 308.5 318.4 308.1 311.9 307.5 304.4 306.4 301.4 305.7 298.6 304.8 296.0 303.8 292.8 302.3 291.1 301.3 290.0 300.3 289.4 299.3 289.3 298.3 289.5 297.8 290.2 296.8 291.4 295.8 293.2 294.8 295.3 293.8 298.4 292.5 300.9 291.7 303.4 291.0 308.9 290.0 314.9 289.2 319.4 288.9 328.9 288.7 336.9 288.8 345.4 289.1 351.4 289.7 357.4 290.7 359.9 291.3 362.4 292.2 367.3 294.3 369.2 295.3 370.4 296.1 371.1 296.8 371.7 297.8 371.9 298.8 371.6 299.8 370.9 300.6 370.1 301.3 368.6 302.3 366.5 303.3 363.4 304.6 360.9 305.5 356.9 306.6 351.4 307.4 345.4 308.0 339.4 308.3Z" fill="#60f400" fill-rule="evenodd"/>
<path d="M337.4 267.3 325.9 267.3 322.4 266.9 319.4 266.2 318.2 265.8 316.9 265.2 315.9 264.4 315.4 263.8 315.1 263.3 314.8 262.3 314.8 261.3 315.0 260.3 315.5 259.3 316.2 258.3 317.7 256.8 320.6 254.8 322.4 253.8 324.5 252.8 327.4 251.8 331.2 250.8 336.4 249.8 341.4 249.1 356.9 247.6 370.9 246.5 377.9 246.1 384.4 246.1 386.4 246.3 388.4 246.6 390.4 247.1 392.2 247.8 393.4 248.5 394.4 249.3 394.9 249.9 395.3 250.8 395.5 252.3 395.1 253.8 394.1 255.3 393.2 256.3 391.4 257.6 389.3 258.8 386.9 259.9 384.4 260.8 378.9 262.2 373.4 263.4 368.4 264.3 359.4 265.7 354.9 266.3 349.9 266.7 342.9 267.1 337.4 267.3ZM342.9 307.8 330.9 308.1 319.4 307.8 312.9 307.3 305.4 306.1 302.4 305.4 299.9 304.7 297.4 303.7 294.5 302.3 292.9 301.3 291.8 300.3 291.2 299.3 291.1 298.3 291.3 297.8 292.0 296.8 293.2 295.8 294.9 294.8 296.9 293.8 299.3 292.8 303.9 291.4 309.9 290.3 315.4 289.6 319.9 289.3 329.4 289.1 337.4 289.2 345.4 289.5 350.9 290.1 356.9 291.1 358.9 291.6 361.2 292.3 363.7 293.3 365.8 294.3 367.5 295.3 368.9 296.3 369.8 297.3 370.1 297.8 370.2 298.8 369.9 299.8 369.4 300.4 368.5 301.3 366.9 302.3 365.0 303.3 361.5 304.8 358.3 305.8 354.4 306.6 348.4 307.4 342.9 307.8Z" fill="#7df700" fill-rule="evenodd"/>
<path d="M336.9 266.8 326.4 266.7 323.4 266.4 320.7 265.8 318.3 264.8 316.9 263.8 316.4 263.1 316.0 262.3 316.0 261.3 316.2 260.3 317.0 258.8 317.8 257.8 318.9 256.8 321.8 254.8 325.4 253.0 328.4 252.0 332.4 251.1 336.9 250.2 342.4 249.5 356.9 248.1 370.9 246.9 377.9 246.6 383.9 246.6 385.9 246.8 387.9 247.1 389.9 247.7 391.3 248.3 392.4 248.9 393.4 249.7 393.9 250.3 394.3 251.3 394.4 252.3 394.0 253.8 393.0 255.3 391.9 256.3 389.8 257.8 387.9 258.8 385.4 259.9 382.4 260.8 377.4 262.0 371.9 263.2 358.4 265.4 353.9 265.9 348.9 266.3 342.4 266.7 336.9 266.8ZM344.4 307.3 332.9 307.7 322.9 307.6 314.9 307.1 306.9 306.0 304.4 305.5 301.9 304.8 299.1 303.8 297.0 302.8 294.5 301.3 293.5 300.3 292.9 299.3 292.8 298.3 293.0 297.8 293.7 296.8 294.8 295.8 296.4 294.8 298.4 293.8 300.4 293.0 304.4 291.7 310.4 290.6 315.9 289.9 320.9 289.6 329.4 289.4 336.9 289.5 345.4 289.9 350.9 290.5 356.9 291.5 360.9 292.7 364.3 294.3 366.0 295.3 367.3 296.3 368.2 297.3 368.4 297.8 368.6 298.8 368.5 299.3 368.3 299.8 367.4 300.8 366.2 301.8 364.5 302.8 361.4 304.3 358.4 305.3 355.9 305.9 349.9 306.8 344.4 307.3Z" fill="#9bfa00" fill-rule="evenodd"/>
<path d="M348.4 265.8 341.4 266.2 334.9 266.3 327.4 266.2 324.0 265.8 322.4 265.5 320.9 265.0 319.4 264.3 318.7 263.8 317.9 263.0 317.5 262.3 317.3 261.8 317.3 260.8 317.9 259.3 318.6 258.3 319.6 257.3 320.8 256.3 322.3 255.3 325.1 253.8 327.9 252.7 331.5 251.8 336.4 250.8 341.4 250.1 356.4 248.6 369.4 247.5 375.9 247.2 381.9 247.1 385.9 247.4 387.8 247.8 389.3 248.3 390.9 249.1 392.0 249.8 392.5 250.3 393.1 251.3 393.2 252.3 393.0 253.3 392.6 254.3 391.2 255.8 390.0 256.8 388.4 257.8 386.5 258.8 384.4 259.6 376.9 261.6 368.9 263.2 357.4 265.0 348.4 265.8ZM335.9 307.3 327.9 307.3 317.9 307.0 311.9 306.3 305.4 305.2 303.4 304.7 300.9 303.9 299.4 303.3 297.5 302.3 296.0 301.3 295.0 300.3 294.5 299.3 294.4 298.3 294.6 297.8 295.2 296.8 296.3 295.8 297.9 294.8 301.1 293.3 304.9 292.1 310.4 291.1 315.9 290.3 321.4 290.0 329.4 289.8 336.4 289.9 344.9 290.3 350.4 290.9 356.4 291.9 359.6 292.8 363.0 294.3 364.6 295.3 365.8 296.3 366.6 297.3 366.9 297.8 367.0 298.8 366.9 299.3 366.4 300.3 365.4 301.3 364.0 302.3 362.2 303.3 360.4 304.1 358.4 304.8 356.4 305.3 353.7 305.8 347.9 306.6 343.4 307.0 335.9 307.3Z" fill="#bcfd00" fill-rule="evenodd"/>
<path d="M348.4 265.3 341.9 265.7 335.9 265.7 327.9 265.5 324.9 265.2 323.0 264.8 321.9 264.4 320.7 263.8 319.9 263.3 319.4 262.8 318.9 261.8 318.7 261.3 318.8 260.3 319.5 258.8 320.3 257.8 321.4 256.8 323.6 255.3 326.4 253.9 329.7 252.8 333.9 251.8 338.4 251.0 342.9 250.4 356.9 249.0 369.4 248.0 375.4 247.7 380.9 247.7 385.4 248.0 386.9 248.3 388.4 248.8 389.5 249.3 390.9 250.3 391.4 250.9 391.8 251.8 391.9 252.8 391.5 253.8 390.9 254.8 390.0 255.8 388.7 256.8 387.1 257.8 385.4 258.6 383.3 259.3 375.9 261.3 368.4 262.8 357.4 264.5 348.4 265.3ZM339.4 306.8 329.9 307.0 319.4 306.7 313.9 306.2 307.4 305.1 304.9 304.6 302.9 304.0 301.0 303.3 298.9 302.3 297.5 301.3 296.5 300.3 295.9 299.3 295.9 298.3 296.0 297.8 296.6 296.8 298.4 295.3 301.4 293.8 303.4 293.1 305.4 292.5 310.9 291.4 315.9 290.7 321.4 290.4 329.4 290.2 336.4 290.3 344.9 290.7 350.4 291.3 355.9 292.3 359.4 293.3 362.4 294.7 363.3 295.3 364.5 296.3 365.3 297.3 365.5 297.8 365.6 298.3 365.5 299.3 365.0 300.3 364.1 301.3 361.9 302.8 358.9 304.1 355.9 304.9 349.9 306.0 344.9 306.5 339.4 306.8Z" fill="#ddff00" fill-rule="evenodd"/>
<path d="M348.4 264.8 341.9 265.1 336.9 265.2 330.9 265.0 326.4 264.7 323.9 264.2 321.9 263.3 320.9 262.5 320.4 261.8 320.3 261.3 320.2 260.3 320.3 259.8 320.8 258.8 322.1 257.3 324.1 255.8 326.9 254.4 330.1 253.3 333.9 252.4 337.9 251.6 342.4 251.0 353.4 249.8 363.9 248.9 372.4 248.3 378.9 248.2 383.9 248.5 386.4 249.0 387.9 249.5 389.2 250.3 389.9 251.0 390.3 251.8 390.5 252.8 390.2 253.8 389.6 254.8 388.4 256.0 387.3 256.8 385.5 257.8 381.2 259.3 377.6 260.3 373.4 261.3 365.3 262.8 356.4 264.1 348.4 264.8ZM341.9 306.3 332.9 306.6 324.9 306.5 316.9 306.1 310.4 305.2 304.4 303.9 302.4 303.2 300.4 302.3 298.8 301.3 297.8 300.3 297.3 299.3 297.2 298.3 297.6 297.3 298.0 296.8 298.9 296.0 299.8 295.3 301.4 294.5 302.9 293.8 306.3 292.8 311.4 291.8 316.4 291.1 322.4 290.7 329.9 290.6 336.4 290.6 344.4 291.0 349.4 291.6 354.4 292.5 357.9 293.3 360.9 294.6 362.0 295.3 363.2 296.3 363.7 296.8 364.2 297.8 364.3 298.3 364.3 299.3 364.1 299.8 363.4 300.8 361.4 302.3 358.9 303.5 356.4 304.3 351.4 305.3 346.4 306.0 341.9 306.3Z" fill="#ecfd00" fill-rule="evenodd"/>
<path d="M347.4 264.3 341.4 264.6 336.4 264.6 330.9 264.4 326.9 264.0 324.3 263.3 323.3 262.8 322.6 262.3 321.9 261.3 321.7 260.8 321.8 259.8 321.9 259.3 322.5 258.3 323.9 256.9 325.6 255.8 327.9 254.7 330.6 253.8 334.9 252.7 339.4 251.9 343.9 251.3 353.9 250.3 362.9 249.5 371.9 248.9 377.9 248.8 382.9 249.1 384.4 249.3 385.9 249.7 387.3 250.3 388.0 250.8 388.5 251.3 389.0 252.3 389.0 253.3 388.6 254.3 387.8 255.3 386.5 256.3 385.4 257.0 383.9 257.7 379.0 259.3 375.2 260.3 371.4 261.1 362.0 262.8 354.9 263.8 347.4 264.3ZM343.9 305.8 334.9 306.2 327.4 306.2 318.1 305.8 311.9 305.0 305.4 303.7 303.4 303.0 301.8 302.3 300.2 301.3 299.2 300.3 298.6 299.3 298.5 298.3 298.9 297.4 299.3 296.8 300.4 295.9 301.2 295.3 303.9 294.1 307.4 293.1 312.4 292.1 316.9 291.5 323.4 291.1 329.9 290.9 336.4 291.0 343.9 291.4 348.4 291.9 353.4 292.7 357.4 293.8 359.9 294.8 360.9 295.4 362.0 296.3 362.4 296.8 363.0 297.8 363.1 298.3 363.0 299.3 362.5 300.3 362.1 300.8 360.4 302.1 358.4 303.1 356.3 303.8 351.8 304.8 347.9 305.4 343.9 305.8Z" fill="#fbfb00" fill-rule="evenodd"/>
<path d="M346.4 263.8 340.9 264.0 336.4 264.0 331.9 263.7 327.9 263.3 325.9 262.8 324.4 262.0 323.7 261.3 323.4 260.8 323.3 259.8 323.7 258.8 324.4 257.8 325.0 257.3 326.4 256.3 328.4 255.3 331.3 254.3 335.2 253.3 339.9 252.4 344.4 251.8 359.9 250.3 369.9 249.6 375.9 249.5 380.9 249.7 384.4 250.3 385.4 250.6 386.4 251.2 387.0 251.8 387.3 252.3 387.4 253.3 387.0 254.3 386.2 255.3 385.4 255.9 383.8 256.8 381.4 257.8 376.6 259.3 370.2 260.8 359.9 262.6 353.9 263.3 346.4 263.8ZM335.4 305.8 327.9 305.8 318.9 305.5 314.4 305.0 309.9 304.2 305.4 303.1 303.9 302.5 302.4 301.8 301.4 301.1 300.5 300.3 299.9 299.3 299.9 298.3 300.3 297.3 300.7 296.8 301.9 295.8 302.7 295.3 305.0 294.3 308.7 293.3 313.4 292.4 317.4 291.8 323.9 291.5 329.9 291.3 335.9 291.4 343.4 291.8 347.9 292.2 351.9 292.9 355.9 293.9 358.4 294.8 359.4 295.3 360.7 296.3 361.4 297.1 361.8 297.8 361.9 298.3 361.8 299.3 361.4 300.2 360.9 300.8 359.9 301.6 358.9 302.2 356.4 303.2 351.9 304.3 346.9 305.1 342.9 305.5 335.4 305.8Z" fill="#ffe800" fill-rule="evenodd"/>
<path d="M343.9 263.3 339.4 263.4 335.4 263.2 331.4 262.9 328.4 262.4 326.9 261.9 325.9 261.3 325.4 260.8 325.2 260.3 325.2 259.3 325.4 258.7 326.1 257.8 327.4 256.8 329.4 255.8 332.2 254.8 335.9 253.8 339.4 253.1 342.9 252.6 349.4 251.8 356.4 251.1 362.9 250.6 370.4 250.2 375.4 250.1 378.9 250.3 382.4 250.9 383.7 251.3 384.7 251.8 385.3 252.3 385.5 252.8 385.6 253.3 385.2 254.3 384.4 255.1 383.4 255.8 381.5 256.8 378.9 257.8 373.9 259.3 366.9 260.8 357.7 262.3 351.9 262.9 343.9 263.3ZM338.4 305.3 331.4 305.5 324.4 305.3 317.4 304.9 312.4 304.2 306.9 302.9 305.1 302.3 303.9 301.8 302.9 301.2 301.9 300.3 301.3 299.3 301.2 298.3 301.6 297.3 302.1 296.8 302.6 296.3 303.9 295.5 305.9 294.7 310.4 293.4 313.9 292.7 317.9 292.2 324.4 291.9 329.9 291.7 335.9 291.8 343.4 292.2 347.4 292.6 350.9 293.2 355.3 294.3 357.9 295.3 359.4 296.3 359.9 296.8 360.6 297.8 360.7 298.3 360.6 299.3 360.1 300.3 359.4 301.0 358.4 301.7 356.4 302.6 351.9 303.8 347.9 304.5 343.9 305.0 338.4 305.3Z" fill="#ffce00" fill-rule="evenodd"/>
<path d="M351.4 262.3 341.4 262.7 337.4 262.6 333.9 262.3 331.0 261.8 328.9 261.2 328.1 260.8 327.5 260.3 327.3 259.8 327.3 259.3 327.4 258.8 327.7 258.3 328.9 257.3 330.8 256.3 334.4 255.0 336.9 254.3 340.9 253.5 350.4 252.3 361.9 251.3 369.9 250.9 373.9 250.9 377.9 251.2 380.4 251.7 382.0 252.3 382.6 252.8 382.9 253.3 382.9 253.8 382.7 254.3 382.3 254.8 380.9 255.8 377.7 257.3 374.7 258.3 370.4 259.4 363.2 260.8 356.9 261.8 351.4 262.3ZM339.9 304.8 332.9 305.1 326.9 305.0 318.9 304.6 313.9 304.0 308.6 302.8 306.4 302.1 304.9 301.4 303.9 300.8 302.9 299.8 302.7 299.3 302.6 298.3 302.9 297.5 303.5 296.8 305.0 295.8 307.5 294.8 311.4 293.7 314.9 293.1 318.4 292.6 324.4 292.3 329.9 292.1 335.9 292.2 342.9 292.6 345.9 292.9 349.4 293.4 353.2 294.3 356.4 295.4 358.0 296.3 358.6 296.8 359.3 297.8 359.5 298.3 359.4 299.3 358.8 300.3 357.5 301.3 355.2 302.3 351.8 303.3 347.9 304.1 344.4 304.5 339.9 304.8Z" fill="#ffb400" fill-rule="evenodd"/>
<path d="M347.4 261.8 339.9 261.9 336.9 261.7 334.4 261.3 332.4 260.8 331.2 260.3 330.6 259.8 330.3 259.3 330.3 258.8 330.5 258.3 331.0 257.8 332.5 256.8 334.9 255.8 336.9 255.2 339.4 254.6 342.4 254.0 352.9 252.7 357.4 252.3 363.4 251.9 369.4 251.7 372.9 251.7 375.4 252.0 377.4 252.3 378.9 252.9 379.4 253.3 379.7 253.8 379.6 254.3 379.3 254.8 378.8 255.3 377.2 256.3 374.8 257.3 370.4 258.6 364.7 259.8 358.4 260.9 353.4 261.5 347.4 261.8ZM341.4 304.3 334.4 304.6 328.9 304.7 319.9 304.3 315.4 303.8 310.8 302.8 308.9 302.2 306.5 301.3 305.4 300.7 304.4 299.8 304.1 299.3 304.0 298.8 304.0 298.3 304.6 297.3 305.1 296.8 306.4 296.0 309.6 294.8 312.9 293.9 315.9 293.4 318.9 293.0 324.9 292.7 329.9 292.5 335.4 292.6 341.9 293.0 345.4 293.3 348.4 293.7 352.7 294.8 355.4 295.8 357.1 296.8 357.9 297.8 358.1 298.8 357.7 299.8 356.7 300.8 354.6 301.8 351.5 302.8 348.4 303.5 344.9 304.0 341.4 304.3Z" fill="#ff9b00" fill-rule="evenodd"/>
<path d="M351.4 260.8 343.4 261.0 339.0 260.8 336.9 260.5 335.4 260.0 334.8 259.8 334.1 259.3 333.9 258.8 334.0 258.3 334.3 257.8 335.0 257.3 337.0 256.3 338.5 255.8 342.9 254.8 353.4 253.4 361.9 252.8 370.4 252.7 372.4 252.9 374.4 253.3 375.4 253.8 375.7 254.3 375.7 254.8 375.3 255.3 374.6 255.8 372.6 256.8 369.5 257.8 365.3 258.8 360.2 259.8 355.9 260.4 351.4 260.8ZM341.9 303.8 334.9 304.2 329.4 304.3 320.9 303.9 315.9 303.3 311.4 302.3 308.5 301.3 307.4 300.7 306.2 299.8 305.8 299.3 305.7 298.8 305.7 298.3 305.9 297.8 306.4 297.3 307.8 296.3 310.2 295.3 313.9 294.3 316.5 293.8 319.4 293.5 325.9 293.1 330.9 293.0 335.9 293.1 342.4 293.5 345.6 293.8 348.5 294.3 352.1 295.3 354.5 296.3 355.9 297.3 356.4 297.8 356.6 298.3 356.6 298.8 356.4 299.3 356.1 299.8 355.6 300.3 353.9 301.3 352.6 301.8 349.9 302.6 347.4 303.2 344.9 303.5 341.9 303.8Z" fill="#ff8100" fill-rule="evenodd"/>
<path d="M351.9 259.8 346.9 259.9 342.4 259.8 339.8 259.3 338.8 258.8 338.5 258.3 338.7 257.8 339.3 257.3 340.3 256.8 341.7 256.3 346.7 255.3 354.0 254.3 359.4 253.9 364.4 253.9 368.9 254.3 370.1 254.8 370.3 255.3 369.8 255.8 369.0 256.3 367.7 256.8 364.5 257.8 360.1 258.8 357.4 259.3 351.9 259.8ZM333.4 303.8 328.7 303.8 323.4 303.6 318.4 303.2 314.9 302.6 311.9 301.8 309.5 300.8 308.1 299.8 307.7 299.3 307.6 298.8 307.6 298.3 307.8 297.8 308.3 297.3 309.8 296.3 312.3 295.3 314.9 294.6 317.9 294.1 321.4 293.8 326.4 293.5 330.9 293.4 335.4 293.5 340.9 293.8 344.4 294.2 347.4 294.7 349.9 295.3 352.5 296.3 354.1 297.3 354.5 297.8 354.7 298.3 354.8 298.8 354.6 299.3 354.2 299.8 353.6 300.3 351.8 301.3 348.7 302.3 346.4 302.8 343.4 303.2 333.4 303.8Z" fill="#ff6900" fill-rule="evenodd"/>
<path d="M356.4 257.9 352.9 258.2 350.4 258.2 348.3 257.8 348.1 257.3 349.0 256.8 350.9 256.3 354.9 255.7 356.9 255.6 358.9 255.7 359.9 255.8 360.7 256.3 360.2 256.8 358.9 257.3 356.4 257.9ZM333.9 303.3 329.9 303.4 325.4 303.2 319.4 302.7 316.3 302.3 312.9 301.4 310.9 300.4 310.0 299.8 309.6 299.3 309.5 298.8 309.5 298.3 309.7 297.8 310.2 297.3 311.9 296.3 313.4 295.7 315.9 295.0 318.4 294.6 321.9 294.3 326.9 294.0 330.9 293.9 334.9 294.0 339.4 294.2 343.4 294.6 345.9 295.0 348.4 295.6 350.4 296.3 352.1 297.3 352.6 297.8 352.8 298.3 352.9 298.8 352.7 299.3 352.3 299.8 351.7 300.3 349.9 301.2 348.0 301.8 345.9 302.3 342.9 302.7 333.9 303.3Z" fill="#ff5000" fill-rule="evenodd"/>
<path d="M333.9 302.8 329.9 302.8 325.9 302.7 320.9 302.3 317.2 301.8 314.9 301.2 312.8 300.3 312.1 299.8 311.6 299.3 311.4 298.8 311.5 298.3 311.8 297.8 312.3 297.3 313.1 296.8 314.9 296.0 317.4 295.4 319.4 295.1 323.9 294.7 330.9 294.4 338.4 294.7 342.9 295.1 344.9 295.4 347.4 296.1 349.2 296.8 350.0 297.3 350.5 297.8 350.8 298.3 350.8 298.8 350.7 299.3 350.2 299.8 349.5 300.3 348.5 300.8 346.9 301.3 345.0 301.8 342.9 302.1 338.4 302.5 333.9 302.8Z" fill="#ff3700" fill-rule="evenodd"/>
<path d="M339.4 301.8 334.4 302.2 329.9 302.3 324.9 302.0 319.4 301.4 316.9 300.9 315.2 300.3 314.3 299.8 313.8 299.3 313.6 298.8 313.7 298.3 314.0 297.8 314.4 297.4 315.4 296.9 317.0 296.3 318.4 296.0 324.4 295.3 330.9 295.0 337.9 295.3 343.9 296.0 345.2 296.3 346.9 296.9 347.6 297.3 348.3 297.8 348.6 298.3 348.6 298.8 348.4 299.3 347.9 299.8 346.4 300.6 343.7 301.3 339.4 301.8Z" fill="#ff1e00" fill-rule="evenodd"/>
<path d="M337.4 301.3 333.4 301.6 329.9 301.6 325.9 301.4 321.9 301.0 318.9 300.4 317.2 299.8 316.5 299.3 316.2 298.8 316.2 298.3 316.7 297.8 317.5 297.3 319.4 296.7 321.9 296.3 325.4 295.9 330.9 295.6 336.4 295.9 342.4 296.7 344.7 297.3 345.5 297.8 346.0 298.3 346.0 298.8 345.7 299.3 345.0 299.8 343.9 300.3 341.3 300.8 337.4 301.3Z" fill="#ff0400" fill-rule="evenodd"/>
<path d="M332.9 300.8 328.9 300.8 324.3 300.3 322.0 299.8 320.7 299.3 320.2 298.8 320.3 298.3 321.1 297.8 322.7 297.3 325.9 296.7 330.4 296.4 333.4 296.5 336.9 296.8 339.5 297.3 341.1 297.8 341.9 298.3 342.0 298.8 341.4 299.3 340.1 299.8 337.4 300.4 332.9 300.8Z" fill="#ff0000" fill-rule="evenodd"/>
<path d="M333.4 299.4 331.4 299.5 329.4 299.4 328.2 299.3 327.0 298.8 327.3 298.3 328.9 297.9 329.9 297.8 332.7 297.8 334.9 298.3 335.1 298.8 333.9 299.3 333.4 299.4Z" fill="#ff0000" fill-rule="evenodd"/>
</g>
<path d="M277.4 232.6 285.9 232.7 306.9 233.5 312.4 233.3 317.9 232.9 322.1 232.3 327.8 231.3 343.9 228.0 348.9 227.2 350.9 227.1 352.9 227.1 358.9 227.9 360.9 228.1 362.9 228.0 364.4 227.9 366.4 227.4 368.4 226.6 374.4 223.5 376.4 222.7 378.9 222.0 382.4 221.6 385.4 221.6 388.4 221.7 393.9 222.1 398.4 222.6 407.4 224.1 411.4 225.0 415.4 226.2M415.4 274.5 411.4 274.3 406.9 274.4 402.9 274.6 398.9 275.0 394.4 275.7 391.6 276.3 390.2 276.8 389.3 277.3 389.1 277.8 389.4 278.3 390.4 278.8 392.0 279.3 394.7 279.8 398.8 280.3 402.9 280.6 406.9 280.7 411.4 280.6 415.4 280.4" fill="none" stroke="#1a1a1a" stroke-opacity="0.75" stroke-width="0.55"/>
<path d="M277.4 263.1 279.0 260.8 281.4 257.8 283.3 255.8 285.4 253.9 288.9 251.3 294.4 247.9 296.9 246.5 298.9 245.6 301.4 244.6 306.9 242.9 315.9 240.5 325.4 238.4 333.4 237.2 342.9 236.1 351.4 235.5 363.4 234.7 378.4 233.1 386.9 232.7 394.4 232.8 400.9 233.5 405.9 234.3 409.4 235.0 412.9 236.0 415.4 236.9M415.4 266.3 413.6 267.3 411.2 268.3 408.9 269.0 405.9 269.8 396.4 271.7 381.2 274.3 376.8 275.3 375.1 275.8 372.6 276.8 371.8 277.3 371.4 277.8 371.3 278.3 371.6 278.8 371.9 279.0 373.3 279.8 375.9 280.6 378.6 281.3 385.9 282.6 407.4 285.7 411.9 286.6 415.4 287.5M338.8 281.3 341.9 280.8 343.8 280.3 345.2 279.8 346.0 279.3 346.3 278.8 346.1 278.3 345.5 277.8 344.3 277.3 340.9 276.5 336.4 276.0 331.4 275.9 326.9 276.2 323.3 276.8 321.6 277.3 320.5 277.8 319.8 278.3 319.5 278.8 319.7 279.3 320.2 279.8 321.2 280.3 322.8 280.8 325.6 281.3 328.9 281.6 331.9 281.7 335.4 281.6 338.8 281.3M415.4 305.7 410.4 307.1 408.4 307.9 406.4 308.8 404.7 309.8 403.4 310.8 398.9 314.8 397.4 315.7 396.1 316.3" fill="none" stroke="#1a1a1a" stroke-opacity="0.75" stroke-width="0.55"/>
<path d="M277.4 285.5 284.7 283.8 291.5 281.8 295.2 280.3 296.9 279.3 297.5 278.8 298.0 278.3 298.2 277.8 298.2 276.8 297.7 275.8 295.5 271.8 294.6 269.8 293.8 267.3 293.5 265.3 293.5 263.3 293.9 261.3 294.7 259.3 295.8 257.3 297.3 255.3 298.8 253.8 300.6 252.3 302.9 250.8 307.4 248.6 311.4 246.8 315.9 245.1 319.9 243.9 324.4 242.7 327.9 241.9 332.9 241.1 338.4 240.4 375.9 237.2 383.9 236.7 387.9 236.6 392.9 236.8 396.4 237.1 400.9 238.0 405.9 239.2 409.1 240.3 411.9 241.7 413.9 243.1 415.4 244.8M415.4 254.9 413.7 257.3 411.8 259.3 408.9 261.6 405.9 263.6 401.6 265.8 397.9 267.4 393.9 268.8 389.7 269.8 385.4 270.7 372.8 272.8 362.4 274.7 358.9 275.3 356.4 275.5 353.4 275.5 337.9 274.4 332.9 274.3 328.4 274.5 322.4 275.0 317.4 275.8 313.0 276.8 311.3 277.3 310.1 277.8 309.3 278.3 309.1 278.8 309.3 279.3 310.0 279.8 312.4 280.8 316.9 281.9 322.4 282.7 328.9 283.2 335.4 283.2 341.4 282.9 353.4 281.8 357.9 281.7 362.4 282.2 384.9 286.3 389.6 287.3 393.4 288.3 396.9 289.5 400.4 291.0 403.4 292.6 405.4 294.1 407.0 295.8 407.8 297.3 408.0 298.8 407.5 300.3 406.5 301.8 405.3 302.8 403.0 304.3 400.2 305.8 396.9 307.4 393.4 308.8 387.9 310.4 380.4 312.0 359.9 315.6 354.2 316.3M308.1 316.3 301.4 315.5 277.4 311.6" fill="none" stroke="#1a1a1a" stroke-opacity="0.75" stroke-width="0.55"/>
<path d="M321.4 273.3 315.4 273.7 311.9 273.6 308.9 273.1 307.4 272.7 305.9 272.0 304.6 271.3 303.4 270.5 302.4 269.5 301.5 268.3 300.9 267.2 300.4 265.8 300.1 264.3 300.1 262.8 300.4 261.3 300.7 260.3 301.4 259.0 302.2 257.8 304.1 255.8 307.4 253.3 310.9 251.2 314.9 249.2 319.9 247.3 324.9 245.7 327.9 244.9 332.4 244.2 342.4 242.9 375.4 240.1 384.4 239.6 388.4 239.6 392.9 239.9 396.4 240.4 399.9 241.4 403.4 242.7 405.6 243.8 407.7 245.3 409.0 246.8 409.6 247.8 409.9 248.8 410.1 249.8 410.1 250.8 409.9 251.8 409.4 253.3 408.5 254.8 407.8 255.8 406.4 257.3 405.3 258.3 401.2 261.3 396.9 263.8 392.9 265.5 387.9 267.1 383.9 268.0 374.9 269.7 362.4 271.7 356.4 272.5 349.4 272.8 330.9 272.8 321.4 273.3M277.4 290.3 300.4 284.9 302.9 284.4 305.9 284.1 309.4 283.9 312.4 283.9 323.4 284.5 329.9 284.7 336.9 284.7 348.4 284.4 355.9 284.7 358.4 284.9 361.4 285.4 373.9 287.9 380.9 289.6 386.4 291.3 390.4 293.0 391.7 293.8 393.2 294.8 394.2 295.8 394.9 296.8 395.3 297.8 395.4 298.8 395.2 299.8 394.7 300.8 393.8 301.8 392.6 302.8 391.0 303.8 389.0 304.8 386.5 305.8 383.9 306.6 379.9 307.8 375.4 308.8 360.4 311.8 355.9 312.5 347.9 313.2 339.4 313.6 329.4 313.7 318.4 313.5 311.4 313.0 304.9 312.3 300.4 311.7 285.9 308.9 277.4 307.0" fill="none" stroke="#1a1a1a" stroke-opacity="0.75" stroke-width="0.55"/>
<path d="M341.9 270.8 320.9 271.2 316.4 271.1 313.4 270.6 311.4 269.9 309.9 269.0 308.4 267.8 307.5 266.8 306.9 265.8 306.3 264.3 306.2 262.8 306.4 261.3 306.8 260.3 307.6 258.8 308.7 257.3 309.7 256.3 311.4 254.9 312.9 253.8 316.4 251.8 321.9 249.5 326.4 248.0 331.4 246.9 338.4 245.9 346.9 245.0 372.9 242.7 381.9 242.2 387.4 242.2 390.4 242.5 393.4 242.9 395.9 243.5 397.9 244.3 399.9 245.3 401.4 246.4 402.7 247.8 403.5 249.3 403.8 250.3 403.8 251.3 403.6 252.3 403.3 253.3 402.1 255.3 400.4 257.3 398.0 259.3 395.4 261.0 392.9 262.2 388.9 263.8 384.9 265.0 378.4 266.4 371.4 267.7 362.4 269.1 357.4 269.8 352.9 270.3 347.9 270.6 341.9 270.8M277.4 295.6 278.8 294.8 280.9 293.8 283.5 292.8 286.6 291.8 300.4 288.1 305.9 287.1 311.4 286.5 316.9 286.2 345.4 286.4 351.9 286.8 358.4 287.6 362.9 288.6 370.4 290.5 374.4 291.7 378.9 293.3 380.9 294.3 382.6 295.3 383.4 296.0 384.2 296.8 384.7 297.8 384.9 298.8 384.6 299.8 383.9 300.8 382.7 301.8 381.1 302.8 379.0 303.8 376.4 304.8 370.9 306.5 361.4 308.9 356.9 309.7 347.9 310.7 338.9 311.1 329.4 311.2 318.4 311.0 311.9 310.5 304.4 309.6 298.4 308.4 290.4 306.5 286.4 305.4 281.5 303.8 279.3 302.8 277.4 301.8" fill="none" stroke="#1a1a1a" stroke-opacity="0.75" stroke-width="0.55"/>
<path d="M328.4 268.8 323.9 268.7 319.9 268.4 316.9 267.8 315.6 267.3 314.6 266.8 313.8 266.3 312.8 265.3 312.1 264.3 311.8 263.3 311.7 262.3 311.7 261.3 312.0 260.3 312.5 259.3 313.2 258.3 314.1 257.3 315.1 256.3 316.5 255.3 319.9 253.3 324.4 251.3 327.4 250.3 331.4 249.4 336.9 248.4 342.4 247.8 357.4 246.3 371.9 245.1 379.4 244.7 385.4 244.7 387.4 244.8 389.9 245.2 392.4 245.8 393.9 246.3 395.4 247.0 396.5 247.8 397.4 248.8 398.2 250.3 398.4 251.8 398.3 252.8 397.9 253.8 397.0 255.3 395.4 257.0 393.4 258.5 390.9 259.9 387.6 261.3 384.4 262.3 378.3 263.8 371.9 265.1 362.4 266.6 355.9 267.5 349.9 268.0 342.9 268.5 328.4 268.8M343.9 308.8 331.4 309.2 319.4 308.9 312.4 308.3 304.4 307.2 301.4 306.6 297.9 305.6 292.8 303.8 290.4 302.8 288.5 301.8 287.1 300.8 286.3 299.8 286.1 299.3 286.0 298.3 286.4 297.3 286.9 296.8 288.1 295.8 289.8 294.8 292.1 293.8 296.1 292.3 299.4 291.2 302.6 290.3 307.9 289.3 314.4 288.5 318.9 288.2 328.4 288.1 336.9 288.1 345.4 288.4 351.9 289.0 357.9 290.0 360.4 290.6 363.4 291.5 368.2 293.3 370.6 294.3 372.4 295.3 373.4 296.0 374.2 296.8 374.9 297.8 375.0 298.8 374.7 299.8 373.9 300.8 373.3 301.3 371.8 302.3 369.7 303.3 364.4 305.3 360.4 306.6 356.9 307.4 349.9 308.3 343.9 308.8" fill="none" stroke="#1a1a1a" stroke-opacity="0.75" stroke-width="0.55"/>
<path d="M344.9 265.8 338.9 266.0 332.4 266.0 326.9 265.9 323.9 265.5 321.4 264.8 320.3 264.3 319.4 263.8 318.9 263.3 318.1 262.3 317.9 261.8 317.9 260.8 318.4 259.3 319.1 258.3 320.1 257.3 321.3 256.3 322.8 255.3 325.7 253.8 328.4 252.8 332.4 251.8 337.4 250.9 341.9 250.2 356.4 248.7 369.4 247.7 375.9 247.4 381.9 247.4 385.9 247.7 387.9 248.1 389.4 248.7 390.6 249.3 391.8 250.3 392.4 251.1 392.6 251.8 392.7 252.8 392.3 253.8 391.7 254.8 390.2 256.3 388.8 257.3 387.0 258.3 384.9 259.2 383.0 259.8 378.9 260.9 373.9 262.1 363.4 263.9 354.4 265.1 344.9 265.8M343.9 306.8 333.4 307.2 324.9 307.1 316.4 306.7 312.9 306.3 308.9 305.7 305.4 305.0 303.4 304.5 301.3 303.8 299.0 302.8 297.3 301.8 296.6 301.3 295.6 300.3 295.1 299.3 295.0 298.3 295.1 297.8 295.8 296.8 296.9 295.8 298.4 294.8 301.7 293.3 305.0 292.3 310.4 291.2 315.9 290.5 321.4 290.2 329.4 290.0 336.4 290.0 344.9 290.4 350.4 291.0 356.4 292.1 359.9 293.2 362.9 294.6 364.1 295.3 365.3 296.3 366.1 297.3 366.3 297.8 366.5 298.8 366.4 299.3 366.2 299.8 365.4 300.8 363.5 302.3 360.6 303.8 357.7 304.8 354.4 305.5 348.9 306.4 343.9 306.8" fill="none" stroke="#1a1a1a" stroke-opacity="0.75" stroke-width="0.55"/>
<path d="M346.9 262.8 342.4 263.0 338.4 262.9 334.9 262.7 331.3 262.3 329.0 261.8 327.4 261.2 326.9 260.8 326.5 260.3 326.3 259.8 326.3 259.3 326.8 258.3 327.4 257.7 328.4 257.0 330.9 255.8 333.8 254.8 337.8 253.8 340.9 253.2 352.8 251.8 359.4 251.2 368.4 250.7 372.4 250.6 375.9 250.6 379.4 251.0 381.9 251.6 383.5 252.3 383.9 252.8 384.1 253.3 384.0 253.8 383.3 254.8 382.7 255.3 381.0 256.3 377.4 257.8 372.9 259.1 367.4 260.3 358.7 261.8 353.4 262.4 346.9 262.8M342.9 304.8 334.9 305.2 328.9 305.2 319.4 304.8 314.4 304.3 309.6 303.3 306.9 302.5 305.0 301.8 303.9 301.2 302.7 300.3 302.1 299.3 302.0 298.3 302.4 297.4 302.9 296.8 304.3 295.8 306.7 294.8 310.9 293.6 314.9 292.9 318.4 292.5 324.4 292.1 329.9 292.0 335.9 292.1 342.9 292.4 346.4 292.8 349.8 293.3 354.0 294.3 356.9 295.3 358.6 296.3 359.4 297.1 359.8 297.8 360.0 298.3 359.9 299.3 359.3 300.3 358.1 301.3 356.4 302.2 353.9 303.0 350.4 303.8 346.9 304.4 342.9 304.8" fill="none" stroke="#1a1a1a" stroke-opacity="0.75" stroke-width="0.55"/>
<path d="M335.9 302.8 331.4 303.0 326.9 302.9 320.9 302.4 317.4 302.0 314.6 301.3 312.3 300.3 311.7 299.8 311.2 299.3 311.0 298.8 311.1 298.3 311.3 297.8 311.9 297.3 312.9 296.7 315.1 295.8 317.2 295.3 319.4 295.0 323.9 294.6 330.9 294.3 337.9 294.6 342.4 295.0 344.9 295.3 347.1 295.8 349.4 296.7 350.4 297.3 351.0 297.8 351.2 298.3 351.3 298.8 351.1 299.3 350.6 299.8 350.0 300.3 349.0 300.8 347.6 301.3 345.7 301.8 343.4 302.2 335.9 302.8" fill="none" stroke="#1a1a1a" stroke-opacity="0.75" stroke-width="0.55"/>
</g>
<rect x="278.4" y="190.3" width="136.1" height="125.3" fill="none" stroke="#000" stroke-width="1.4"/>
<line x1="278.4" y1="189.6" x2="278.4" y2="316.3" stroke="#000" stroke-width="1.7"/>
<line x1="278.6" y1="315.6" x2="278.6" y2="319" stroke="#000" stroke-width="1.5"/>
<line x1="289.07" y1="315.6" x2="289.07" y2="318" stroke="#000" stroke-width="1.5"/>
<line x1="299.54" y1="315.6" x2="299.54" y2="319" stroke="#000" stroke-width="1.5"/>
<line x1="310.01" y1="315.6" x2="310.01" y2="318" stroke="#000" stroke-width="1.5"/>
<line x1="320.48" y1="315.6" x2="320.48" y2="319" stroke="#000" stroke-width="1.5"/>
<line x1="330.95" y1="315.6" x2="330.95" y2="318" stroke="#000" stroke-width="1.5"/>
<line x1="341.42" y1="315.6" x2="341.42" y2="319" stroke="#000" stroke-width="1.5"/>
<line x1="351.89" y1="315.6" x2="351.89" y2="318" stroke="#000" stroke-width="1.5"/>
<line x1="362.36" y1="315.6" x2="362.36" y2="319" stroke="#000" stroke-width="1.5"/>
<line x1="372.83" y1="315.6" x2="372.83" y2="318" stroke="#000" stroke-width="1.5"/>
<line x1="383.3" y1="315.6" x2="383.3" y2="319" stroke="#000" stroke-width="1.5"/>
<line x1="393.77" y1="315.6" x2="393.77" y2="318" stroke="#000" stroke-width="1.5"/>
<line x1="404.24" y1="315.6" x2="404.24" y2="319" stroke="#000" stroke-width="1.5"/>
<line x1="278.4" y1="315.4" x2="275.4" y2="315.4" stroke="#000" stroke-width="1.5"/>
<line x1="278.4" y1="304.98" x2="276.4" y2="304.98" stroke="#000" stroke-width="1.5"/>
<line x1="278.4" y1="294.55" x2="275.4" y2="294.55" stroke="#000" stroke-width="1.5"/>
<line x1="278.4" y1="284.13" x2="276.4" y2="284.13" stroke="#000" stroke-width="1.5"/>
<line x1="278.4" y1="273.7" x2="275.4" y2="273.7" stroke="#000" stroke-width="1.5"/>
<line x1="278.4" y1="263.28" x2="276.4" y2="263.28" stroke="#000" stroke-width="1.5"/>
<line x1="278.4" y1="252.85" x2="275.4" y2="252.85" stroke="#000" stroke-width="1.5"/>
<line x1="278.4" y1="242.43" x2="276.4" y2="242.43" stroke="#000" stroke-width="1.5"/>
<line x1="278.4" y1="232" x2="275.4" y2="232" stroke="#000" stroke-width="1.5"/>
<line x1="278.4" y1="221.58" x2="276.4" y2="221.58" stroke="#000" stroke-width="1.5"/>
<line x1="278.4" y1="211.15" x2="275.4" y2="211.15" stroke="#000" stroke-width="1.5"/>
<line x1="278.4" y1="200.73" x2="276.4" y2="200.73" stroke="#000" stroke-width="1.5"/>
<line x1="278.4" y1="190.3" x2="275.4" y2="190.3" stroke="#000" stroke-width="1.5"/>
<text x="256.5" y="322.1" font-size="12" textLength="17.1" lengthAdjust="spacingAndGlyphs" fill="#000" font-family='"Liberation Sans", sans-serif' font-weight="bold">1.0</text>
<text x="256.5" y="301.25" font-size="12" textLength="17.1" lengthAdjust="spacingAndGlyphs" fill="#000" font-family='"Liberation Sans", sans-serif' font-weight="bold">1.5</text>
<text x="256.5" y="280.4" font-size="12" textLength="17.1" lengthAdjust="spacingAndGlyphs" fill="#000" font-family='"Liberation Sans", sans-serif' font-weight="bold">2.0</text>
<text x="256.5" y="259.55" font-size="12" textLength="17.1" lengthAdjust="spacingAndGlyphs" fill="#000" font-family='"Liberation Sans", sans-serif' font-weight="bold">2.5</text>
<text x="256.5" y="238.7" font-size="12" textLength="17.1" lengthAdjust="spacingAndGlyphs" fill="#000" font-family='"Liberation Sans", sans-serif' font-weight="bold">3.0</text>
<text x="256.5" y="217.85" font-size="12" textLength="17.1" lengthAdjust="spacingAndGlyphs" fill="#000" font-family='"Liberation Sans", sans-serif' font-weight="bold">3.5</text>
<text x="256.5" y="197" font-size="12" textLength="17.1" lengthAdjust="spacingAndGlyphs" fill="#000" font-family='"Liberation Sans", sans-serif' font-weight="bold">4.0</text>
<text x="274.7" y="335" font-size="12" textLength="6.4" lengthAdjust="spacingAndGlyphs" fill="#000" font-family='"Liberation Sans", sans-serif' font-weight="bold">0</text>
<text x="295.64" y="335" font-size="12" textLength="6.4" lengthAdjust="spacingAndGlyphs" fill="#000" font-family='"Liberation Sans", sans-serif' font-weight="bold">2</text>
<text x="316.58" y="335" font-size="12" textLength="6.4" lengthAdjust="spacingAndGlyphs" fill="#000" font-family='"Liberation Sans", sans-serif' font-weight="bold">4</text>
<text x="337.52" y="335" font-size="12" textLength="6.4" lengthAdjust="spacingAndGlyphs" fill="#000" font-family='"Liberation Sans", sans-serif' font-weight="bold">6</text>
<text x="358.46" y="335" font-size="12" textLength="6.4" lengthAdjust="spacingAndGlyphs" fill="#000" font-family='"Liberation Sans", sans-serif' font-weight="bold">8</text>
<text x="375.7" y="335" font-size="12" textLength="13.8" lengthAdjust="spacingAndGlyphs" fill="#000" font-family='"Liberation Sans", sans-serif' font-weight="bold">10</text>
<text x="396.64" y="335" font-size="12" textLength="13.8" lengthAdjust="spacingAndGlyphs" fill="#000" font-family='"Liberation Sans", sans-serif' font-weight="bold">12</text>
<text transform="translate(246.9 280.2) rotate(-90)" font-size="10.6" textLength="49.2" lengthAdjust="spacingAndGlyphs" font-weight="bold" fill="#000" font-family='"Liberation Sans", sans-serif'>R+<tspan font-family='"Liberation Serif", serif' font-size="12.5">&#945;</tspan> (&#197;)</text>
<text x="324.5" y="352.3" font-size="13.2" font-weight="bold" fill="#000" textLength="35.8" lengthAdjust="spacingAndGlyphs" font-family='"Liberation Serif", serif'>k (<tspan font-family='"Liberation Sans", sans-serif' font-size="14">&#197;</tspan><tspan font-size="8" dy="-6" font-family='"Liberation Sans", sans-serif'>-1</tspan><tspan dy="6">)</tspan></text>
<text x="281.8" y="203.6" font-size="11.6" textLength="67.2" lengthAdjust="spacingAndGlyphs" fill="#fff" font-family='"Liberation Sans", sans-serif' font-weight="bold">AZ0.3-SNCM</text>
<text x="384.2" y="203.8" font-size="11.8" textLength="27" lengthAdjust="spacingAndGlyphs" fill="#fff" font-family='"Liberation Sans", sans-serif' font-weight="bold">50 th</text>
<text x="341.5" y="262" font-size="12" textLength="25.1" lengthAdjust="spacingAndGlyphs" fill="#000" font-family='"Liberation Sans", sans-serif' font-weight="bold">Ni-M</text>
<text x="314.9" y="304" font-size="12" textLength="23.2" lengthAdjust="spacingAndGlyphs" fill="#000" font-family='"Liberation Sans", sans-serif' font-weight="bold">Ni-O</text>
<linearGradient id="cbe" x1="0" y1="0" x2="0" y2="1"><stop offset="0.000" stop-color="#ff0000"/><stop offset="0.045" stop-color="#ff0000"/><stop offset="0.090" stop-color="#ff3c00"/><stop offset="0.145" stop-color="#ff8200"/><stop offset="0.190" stop-color="#ffbe00"/><stop offset="0.235" stop-color="#fffa00"/><stop offset="0.280" stop-color="#dcff00"/><stop offset="0.320" stop-color="#96fa00"/><stop offset="0.380" stop-color="#3cf000"/><stop offset="0.480" stop-color="#00e400"/><stop offset="0.580" stop-color="#00eb78"/><stop offset="0.640" stop-color="#00eeb9"/><stop offset="0.720" stop-color="#00eef0"/><stop offset="0.783" stop-color="#00beff"/><stop offset="0.843" stop-color="#0078ff"/><stop offset="0.892" stop-color="#003cff"/><stop offset="0.952" stop-color="#0000f0"/><stop offset="0.979" stop-color="#0000d7"/><stop offset="0.980" stop-color="#000000"/><stop offset="1.000" stop-color="#000000"/></linearGradient><rect x="435.7" y="193.0" width="10.4" height="122.6" fill="url(#cbe)"/>
<text x="430.9" y="189.3" font-size="9.2" textLength="18.3" lengthAdjust="spacingAndGlyphs" fill="#000" font-family='"Liberation Sans", sans-serif' font-weight="bold">Max</text>
<text x="430" y="328.4" font-size="9.2" textLength="17.5" lengthAdjust="spacingAndGlyphs" fill="#000" font-family='"Liberation Sans", sans-serif' font-weight="bold">Min</text>
<text x="416.3" y="201.2" font-size="9" textLength="18.3" lengthAdjust="spacingAndGlyphs" fill="#000" font-family='"Liberation Sans", sans-serif' font-weight="bold">0.65</text>
<text x="416.3" y="228.2" font-size="9" textLength="18.3" lengthAdjust="spacingAndGlyphs" fill="#000" font-family='"Liberation Sans", sans-serif' font-weight="bold">0.48</text>
<text x="416.3" y="256.9" font-size="9" textLength="18.3" lengthAdjust="spacingAndGlyphs" fill="#000" font-family='"Liberation Sans", sans-serif' font-weight="bold">0.32</text>
<text x="416.3" y="287.8" font-size="9" textLength="18.3" lengthAdjust="spacingAndGlyphs" fill="#000" font-family='"Liberation Sans", sans-serif' font-weight="bold">0.16</text>
<text x="423.3" y="316.7" font-size="9" textLength="5.1" lengthAdjust="spacingAndGlyphs" fill="#000" font-family='"Liberation Sans", sans-serif' font-weight="bold">0</text>
<text x="239" y="191.6" font-size="20" textLength="10" lengthAdjust="spacingAndGlyphs" fill="#000" font-family='"Liberation Sans", sans-serif' font-weight="bold">e</text>
<clipPath id="hcf"><rect x="515.4" y="190.3" width="136.1" height="125.3"/></clipPath>
<g clip-path="url(#hcf)">
<g filter="url(#hblur)">
<rect x="513.4" y="188.3" width="140.1" height="129.3" fill="#0006f1"/>
<path d="M652.4 316.3 514.4 316.3 514.4 189.3 652.4 189.3 652.4 316.3ZM556.2 222.8 558.4 222.3 559.8 221.8 561.4 220.8 562.4 219.8 562.9 218.8 563.0 217.8 562.9 217.3 562.3 216.3 561.2 215.3 559.9 214.6 557.9 214.1 555.9 214.0 553.9 214.3 551.9 214.8 550.4 215.5 548.9 216.6 547.9 217.8 547.4 218.8 547.3 219.3 547.4 220.3 548.0 221.3 548.9 222.0 550.4 222.6 551.9 222.9 553.9 223.0 556.2 222.8Z" fill="#000af3" fill-rule="evenodd"/>
<path d="M652.4 316.3 514.4 316.3 514.4 189.3 652.4 189.3 652.4 316.3ZM554.7 223.3 556.9 223.0 558.9 222.5 560.7 221.8 562.2 220.8 563.1 219.8 563.4 219.3 563.7 218.3 563.7 217.3 563.5 216.8 562.9 215.8 561.7 214.8 559.9 214.0 557.9 213.6 555.9 213.5 553.9 213.7 551.7 214.3 549.9 215.1 548.3 216.3 547.1 217.8 546.6 219.3 546.7 220.3 546.9 220.8 547.4 221.6 548.4 222.3 549.4 222.8 550.4 223.1 552.4 223.3 554.7 223.3ZM600.3 214.8 599.9 214.3 599.8 214.8 599.9 215.0 600.3 214.8Z" fill="#000ff4" fill-rule="evenodd"/>
<path d="M652.4 316.3 514.4 316.3 514.4 189.3 652.4 189.3 652.4 316.3ZM601.4 219.8 602.3 219.3 602.9 218.8 603.8 217.8 604.4 216.8 605.1 214.8 605.2 213.8 605.2 212.3 605.0 210.8 604.6 209.8 604.1 208.8 603.4 207.8 602.8 207.3 601.9 206.7 600.9 206.3 599.9 206.3 598.9 206.5 597.9 207.0 596.9 207.8 595.9 209.2 595.3 210.3 594.9 211.8 594.7 213.3 594.7 214.8 595.1 216.3 595.5 217.3 596.2 218.3 597.2 219.3 598.4 219.9 599.4 220.1 600.4 220.1 601.4 219.8ZM555.8 225.8 559.9 225.1 561.9 224.5 563.9 223.8 566.0 222.8 567.6 221.8 568.8 220.8 569.8 219.8 570.4 218.8 571.0 217.3 571.1 216.3 571.0 214.8 570.7 213.8 569.9 212.4 569.0 211.3 567.9 210.4 566.4 209.4 564.9 208.6 563.4 208.1 561.4 207.6 559.4 207.4 557.4 207.4 555.4 207.5 553.4 207.9 551.4 208.4 549.4 209.0 547.4 210.0 546.0 210.8 544.4 211.9 542.9 213.2 541.8 214.3 540.7 215.8 539.8 217.3 539.5 218.3 539.3 219.3 539.3 220.3 539.5 221.3 540.0 222.3 540.9 223.3 541.5 223.8 542.9 224.6 544.4 225.2 545.9 225.7 547.4 225.9 549.4 226.1 551.4 226.1 555.8 225.8ZM647.0 278.8 649.2 278.3 650.0 277.8 649.9 277.3 648.6 276.8 646.9 276.5 644.4 276.4 641.9 276.4 636.7 276.8 634.9 277.3 634.2 277.8 634.4 278.3 634.9 278.5 636.1 278.8 637.9 279.0 642.4 279.1 647.0 278.8Z" fill="#0018f6" fill-rule="evenodd"/>
<path d="M652.4 316.3 514.4 316.3 514.4 189.3 554.6 189.3 555.0 191.3 554.9 193.3 554.4 194.8 553.6 196.3 552.7 197.3 551.1 198.8 541.9 206.1 539.4 208.2 537.2 210.3 534.9 212.8 533.4 214.8 532.2 216.8 531.5 218.8 531.3 219.8 531.3 220.8 531.8 222.3 532.9 223.8 534.1 224.8 536.0 225.8 538.9 226.8 542.4 227.5 546.4 228.0 549.4 228.0 553.4 227.7 557.9 227.2 561.9 226.4 565.6 225.3 568.3 224.3 570.5 223.3 573.1 221.8 574.5 220.8 576.2 219.3 577.6 217.8 578.7 216.3 579.5 214.8 580.3 212.8 581.7 207.3 582.4 205.5 582.9 204.7 583.7 203.8 584.4 203.3 585.4 202.9 586.4 202.8 587.4 203.1 587.9 203.5 588.4 204.1 589.0 205.8 589.7 210.8 590.3 213.3 591.2 215.8 592.8 218.3 593.6 219.3 594.7 220.3 596.4 221.4 597.4 221.8 598.4 222.0 599.4 222.1 600.4 222.1 601.4 221.9 602.4 221.5 604.2 220.3 605.3 219.3 606.1 218.3 607.3 216.3 608.5 213.8 609.2 211.3 609.6 208.8 609.9 204.3 610.3 202.3 611.1 200.8 611.6 200.3 612.4 199.7 613.4 199.3 614.9 198.9 619.9 198.1 622.4 197.6 630.9 195.1 635.4 194.2 639.4 193.6 642.9 193.5 646.4 193.9 649.4 194.7 652.4 196.0 652.4 276.4 649.9 276.0 647.4 275.7 643.9 275.7 639.9 275.8 636.4 276.1 633.9 276.6 631.7 277.3 631.1 277.8 631.1 278.3 631.9 278.8 632.9 279.1 635.4 279.5 638.4 279.8 642.4 279.8 646.4 279.7 650.0 279.3 652.4 278.8 652.4 316.3Z" fill="#0022f8" fill-rule="evenodd"/>
<path d="M515.4 215.8 514.4 215.9 514.4 189.3 535.9 189.3 536.3 191.3 536.4 193.3 536.3 195.3 536.0 196.8 535.5 198.3 534.6 200.3 533.7 201.8 532.2 203.8 530.1 206.3 527.9 208.6 525.4 210.8 523.4 212.3 521.4 213.6 519.4 214.6 517.4 215.4 515.4 215.8ZM652.4 316.3 514.4 316.3 514.4 225.7 517.9 225.9 521.4 226.4 532.4 228.5 535.9 229.0 541.4 229.5 546.9 229.6 551.2 229.3 557.4 228.5 561.5 227.8 565.8 226.8 569.2 225.8 572.0 224.8 575.7 223.3 582.9 220.1 584.4 219.6 585.9 219.2 587.4 219.2 588.9 219.6 590.4 220.2 594.3 222.3 596.9 223.3 598.9 223.6 600.9 223.5 602.9 222.9 604.9 221.8 606.8 220.3 611.4 215.8 612.9 214.8 614.4 214.0 615.9 213.6 617.4 213.3 625.4 212.3 629.2 211.3 630.9 210.7 632.8 209.8 638.4 206.3 639.4 205.8 640.9 205.3 642.9 205.0 644.4 205.1 645.9 205.4 647.4 206.2 648.9 207.4 649.7 208.3 650.3 209.3 651.1 211.3 652.4 215.6 652.4 275.5 649.4 275.2 645.4 275.1 640.9 275.2 636.9 275.6 633.4 276.1 630.6 276.8 629.2 277.3 628.5 277.8 628.4 278.3 629.0 278.8 630.9 279.4 633.4 279.9 637.4 280.2 641.4 280.4 645.4 280.3 648.9 280.1 652.4 279.7 652.4 316.3Z" fill="#002bfb" fill-rule="evenodd"/>
<path d="M515.9 195.9 514.9 196.1 514.4 196.0 514.4 192.4 514.9 192.3 515.9 192.5 516.4 192.8 516.9 193.5 517.0 194.3 516.9 194.8 516.4 195.6 515.9 195.9ZM652.4 316.3 514.4 316.3 514.4 230.8 524.4 230.7 533.9 231.0 538.9 231.1 545.9 230.9 550.4 230.5 559.2 229.3 564.5 228.3 570.6 226.8 582.9 223.1 586.4 222.5 588.4 222.5 589.9 222.7 595.4 224.3 596.9 224.6 598.9 224.8 600.4 224.7 602.5 224.3 604.9 223.3 606.7 222.3 610.9 219.5 612.9 218.5 615.4 217.8 618.9 217.5 623.9 217.3 629.4 217.4 632.4 217.6 639.9 218.6 641.4 219.0 643.4 219.7 650.1 222.8 652.4 223.8 652.4 274.8 648.4 274.6 644.4 274.6 639.9 274.9 635.5 275.3 632.5 275.8 628.2 276.8 626.9 277.3 626.1 277.8 625.9 278.3 626.4 278.8 626.9 279.0 629.4 279.8 632.6 280.3 635.4 280.6 639.4 280.8 644.4 280.9 648.4 280.7 652.4 280.4 652.4 310.7 651.1 311.3 650.7 311.8 650.8 312.3 651.4 312.8 652.4 313.1 652.4 316.3Z" fill="#0030fc" fill-rule="evenodd"/>
<path d="M652.4 316.3 514.4 316.3 514.4 231.0 524.9 230.9 533.9 231.2 538.4 231.2 545.9 231.0 549.9 230.7 558.9 229.4 564.9 228.3 570.9 226.8 582.4 223.4 584.4 223.0 586.4 222.7 588.4 222.7 589.9 222.9 595.1 224.3 597.4 224.8 598.9 224.9 600.5 224.8 602.8 224.3 604.9 223.4 606.9 222.3 610.4 220.0 612.9 218.8 615.4 218.1 618.9 217.7 624.4 217.6 629.4 217.7 632.9 218.0 639.4 219.0 641.4 219.5 643.4 220.2 650.5 223.3 652.4 224.0 652.4 274.7 648.4 274.6 644.4 274.6 639.9 274.8 635.4 275.3 632.3 275.8 628.1 276.8 626.7 277.3 625.9 277.8 625.7 278.3 626.2 278.8 626.9 279.1 629.3 279.8 632.3 280.3 635.4 280.6 639.4 280.8 644.4 280.9 648.4 280.8 652.4 280.5 652.4 310.7 651.8 310.8 650.9 311.3 650.5 311.8 650.6 312.3 651.2 312.8 652.4 313.2 652.4 316.3Z" fill="#0034fd" fill-rule="evenodd"/>
<path d="M652.4 316.3 514.4 316.3 514.4 233.4 526.4 232.9 535.4 232.7 545.4 232.1 548.9 231.7 558.7 230.3 564.4 229.3 569.1 228.3 580.9 225.4 584.4 224.7 586.4 224.5 588.4 224.4 590.4 224.5 597.4 225.7 599.4 225.8 600.9 225.7 602.7 225.3 604.4 224.8 606.6 223.8 610.4 221.9 612.4 221.1 614.9 220.5 618.4 220.1 621.9 220.0 626.4 220.1 628.9 220.3 631.4 220.7 641.9 223.1 652.4 226.5 652.4 274.2 648.4 274.1 644.4 274.2 639.4 274.5 635.4 274.9 630.3 275.8 626.0 276.8 624.7 277.3 623.9 277.8 623.7 278.3 624.1 278.8 624.9 279.2 626.7 279.8 629.9 280.4 633.9 280.9 637.9 281.2 643.4 281.3 647.9 281.3 652.4 281.1 652.4 309.9 650.8 310.3 649.7 310.8 649.2 311.3 648.9 311.8 648.9 312.3 649.1 312.8 649.9 313.4 651.0 313.8 652.4 314.0 652.4 316.3ZM571.9 279.3 572.3 278.8 571.0 278.3 569.9 278.2 566.9 278.3 565.5 278.8 565.9 279.3 567.9 279.6 569.9 279.6 571.9 279.3Z" fill="#003eff" fill-rule="evenodd"/>
<path d="M652.4 316.3 514.4 316.3 514.4 235.5 533.4 234.2 547.5 232.8 563.5 230.3 579.9 226.9 585.9 226.0 587.9 225.8 589.9 225.8 597.4 226.6 599.4 226.7 600.9 226.6 602.4 226.3 604.4 225.8 610.4 223.5 612.4 222.9 614.9 222.4 617.9 222.1 621.4 222.0 624.9 222.1 627.9 222.3 630.4 222.6 641.4 225.1 652.4 228.3 652.4 273.6 648.4 273.6 643.4 273.8 637.6 274.3 633.8 274.8 628.1 275.8 623.9 276.8 622.7 277.3 622.0 277.8 621.8 278.3 622.0 278.8 622.8 279.3 624.2 279.8 627.4 280.5 632.4 281.2 636.9 281.6 642.4 281.8 647.4 281.8 652.4 281.7 652.4 309.3 650.4 309.7 648.9 310.4 648.2 310.8 647.8 311.3 647.5 311.8 647.4 312.3 647.6 312.8 648.0 313.3 648.9 313.9 650.4 314.5 652.4 314.8 652.4 316.3ZM572.2 279.8 573.7 279.3 574.0 278.8 573.2 278.3 572.4 278.1 570.4 277.8 568.9 277.8 567.4 277.8 565.4 278.1 564.7 278.3 564.0 278.8 564.2 279.3 565.6 279.8 566.4 279.9 569.4 280.1 572.2 279.8Z" fill="#0044ff" fill-rule="evenodd"/>
<path d="M652.4 316.3 514.4 316.3 514.4 235.8 533.9 234.4 547.9 232.9 564.2 230.3 579.9 227.1 585.9 226.2 589.9 226.0 597.4 226.8 599.4 226.8 600.9 226.7 602.9 226.3 604.8 225.8 609.9 223.9 612.4 223.1 614.9 222.6 617.9 222.4 621.4 222.3 625.4 222.4 628.4 222.6 630.9 223.0 641.9 225.5 652.4 228.5 652.4 273.6 647.9 273.6 643.0 273.8 637.4 274.3 633.4 274.8 627.8 275.8 623.6 276.8 622.4 277.3 621.7 277.8 621.5 278.3 621.7 278.8 622.4 279.3 623.8 279.8 626.9 280.5 631.9 281.2 636.4 281.6 641.9 281.8 647.4 281.9 652.4 281.7 652.4 309.2 650.4 309.6 648.8 310.3 648.0 310.8 647.5 311.3 647.3 311.8 647.2 312.3 647.4 312.8 647.7 313.3 648.9 314.1 650.4 314.6 652.4 314.9 652.4 316.3ZM572.6 279.8 574.0 279.3 574.2 278.8 573.5 278.3 572.4 278.0 571.0 277.8 568.9 277.7 566.9 277.8 565.4 278.1 564.5 278.3 563.7 278.8 563.9 279.3 565.2 279.8 566.4 280.0 569.4 280.1 572.6 279.8Z" fill="#004aff" fill-rule="evenodd"/>
<path d="M652.4 316.3 514.4 316.3 514.4 237.3 519.4 236.9 532.9 235.5 546.4 233.8 562.0 231.3 579.4 228.1 585.4 227.2 589.9 226.9 597.4 227.5 599.4 227.5 601.4 227.3 604.4 226.7 611.9 224.4 614.4 224.0 617.4 223.7 620.9 223.6 624.4 223.6 627.9 223.8 630.4 224.2 641.4 226.7 652.4 229.7 652.4 273.1 647.9 273.2 642.9 273.5 637.4 274.0 632.9 274.6 626.0 275.8 623.8 276.3 622.1 276.8 620.9 277.3 620.2 277.8 620.0 278.3 620.2 278.8 620.8 279.3 622.4 279.9 625.9 280.8 629.9 281.3 634.9 281.8 640.4 282.1 646.4 282.3 652.4 282.2 652.4 308.7 649.9 309.3 647.9 310.2 647.0 310.8 646.6 311.3 646.3 311.8 646.2 312.3 646.3 312.8 646.5 313.3 647.0 313.8 647.7 314.3 648.7 314.8 649.9 315.2 652.4 315.6 652.4 316.3ZM570.9 280.3 574.0 279.8 575.1 279.3 575.3 278.8 574.7 278.3 572.9 277.8 570.9 277.6 568.9 277.5 566.9 277.6 565.0 277.8 563.3 278.3 562.7 278.8 562.9 279.3 563.9 279.8 564.9 280.0 567.4 280.3 570.9 280.3Z" fill="#0054ff" fill-rule="evenodd"/>
<path d="M651.9 316.3 514.4 316.3 514.4 239.1 519.4 238.6 533.9 236.6 547.4 234.4 576.4 229.5 582.4 228.5 586.4 228.0 589.4 227.9 597.4 228.2 600.9 228.1 604.4 227.5 611.9 225.6 614.4 225.2 616.9 225.0 620.4 224.9 624.4 224.9 627.9 225.1 630.4 225.4 641.9 228.0 652.4 230.9 652.4 272.6 645.9 272.9 637.9 273.6 633.9 274.1 626.8 275.3 623.4 275.9 620.3 276.8 619.2 277.3 618.6 277.8 618.3 278.3 618.5 278.8 619.0 279.3 620.9 280.1 623.5 280.8 627.9 281.5 633.4 282.1 638.4 282.5 645.4 282.7 652.4 282.8 652.4 308.3 649.8 308.8 647.3 309.8 645.9 310.8 645.4 311.3 645.0 312.3 645.2 313.3 645.5 313.8 646.7 314.8 648.9 315.7 650.4 316.1 652.1 316.3 651.9 316.3ZM573.3 280.3 575.4 279.8 576.3 279.3 576.4 278.8 575.9 278.3 574.4 277.8 571.4 277.3 568.9 277.2 566.4 277.3 563.6 277.8 562.2 278.3 561.7 278.8 561.8 279.3 562.6 279.8 564.9 280.3 568.9 280.6 573.3 280.3Z" fill="#005bff" fill-rule="evenodd"/>
<path d="M650.4 316.3 514.4 316.3 514.4 239.6 519.4 239.0 533.9 236.8 581.4 228.9 585.4 228.4 588.9 228.1 591.9 228.1 597.9 228.4 600.9 228.2 603.9 227.8 611.4 225.9 613.9 225.5 616.9 225.3 623.9 225.2 627.4 225.3 629.9 225.6 641.4 228.2 652.4 231.2 652.4 272.4 645.9 272.8 637.9 273.5 626.2 275.3 622.9 276.0 619.9 276.8 618.8 277.3 618.2 277.8 617.9 278.3 618.0 278.8 618.6 279.3 620.4 280.1 623.0 280.8 626.9 281.5 632.4 282.1 637.4 282.5 644.9 282.9 652.4 283.0 652.4 308.1 649.4 308.8 647.0 309.8 645.6 310.8 645.2 311.3 644.8 312.3 644.9 313.3 645.2 313.8 646.3 314.8 647.9 315.6 650.5 316.3 650.4 316.3ZM573.7 280.3 575.7 279.8 576.5 279.3 576.7 278.8 576.2 278.3 574.4 277.7 571.8 277.3 568.9 277.2 566.2 277.3 563.4 277.8 562.0 278.3 561.5 278.8 561.6 279.3 562.4 279.8 564.2 280.3 565.4 280.5 569.4 280.7 573.7 280.3Z" fill="#0061ff" fill-rule="evenodd"/>
<path d="M647.4 316.3 514.4 316.3 514.4 241.0 518.4 240.4 532.9 237.8 555.4 233.6 579.9 229.7 584.9 229.0 588.9 228.7 591.9 228.7 597.9 228.9 600.9 228.7 603.9 228.3 611.4 226.7 616.4 226.1 620.4 226.0 624.4 226.0 627.9 226.2 630.4 226.5 641.9 229.1 652.4 232.0 652.4 272.0 645.9 272.5 637.4 273.3 624.8 275.3 621.4 276.0 618.7 276.8 617.7 277.3 617.0 277.8 616.7 278.3 616.8 278.8 617.3 279.3 618.2 279.8 619.4 280.3 622.4 281.0 625.9 281.7 631.4 282.3 636.9 282.8 644.4 283.2 652.4 283.4 652.4 307.8 649.4 308.4 646.9 309.4 645.9 309.9 644.8 310.8 644.4 311.3 643.9 312.3 644.0 313.3 644.5 314.3 645.0 314.8 645.9 315.5 647.8 316.3 647.4 316.3ZM570.6 280.8 573.4 280.5 575.4 280.2 576.5 279.8 577.3 279.3 577.5 278.8 577.0 278.3 576.4 278.0 574.4 277.5 571.9 277.2 568.9 277.0 565.9 277.2 563.4 277.6 562.4 277.8 561.2 278.3 560.8 278.8 560.9 279.3 561.6 279.8 563.1 280.3 566.9 280.8 570.6 280.8Z" fill="#006bff" fill-rule="evenodd"/>
<path d="M644.9 316.3 514.4 316.3 514.4 242.9 517.9 242.3 526.9 240.1 540.4 237.2 553.4 234.6 574.9 231.1 582.4 230.0 587.9 229.5 591.4 229.4 597.9 229.5 601.1 229.3 604.4 228.8 610.9 227.6 615.4 227.1 619.4 226.9 623.9 226.9 627.9 227.1 630.4 227.4 641.9 230.0 652.4 233.0 652.4 271.4 645.9 272.0 636.9 273.1 622.9 275.3 619.9 276.0 617.2 276.8 616.2 277.3 615.5 277.8 615.2 278.3 615.3 278.8 615.7 279.3 616.5 279.8 617.7 280.3 620.9 281.2 624.4 281.9 629.9 282.6 635.4 283.1 652.4 284.1 652.4 307.3 649.4 308.0 646.9 308.8 645.0 309.8 644.3 310.3 643.3 311.3 642.8 312.3 642.7 313.3 642.8 313.8 643.4 314.9 644.3 315.8 645.0 316.3 644.9 316.3ZM573.3 280.8 576.2 280.3 577.6 279.8 578.4 279.3 578.5 278.8 578.1 278.3 577.0 277.8 574.9 277.3 571.9 276.9 568.9 276.8 565.9 277.0 563.3 277.3 561.4 277.8 560.3 278.3 559.9 278.8 560.0 279.3 560.6 279.8 561.9 280.3 564.4 280.8 568.9 281.0 573.3 280.8Z" fill="#0072ff" fill-rule="evenodd"/>
<path d="M643.9 316.3 514.4 316.3 514.4 243.6 517.9 242.9 527.4 240.4 540.4 237.5 553.9 234.7 557.4 234.1 575.9 231.1 583.4 230.1 589.9 229.6 597.9 229.6 600.9 229.5 603.9 229.1 610.9 227.9 614.9 227.4 618.9 227.2 623.4 227.2 627.4 227.3 629.9 227.6 632.4 228.1 641.4 230.1 652.4 233.3 652.4 271.2 636.9 273.0 622.3 275.3 619.4 275.9 616.7 276.8 615.7 277.3 615.0 277.8 614.7 278.3 614.8 278.8 615.2 279.3 616.0 279.8 617.1 280.3 620.4 281.3 623.9 281.9 628.9 282.6 634.9 283.2 652.4 284.3 652.4 307.2 649.4 307.8 646.9 308.6 644.6 309.8 643.4 310.8 642.7 311.8 642.4 312.3 642.3 313.3 642.4 314.0 642.7 314.8 643.4 315.6 644.2 316.3 643.9 316.3ZM573.9 280.8 576.6 280.3 578.0 279.8 578.7 279.3 578.8 278.8 578.4 278.3 577.3 277.8 575.4 277.3 571.9 276.9 568.9 276.8 565.9 276.9 562.9 277.3 561.1 277.8 560.1 278.3 559.6 278.8 559.7 279.3 560.3 279.8 561.5 280.3 564.0 280.8 566.4 281.0 568.9 281.1 573.9 280.8Z" fill="#0078ff" fill-rule="evenodd"/>
<path d="M642.4 316.3 514.4 316.3 514.4 245.1 517.4 244.3 526.9 241.4 539.4 238.2 551.9 235.5 556.4 234.6 575.4 231.6 582.9 230.6 589.9 230.0 597.9 230.0 600.9 229.9 603.9 229.5 610.4 228.4 613.9 228.0 618.4 227.8 622.9 227.7 627.4 227.9 629.9 228.1 632.4 228.6 641.4 230.7 652.4 233.8 652.4 270.8 636.9 272.8 621.2 275.3 618.4 275.9 615.7 276.8 614.7 277.3 614.1 277.8 613.8 278.3 613.8 278.8 614.2 279.3 614.9 279.8 616.0 280.3 619.2 281.3 622.9 282.0 626.9 282.6 633.9 283.4 652.4 284.8 652.4 306.9 649.4 307.5 646.9 308.3 644.7 309.3 643.9 309.8 642.7 310.8 641.9 311.8 641.7 312.3 641.4 313.3 641.4 313.9 641.6 314.8 641.9 315.4 642.5 316.3 642.4 316.3ZM575.0 280.8 577.4 280.3 578.7 279.8 579.4 279.3 579.5 278.8 579.1 278.3 578.0 277.8 576.2 277.3 572.7 276.8 568.9 276.6 565.4 276.8 562.1 277.3 560.4 277.8 559.5 278.3 559.1 278.8 559.1 279.3 559.9 279.9 561.4 280.4 563.9 280.9 566.4 281.2 569.4 281.2 572.4 281.1 575.0 280.8Z" fill="#0081ff" fill-rule="evenodd"/>
<path d="M639.4 316.3 514.4 316.3 514.4 247.5 516.9 246.6 523.7 243.8 526.9 242.7 538.4 239.3 542.9 238.1 552.4 235.9 556.9 235.0 575.4 232.2 585.4 231.0 590.4 230.6 597.9 230.5 600.9 230.4 610.9 229.0 615.4 228.6 621.9 228.5 627.4 228.6 631.4 229.1 640.4 231.2 644.9 232.4 652.4 234.7 652.4 270.1 636.4 272.5 619.5 275.3 616.9 275.9 614.3 276.8 613.3 277.3 612.6 277.8 612.3 278.3 612.3 278.8 612.7 279.3 613.3 279.8 614.3 280.3 617.3 281.3 621.9 282.3 630.9 283.5 646.4 285.0 652.4 285.7 652.4 306.4 649.4 307.0 646.4 308.0 643.9 309.2 642.2 310.3 641.2 311.3 640.2 312.8 639.8 314.3 639.8 316.3 639.4 316.3ZM572.2 281.3 575.9 280.9 578.5 280.3 579.7 279.8 580.3 279.3 580.4 278.8 580.0 278.3 579.1 277.8 576.9 277.2 573.4 276.7 568.9 276.5 564.9 276.7 561.4 277.2 559.6 277.8 558.7 278.3 558.3 278.8 558.3 279.3 558.8 279.8 559.9 280.3 561.9 280.8 566.4 281.3 569.4 281.4 572.2 281.3Z" fill="#0089ff" fill-rule="evenodd"/>
<path d="M638.4 316.3 514.4 316.3 514.4 248.6 516.9 247.6 522.8 244.8 526.9 243.2 538.4 239.6 542.9 238.4 552.9 236.0 557.9 235.1 574.9 232.5 585.4 231.2 590.4 230.9 597.9 230.8 600.9 230.6 610.4 229.4 615.4 228.9 621.9 228.7 627.4 228.9 629.4 229.1 631.9 229.5 640.9 231.6 644.9 232.7 652.4 235.0 652.4 269.8 622.4 274.6 618.9 275.3 616.4 275.9 613.7 276.8 612.7 277.3 612.1 277.8 611.7 278.3 611.7 278.8 612.0 279.3 612.7 279.8 613.7 280.3 616.6 281.3 620.9 282.3 628.9 283.5 646.5 285.3 652.4 286.1 652.4 306.1 648.9 307.0 646.4 307.8 644.1 308.8 642.4 309.8 641.2 310.8 639.9 312.3 639.2 313.8 638.6 316.3 638.4 316.3ZM573.2 281.3 576.9 280.8 578.9 280.3 580.1 279.8 580.7 279.3 580.8 278.8 580.4 278.3 579.5 277.8 577.4 277.2 573.4 276.6 568.9 276.4 564.9 276.6 561.4 277.1 559.2 277.8 558.3 278.3 558.0 278.8 558.0 279.3 558.5 279.8 558.9 280.0 560.4 280.6 562.4 281.0 564.7 281.3 567.4 281.4 570.4 281.5 573.2 281.3Z" fill="#008eff" fill-rule="evenodd"/>
<path d="M636.4 316.3 514.4 316.3 514.4 250.1 516.4 249.2 522.7 245.8 526.4 244.1 529.4 243.0 536.9 240.5 541.9 239.0 551.9 236.6 556.4 235.6 572.9 233.0 583.4 231.7 589.9 231.2 600.9 230.9 610.4 229.7 614.9 229.3 621.4 229.1 627.4 229.3 629.4 229.4 631.9 229.9 640.9 232.0 644.9 233.1 652.4 235.5 652.4 269.4 644.4 270.9 629.4 273.4 622.4 274.5 618.0 275.3 615.4 275.9 612.9 276.8 611.9 277.3 611.2 277.8 610.9 278.3 610.9 278.8 611.2 279.3 611.8 279.8 612.7 280.3 615.5 281.3 619.9 282.4 626.9 283.5 646.9 285.8 652.4 286.8 652.4 305.8 649.4 306.5 646.4 307.5 644.4 308.3 642.4 309.4 641.1 310.3 639.6 311.8 638.5 313.3 637.3 315.3 636.5 316.3 636.4 316.3ZM574.4 281.3 577.6 280.8 579.5 280.3 580.7 279.8 581.3 279.3 581.4 278.8 581.0 278.3 580.1 277.8 577.4 277.1 573.4 276.5 568.9 276.3 564.9 276.5 561.4 277.0 560.2 277.3 558.7 277.8 557.9 278.3 557.5 278.8 557.5 279.3 558.0 279.8 559.0 280.3 560.6 280.8 562.9 281.2 565.4 281.5 568.4 281.6 571.4 281.5 574.4 281.3Z" fill="#0096ff" fill-rule="evenodd"/>
<path d="M631.4 316.3 514.4 316.3 514.4 252.9 516.4 251.7 522.1 247.8 525.9 245.7 529.9 243.9 540.4 240.1 550.4 237.4 555.9 236.2 565.9 234.5 578.9 232.7 588.9 231.8 601.4 231.3 609.4 230.4 613.9 230.0 621.4 229.7 627.4 229.9 629.4 230.0 631.9 230.5 640.9 232.6 645.4 233.9 652.4 236.3 652.4 268.5 647.5 269.8 642.7 270.8 629.9 273.1 620.9 274.4 616.5 275.3 614.4 275.8 611.5 276.8 610.5 277.3 609.8 277.8 609.5 278.3 609.4 278.8 609.7 279.3 610.3 279.8 611.1 280.3 613.8 281.3 617.6 282.3 624.9 283.6 639.4 285.5 645.1 286.3 649.4 287.2 652.4 288.1 652.4 305.2 646.9 306.8 644.9 307.5 642.9 308.5 641.4 309.3 640.0 310.3 638.8 311.3 635.9 314.0 634.9 314.8 632.9 315.9 631.7 316.3 631.4 316.3ZM576.0 281.3 578.8 280.8 580.6 280.3 581.7 279.8 582.3 279.3 582.4 278.8 582.0 278.3 581.1 277.8 579.6 277.3 577.4 276.8 573.2 276.3 568.9 276.1 564.9 276.3 560.9 276.9 559.3 277.3 557.9 277.8 557.1 278.3 556.7 278.8 556.8 279.3 557.2 279.8 558.1 280.3 559.6 280.8 562.4 281.3 565.4 281.6 568.9 281.7 572.4 281.6 576.0 281.3Z" fill="#009eff" fill-rule="evenodd"/>
<path d="M628.4 316.3 514.4 316.3 514.4 254.3 516.4 253.0 521.9 248.8 525.9 246.4 529.9 244.5 539.9 240.6 543.9 239.4 551.4 237.4 555.4 236.5 564.4 235.0 576.9 233.2 588.4 232.0 601.4 231.5 609.9 230.6 613.9 230.3 620.9 230.0 626.9 230.1 628.9 230.3 631.4 230.7 640.9 232.9 645.4 234.2 652.4 236.6 652.4 268.1 647.4 269.5 641.7 270.8 630.4 272.9 620.9 274.3 615.7 275.3 613.4 275.9 610.8 276.8 609.8 277.3 609.1 277.8 608.7 278.3 608.7 278.8 608.9 279.3 609.5 279.8 610.4 280.3 613.0 281.3 616.6 282.3 623.9 283.7 639.7 285.8 643.9 286.5 648.9 287.6 652.4 288.9 652.4 304.9 646.9 306.5 643.4 307.9 641.7 308.8 640.1 309.8 635.4 313.5 633.9 314.4 631.4 315.5 628.4 316.3ZM570.6 281.8 575.4 281.5 579.4 280.8 581.1 280.3 582.2 279.8 582.8 279.3 582.9 278.8 582.5 278.3 581.6 277.8 580.2 277.3 578.0 276.8 573.9 276.3 568.9 276.1 564.4 276.3 560.8 276.8 558.8 277.3 557.5 277.8 556.7 278.3 556.4 278.8 556.4 279.3 556.8 279.8 557.4 280.1 558.9 280.7 560.4 281.1 564.9 281.7 570.6 281.8Z" fill="#00a4ff" fill-rule="evenodd"/>
<path d="M624.9 316.3 514.4 316.3 514.4 255.9 521.1 250.3 523.1 248.8 525.4 247.3 529.4 245.2 538.4 241.5 543.4 239.9 554.4 237.0 561.9 235.6 572.9 234.0 579.4 233.1 586.4 232.4 591.4 232.1 600.8 231.8 612.9 230.6 619.9 230.3 626.4 230.4 628.9 230.5 631.4 230.9 640.4 233.1 645.4 234.5 652.4 237.0 652.4 267.6 647.1 269.3 641.9 270.5 630.4 272.7 620.1 274.3 615.0 275.3 612.9 275.9 610.2 276.8 608.4 277.8 608.0 278.3 607.9 278.8 608.1 279.3 608.7 279.8 609.6 280.3 612.1 281.3 615.4 282.2 619.4 283.1 623.4 283.9 638.4 285.9 643.4 286.8 648.4 288.1 650.5 288.8 652.4 289.7 652.4 304.6 646.4 306.4 642.4 308.1 639.5 309.8 634.9 313.0 632.9 314.1 629.9 315.2 625.9 316.2 624.9 316.3ZM572.6 281.8 576.9 281.4 580.0 280.8 581.7 280.3 582.8 279.8 583.3 279.3 583.4 278.8 583.0 278.3 582.2 277.8 580.7 277.3 578.6 276.8 573.9 276.2 568.9 276.0 564.4 276.2 560.3 276.8 558.4 277.3 557.1 277.8 556.4 278.3 556.0 278.8 556.0 279.3 556.4 279.8 557.3 280.3 558.7 280.8 560.9 281.3 563.4 281.6 566.4 281.8 572.6 281.8Z" fill="#00acff" fill-rule="evenodd"/>
<path d="M619.9 316.3 514.4 316.3 514.4 259.8 519.1 254.3 522.1 251.3 525.4 248.7 527.4 247.4 529.5 246.3 537.9 242.4 542.9 240.6 553.9 237.5 562.4 235.9 575.9 234.0 586.9 232.9 591.4 232.6 600.4 232.2 609.4 231.4 613.9 231.0 619.9 230.8 624.9 230.9 628.4 231.0 630.9 231.4 639.9 233.5 644.9 235.0 652.4 237.8 652.4 266.5 649.4 267.8 646.7 268.8 641.1 270.3 630.4 272.5 618.9 274.2 613.6 275.3 611.7 275.8 608.8 276.8 606.9 277.8 606.5 278.3 606.3 278.8 606.5 279.3 607.1 279.8 609.1 280.8 612.1 281.8 616.4 282.9 621.4 284.0 636.5 286.3 642.4 287.4 645.5 288.3 648.3 289.3 650.3 290.3 652.4 291.6 652.4 303.7 645.9 306.1 642.4 307.5 639.9 308.8 634.4 312.0 631.9 313.1 628.9 314.1 619.9 316.3ZM574.9 281.8 578.8 281.3 582.4 280.4 583.9 279.8 584.4 279.3 584.5 278.8 584.1 278.3 583.2 277.8 581.8 277.3 579.7 276.8 574.9 276.1 569.4 275.8 563.9 276.1 559.4 276.8 557.6 277.3 556.3 277.8 555.6 278.3 555.2 278.8 555.2 279.3 555.6 279.8 556.4 280.3 557.9 280.8 560.9 281.5 563.9 281.9 567.4 282.0 571.4 282.0 574.9 281.8Z" fill="#00b4ff" fill-rule="evenodd"/>
<path d="M617.4 316.3 514.4 316.3 514.4 275.3 515.1 274.3 515.4 272.8 515.2 271.3 514.4 268.7 514.4 263.7 515.0 262.3 515.8 260.8 517.3 258.3 518.7 256.3 521.6 252.8 523.2 251.3 525.0 249.8 527.2 248.3 529.4 247.0 537.4 243.1 542.4 241.1 552.9 238.0 555.9 237.3 560.9 236.4 574.9 234.4 586.9 233.1 591.4 232.8 600.9 232.4 613.4 231.4 619.4 231.1 624.4 231.1 627.9 231.3 630.4 231.6 639.4 233.7 645.4 235.5 652.4 238.2 652.4 265.9 649.5 267.3 647.0 268.3 644.0 269.3 640.9 270.1 629.9 272.4 617.4 274.3 610.9 275.8 607.9 276.8 606.9 277.3 606.0 277.8 605.5 278.3 605.4 278.8 605.6 279.3 606.1 279.8 607.0 280.3 609.5 281.3 612.8 282.3 617.4 283.4 622.4 284.4 634.2 286.3 639.6 287.3 644.9 288.7 648.6 290.3 650.4 291.3 652.4 292.8 652.4 303.1 651.0 303.8 642.4 307.2 640.0 308.3 634.9 311.1 631.9 312.5 628.4 313.6 617.4 316.3ZM575.9 281.8 579.5 281.3 581.8 280.8 583.5 280.3 584.5 279.8 585.1 279.3 585.2 278.8 584.8 278.3 583.9 277.8 582.5 277.3 580.4 276.8 575.4 276.1 569.4 275.8 563.9 276.0 559.4 276.7 557.1 277.3 555.9 277.8 555.1 278.3 554.7 278.8 554.7 279.3 555.1 279.8 555.9 280.3 558.4 281.1 561.4 281.7 564.9 282.0 568.4 282.1 572.4 282.1 575.9 281.8Z" fill="#00c1fe" fill-rule="evenodd"/>
<path d="M609.9 316.3 515.8 316.3 514.4 316.1 514.4 280.4 516.9 279.4 518.7 278.3 520.3 276.8 521.2 275.3 521.3 274.3 521.3 273.3 521.0 271.8 519.7 267.3 519.4 265.3 519.4 263.8 519.8 261.8 520.5 259.8 521.4 257.8 522.6 255.8 524.2 253.8 525.6 252.3 527.3 250.8 529.4 249.3 537.0 244.8 539.4 243.6 541.9 242.5 550.4 239.7 555.9 238.2 564.9 236.6 575.9 235.1 587.9 233.9 600.4 233.3 611.9 232.4 620.9 232.1 627.4 232.2 629.9 232.5 632.4 233.0 641.4 235.3 646.4 237.1 652.4 239.7 652.4 263.6 648.8 265.8 646.4 267.1 643.6 268.3 640.5 269.3 630.2 271.8 617.3 273.8 610.0 275.3 606.4 276.3 603.5 277.3 602.5 277.8 601.9 278.3 601.6 278.8 601.7 279.3 602.3 279.8 603.2 280.3 605.9 281.3 609.2 282.3 619.9 284.9 632.0 287.3 636.5 288.3 640.0 289.3 643.4 290.6 645.8 291.8 647.3 292.8 648.9 294.1 650.0 295.3 650.9 296.8 651.3 298.3 651.2 299.8 650.8 300.8 650.0 301.8 649.4 302.3 646.9 303.8 635.9 308.8 632.9 310.0 627.9 311.6 612.9 315.6 610.3 316.3 609.9 316.3ZM574.1 282.3 579.2 281.8 584.5 280.8 586.1 280.3 587.3 279.8 587.9 279.3 588.0 278.8 587.5 278.3 586.5 277.8 583.9 277.0 580.9 276.4 575.4 275.7 569.4 275.5 563.9 275.7 558.9 276.4 556.9 276.8 554.9 277.5 554.1 277.8 553.3 278.3 552.9 278.8 552.9 279.3 553.3 279.8 554.1 280.3 555.3 280.8 556.9 281.3 559.5 281.8 562.9 282.2 566.4 282.4 570.4 282.4 574.1 282.3Z" fill="#00d0f9" fill-rule="evenodd"/>
<path d="M603.4 316.3 525.5 316.3 514.4 314.6 514.4 282.7 517.9 281.7 521.4 280.2 523.0 279.3 523.9 278.6 524.7 277.8 525.4 276.8 525.8 275.8 525.7 274.3 525.3 272.8 523.7 269.3 523.0 267.3 522.6 265.3 522.6 263.8 522.8 261.8 523.6 259.3 524.8 256.8 526.2 254.8 528.0 252.8 529.7 251.3 535.4 247.3 537.8 245.8 539.9 244.7 544.4 242.7 551.9 240.1 556.4 238.9 566.4 237.1 578.9 235.5 589.4 234.6 600.9 234.0 611.9 233.2 621.4 232.9 627.9 233.1 629.9 233.3 632.4 233.9 641.9 236.5 646.9 238.5 652.4 241.4 652.4 261.4 648.9 263.9 646.0 265.8 643.4 267.2 640.6 268.3 634.0 270.3 629.9 271.3 616.9 273.3 609.2 274.8 603.1 276.3 594.9 278.7 593.4 278.6 588.2 277.3 580.9 276.0 574.9 275.4 569.4 275.2 563.4 275.4 560.0 275.8 557.4 276.2 553.3 277.3 552.0 277.8 551.2 278.3 550.8 278.8 550.8 279.3 551.2 279.8 552.0 280.3 553.2 280.8 555.9 281.5 558.4 282.0 561.4 282.4 564.9 282.7 568.4 282.8 575.4 282.5 581.9 281.9 587.8 280.8 594.4 279.2 595.9 279.5 601.8 281.3 605.5 282.3 620.9 286.2 630.4 288.4 636.9 290.3 640.4 291.7 643.4 293.3 644.7 294.3 645.7 295.3 646.5 296.3 647.1 297.3 647.4 298.8 647.2 299.8 646.8 300.8 646.0 301.8 644.7 302.8 643.1 303.8 637.9 306.3 632.9 308.3 627.9 309.9 611.4 314.5 606.9 315.6 603.4 316.3Z" fill="#00def5" fill-rule="evenodd"/>
<path d="M597.9 316.3 533.5 316.3 514.4 313.4 514.4 284.3 520.2 282.8 523.2 281.8 525.6 280.8 527.5 279.8 529.1 278.8 530.1 277.8 530.3 277.3 530.5 276.3 530.2 275.3 529.5 273.8 527.3 270.3 526.2 268.3 525.5 266.3 525.1 264.3 525.1 263.3 525.3 261.8 526.0 259.3 527.3 256.8 529.2 254.3 530.9 252.6 534.9 249.3 537.4 247.5 539.4 246.2 541.4 245.1 543.9 243.9 551.9 240.9 556.4 239.7 564.9 238.1 575.4 236.6 584.9 235.6 591.4 235.1 600.4 234.7 612.9 233.9 622.4 233.7 628.4 233.9 630.9 234.3 633.4 235.0 639.4 236.7 642.4 237.7 645.0 238.8 647.4 240.0 649.6 241.3 652.4 243.2 652.4 259.1 648.1 262.8 644.4 265.3 640.5 267.3 636.5 268.8 632.4 270.1 628.9 271.0 613.9 273.3 608.7 274.3 598.4 276.5 595.9 276.9 593.9 277.0 591.4 276.9 580.9 275.6 575.4 275.1 570.4 274.9 565.9 275.0 562.4 275.2 559.4 275.5 552.6 276.8 550.7 277.3 549.4 277.8 548.5 278.3 548.1 278.8 548.2 279.3 548.7 279.8 549.5 280.3 552.6 281.3 557.9 282.3 563.9 282.9 569.9 283.1 575.9 282.9 580.4 282.5 589.4 281.4 592.9 281.1 595.4 281.1 598.4 281.6 607.4 283.7 615.5 285.8 628.4 289.4 633.9 291.2 637.4 292.6 639.6 293.8 641.6 295.3 642.5 296.3 643.1 297.3 643.5 298.8 643.4 299.8 642.9 300.8 642.1 301.8 640.9 302.8 639.4 303.8 635.4 305.7 629.4 307.9 613.9 312.6 607.9 314.2 598.9 316.2 597.9 316.3Z" fill="#00edf0" fill-rule="evenodd"/>
<path d="M591.9 316.3 540.1 316.3 514.4 312.3 514.4 285.5 522.0 283.8 528.5 281.8 534.0 279.8 535.7 278.8 536.1 278.3 536.1 277.8 535.7 276.8 530.9 271.3 529.4 269.3 528.4 267.5 527.7 265.8 527.5 264.8 527.4 263.3 527.5 262.3 527.7 260.8 528.7 258.3 530.2 255.8 531.5 254.3 534.5 251.3 536.8 249.3 538.8 247.8 540.9 246.5 543.2 245.3 549.9 242.5 554.9 240.8 559.9 239.7 567.4 238.4 577.9 237.0 589.9 235.9 610.4 234.7 620.9 234.5 627.9 234.6 629.9 234.9 632.4 235.5 640.9 238.1 643.4 239.2 645.7 240.3 647.4 241.3 649.5 242.8 651.3 244.3 652.4 245.5 652.4 256.7 650.6 258.8 648.5 260.8 646.1 262.8 643.9 264.3 641.9 265.5 639.4 266.8 632.9 269.3 629.9 270.2 627.4 270.7 614.0 272.8 599.4 275.5 595.9 276.0 593.4 276.2 590.4 276.1 579.4 275.1 573.9 274.7 569.4 274.6 565.4 274.7 559.4 275.2 552.2 276.3 547.1 277.3 545.5 277.8 544.7 278.3 544.4 278.8 544.5 279.3 545.2 279.8 546.2 280.3 547.7 280.8 550.4 281.5 554.4 282.2 560.9 283.0 566.9 283.3 573.4 283.3 578.4 283.0 588.9 282.1 592.4 282.0 595.4 282.1 598.9 282.7 607.4 284.6 613.9 286.3 620.2 288.3 630.5 291.8 634.1 293.3 636.8 294.8 638.6 296.3 639.5 297.8 639.7 298.8 639.6 299.8 639.1 300.8 638.3 301.8 637.0 302.8 635.3 303.8 630.8 305.8 616.9 310.5 610.4 312.5 597.4 315.5 593.9 316.1 591.9 316.3Z" fill="#00eee4" fill-rule="evenodd"/>
<path d="M546.4 276.3 542.9 276.6 541.4 276.5 540.4 276.3 539.4 276.0 537.9 275.2 536.9 274.5 535.4 273.3 534.0 271.8 532.3 269.8 531.2 268.3 530.4 266.8 529.8 265.3 529.5 263.8 529.5 262.3 529.8 260.8 530.3 259.3 531.0 257.8 533.1 254.8 535.7 251.8 538.9 249.0 541.9 247.0 544.9 245.5 551.4 242.7 555.9 241.2 562.4 239.9 570.4 238.6 578.4 237.6 587.9 236.7 612.4 235.3 621.9 235.1 627.9 235.3 630.9 235.8 634.4 236.8 640.4 238.9 642.6 239.8 644.5 240.8 647.5 242.8 649.7 244.8 650.6 245.8 651.6 247.3 652.4 249.3 652.4 252.8 651.6 254.8 650.7 256.3 649.6 257.8 648.3 259.3 646.7 260.8 643.4 263.4 641.4 264.7 639.4 265.8 633.8 268.3 629.4 269.7 625.9 270.4 614.0 272.3 600.4 274.7 594.9 275.4 589.9 275.5 575.4 274.5 567.4 274.4 560.4 274.8 546.4 276.3ZM583.9 316.3 549.0 316.3 542.4 315.7 538.4 315.2 514.4 311.3 514.4 286.6 522.9 284.8 536.9 281.2 539.9 280.7 542.9 280.9 548.3 281.8 556.9 283.0 564.4 283.5 569.4 283.6 574.4 283.6 589.4 282.7 592.4 282.7 594.9 282.9 599.4 283.6 607.9 285.6 613.4 287.1 618.9 289.0 626.2 291.8 630.7 293.8 632.5 294.8 633.9 295.8 634.9 296.8 635.6 297.8 635.8 298.8 635.8 299.3 635.5 300.3 634.4 301.6 632.9 302.8 631.1 303.8 627.8 305.3 617.9 309.1 613.9 310.4 609.9 311.6 597.9 314.5 591.9 315.5 583.9 316.3Z" fill="#00eed6" fill-rule="evenodd"/>
<path d="M551.9 275.3 547.4 275.5 543.4 275.4 540.9 274.9 539.5 274.3 538.4 273.7 536.9 272.5 535.6 271.3 534.4 269.8 533.0 267.8 532.3 266.3 531.7 264.8 531.5 263.3 531.6 261.8 531.9 260.3 532.4 258.8 533.1 257.3 534.0 255.8 536.3 252.8 537.8 251.3 539.4 249.9 541.9 248.1 545.1 246.3 551.4 243.4 555.9 241.9 562.4 240.5 570.4 239.2 578.4 238.2 587.4 237.3 593.4 236.9 611.4 236.0 621.4 235.8 627.4 236.0 630.4 236.4 633.6 237.3 639.9 239.6 643.5 241.3 645.7 242.8 647.9 244.8 649.5 246.8 650.2 248.3 650.5 249.3 650.8 250.8 650.8 251.8 650.6 252.8 650.1 254.3 649.4 255.8 648.4 257.3 647.1 258.8 645.6 260.3 642.6 262.8 638.9 265.1 633.2 267.8 630.9 268.7 628.9 269.3 624.4 270.2 600.9 274.0 594.4 274.8 588.9 274.9 575.4 274.2 568.4 274.1 561.9 274.3 551.9 275.3ZM579.9 315.8 571.4 316.1 564.9 316.2 555.4 315.9 548.9 315.5 542.9 315.0 538.9 314.5 523.4 312.0 514.4 310.4 514.4 287.6 525.3 285.3 536.9 282.6 540.9 282.1 544.4 282.1 558.4 283.5 565.4 283.9 573.9 283.9 587.9 283.3 593.9 283.5 598.4 284.1 606.9 286.2 612.4 287.8 617.4 289.6 624.8 292.8 628.5 294.8 629.9 295.8 631.0 296.8 631.7 297.8 631.8 298.3 631.9 299.3 631.6 300.3 630.8 301.3 628.9 302.8 626.3 304.3 621.9 306.3 617.9 308.0 613.9 309.5 606.9 311.5 595.9 314.1 587.9 315.2 579.9 315.8Z" fill="#00eec9" fill-rule="evenodd"/>
<path d="M552.4 274.8 547.9 274.8 543.9 274.5 541.4 273.8 539.9 273.1 538.9 272.5 537.5 271.3 536.5 270.3 535.4 268.8 534.5 267.3 533.8 265.8 533.4 264.3 533.2 263.3 533.2 261.8 533.8 259.3 534.4 257.8 535.2 256.3 536.1 254.8 537.3 253.3 539.9 250.7 541.7 249.3 543.4 248.2 548.4 245.5 552.4 243.7 556.4 242.4 562.9 241.0 570.9 239.7 578.9 238.7 587.9 237.9 593.9 237.5 611.4 236.5 621.4 236.4 627.4 236.6 630.4 237.1 633.4 237.9 639.4 240.2 642.5 241.8 644.7 243.3 646.8 245.3 648.1 247.3 648.9 249.3 649.2 250.8 649.2 251.8 649.1 252.8 648.6 254.3 648.2 255.3 647.3 256.8 646.1 258.3 644.7 259.8 641.7 262.3 638.4 264.4 632.8 267.3 630.4 268.2 628.5 268.8 623.5 269.8 604.4 272.9 597.9 273.9 594.4 274.3 591.4 274.5 588.4 274.5 574.9 273.9 568.4 273.8 562.4 274.0 552.4 274.8ZM574.9 315.3 567.4 315.5 559.9 315.4 552.9 315.1 545.4 314.5 541.4 314.1 537.4 313.5 522.4 311.0 514.4 309.5 514.4 288.5 536.9 283.6 539.4 283.2 541.9 283.0 547.9 283.1 559.9 284.0 565.9 284.2 573.9 284.2 586.9 283.8 593.4 284.1 595.9 284.4 598.4 284.9 605.9 286.7 610.9 288.2 615.9 290.0 620.9 292.3 625.2 294.8 626.5 295.8 627.5 296.8 628.1 297.8 628.3 298.3 628.4 299.3 628.2 299.8 627.7 300.8 626.8 301.8 624.8 303.3 621.3 305.3 618.2 306.8 614.5 308.3 610.9 309.6 606.9 310.7 599.9 312.5 594.4 313.6 588.4 314.4 583.9 314.8 574.9 315.3Z" fill="#00eebc" fill-rule="evenodd"/>
<path d="M553.9 274.3 549.4 274.3 545.0 273.8 542.4 273.1 540.4 272.1 539.3 271.3 537.9 270.0 536.9 268.8 535.9 267.3 535.2 265.8 534.8 264.3 534.6 263.3 534.6 261.8 535.1 259.3 535.7 257.8 536.4 256.3 537.4 254.8 538.4 253.5 540.9 251.0 544.0 248.8 548.9 246.1 552.9 244.2 556.4 243.1 562.9 241.6 570.4 240.4 577.9 239.4 587.9 238.4 594.4 238.0 610.9 237.1 620.9 237.0 626.9 237.2 629.9 237.6 632.9 238.5 638.7 240.8 641.4 242.2 643.7 243.8 645.3 245.3 646.7 247.3 647.5 249.3 647.8 250.8 647.8 251.8 647.7 252.8 647.2 254.3 646.5 255.8 645.9 256.8 643.8 259.3 640.9 261.8 637.9 263.7 632.4 266.8 630.4 267.6 628.4 268.2 622.9 269.4 606.9 272.0 598.4 273.3 593.9 273.8 590.9 274.0 587.4 274.0 574.4 273.6 567.9 273.5 562.4 273.7 553.9 274.3ZM569.4 314.8 562.9 314.8 554.9 314.6 548.9 314.2 542.4 313.6 537.9 312.9 524.4 310.6 514.4 308.7 514.4 289.4 537.4 284.4 539.9 284.0 542.4 283.8 549.4 283.7 560.4 284.3 566.4 284.5 573.4 284.5 585.4 284.3 591.9 284.6 595.9 285.0 600.4 286.0 608.4 288.2 614.2 290.3 618.4 292.3 621.7 294.3 623.0 295.3 624.1 296.3 624.8 297.3 625.2 298.3 625.3 299.3 625.2 299.8 624.7 300.8 623.3 302.3 621.4 303.8 618.9 305.3 615.8 306.8 612.4 308.2 608.4 309.5 598.4 312.1 592.9 313.2 586.9 313.9 581.9 314.4 569.4 314.8Z" fill="#00eda9" fill-rule="evenodd"/>
<path d="M555.9 273.8 551.9 273.9 547.9 273.5 544.4 272.8 542.9 272.3 541.9 271.8 540.4 270.8 539.4 270.0 538.4 268.9 537.6 267.8 537.0 266.8 536.4 265.3 536.0 263.8 535.9 262.3 536.2 259.8 536.7 258.3 537.4 256.8 539.0 254.3 541.3 251.8 542.9 250.5 544.4 249.5 549.4 246.6 552.9 244.9 556.4 243.7 562.9 242.2 569.9 241.0 577.9 239.9 587.4 239.0 594.4 238.5 609.9 237.7 619.9 237.6 625.9 237.7 628.9 238.0 631.9 238.8 634.9 240.0 639.9 242.3 642.2 243.8 643.9 245.4 645.3 247.3 646.2 249.3 646.5 250.8 646.5 251.8 646.2 253.8 645.5 255.3 645.0 256.3 643.9 257.8 642.9 258.9 641.4 260.3 639.9 261.5 634.7 264.8 631.4 266.5 627.9 267.8 622.4 268.9 608.9 271.2 599.4 272.7 593.9 273.3 590.4 273.5 586.9 273.6 573.4 273.2 567.9 273.2 562.9 273.4 555.9 273.8ZM580.9 313.8 571.9 314.2 564.9 314.2 554.9 314.0 547.9 313.5 541.9 312.9 537.4 312.2 522.9 309.6 514.4 307.9 514.4 290.2 537.4 285.2 540.4 284.7 542.9 284.4 549.9 284.2 565.4 284.8 572.9 284.8 583.9 284.7 589.9 285.0 594.4 285.4 598.4 286.2 606.4 288.4 611.4 290.1 615.3 291.8 618.8 293.8 620.1 294.8 621.2 295.8 622.0 296.8 622.6 297.8 622.7 298.3 622.8 299.3 622.5 300.3 621.9 301.3 620.5 302.8 618.9 304.0 616.7 305.3 614.4 306.5 611.9 307.5 608.9 308.6 605.9 309.5 599.4 311.2 595.9 312.0 588.4 313.1 580.9 313.8Z" fill="#00ec94" fill-rule="evenodd"/>
<path d="M558.4 273.3 553.9 273.5 550.4 273.3 546.9 272.7 544.9 272.1 543.4 271.5 542.1 270.8 540.9 269.9 539.7 268.8 538.9 267.8 538.3 266.8 537.6 265.3 537.3 264.3 537.0 262.8 537.0 261.8 537.2 260.3 537.6 258.8 538.2 257.3 539.8 254.8 540.9 253.4 542.0 252.3 544.6 250.3 549.9 247.0 553.4 245.4 556.9 244.2 563.4 242.7 570.9 241.4 578.4 240.4 587.9 239.5 594.9 239.0 609.4 238.3 619.4 238.1 625.9 238.3 628.9 238.6 631.9 239.4 634.9 240.7 639.4 243.0 641.4 244.4 643.3 246.3 644.3 247.8 645.1 249.8 645.3 251.3 645.2 252.3 644.8 254.3 644.1 255.8 643.4 256.8 641.8 258.8 640.4 260.1 638.8 261.3 633.9 264.5 630.9 266.1 627.9 267.2 621.9 268.5 609.4 270.7 598.9 272.3 593.4 272.9 586.4 273.2 567.9 272.9 558.4 273.3ZM579.9 313.3 570.9 313.7 563.4 313.7 554.4 313.4 545.9 312.7 540.9 312.2 536.4 311.5 522.9 309.0 514.4 307.1 514.4 291.1 522.4 289.2 537.4 285.9 540.9 285.3 543.9 285.0 547.9 284.8 551.9 284.7 564.9 285.1 582.4 285.1 587.9 285.3 593.4 285.9 596.9 286.5 605.4 288.8 609.8 290.3 613.4 291.9 616.8 293.8 618.1 294.8 619.2 295.8 620.0 296.8 620.5 297.8 620.6 298.3 620.6 299.3 620.4 300.3 619.8 301.3 618.5 302.8 616.9 304.0 614.8 305.3 612.8 306.3 610.4 307.3 605.4 309.0 599.4 310.6 595.4 311.5 587.4 312.7 579.9 313.3Z" fill="#00eb7f" fill-rule="evenodd"/>
<path d="M561.4 272.8 555.4 273.1 551.9 273.0 548.4 272.4 544.9 271.3 543.4 270.5 542.4 269.9 541.4 269.1 540.4 268.0 539.5 266.8 539.0 265.8 538.6 264.8 538.2 263.3 538.1 262.3 538.2 260.8 538.5 259.3 539.1 257.8 540.5 255.3 542.4 253.1 544.9 251.0 549.9 247.8 553.9 245.8 557.4 244.6 563.9 243.1 571.4 241.9 578.4 240.9 588.4 240.0 595.4 239.5 609.4 238.8 619.4 238.7 625.4 238.8 628.4 239.1 631.4 239.9 634.4 241.2 638.3 243.3 640.5 244.8 642.0 246.3 643.0 247.8 643.9 249.8 644.1 251.3 644.1 252.3 643.6 254.3 642.6 256.3 640.9 258.4 638.4 260.7 633.4 264.1 630.4 265.7 627.4 266.8 621.4 268.1 609.9 270.1 599.4 271.7 593.4 272.4 586.4 272.8 569.9 272.6 561.4 272.8ZM579.9 312.8 570.4 313.1 562.9 313.1 553.9 312.8 545.4 312.2 540.4 311.6 535.4 310.7 522.4 308.2 514.4 306.2 514.4 291.9 521.9 290.0 537.4 286.6 540.9 285.9 544.4 285.5 548.9 285.3 553.4 285.2 565.9 285.4 581.4 285.5 585.9 285.7 591.4 286.2 595.9 286.9 600.4 288.0 607.9 290.4 611.9 292.1 614.9 293.8 616.3 294.8 617.3 295.8 618.1 296.8 618.6 297.8 618.8 298.8 618.7 299.8 618.3 300.8 617.2 302.3 615.9 303.4 613.8 304.8 611.9 305.8 609.4 306.9 606.4 308.0 601.4 309.5 595.4 311.0 587.4 312.2 579.9 312.8Z" fill="#00ea69" fill-rule="evenodd"/>
<path d="M587.9 272.3 582.4 272.4 567.9 272.3 555.4 272.7 551.9 272.5 548.9 271.9 546.4 271.0 543.9 269.8 542.4 268.7 541.1 267.3 540.1 265.8 539.4 263.8 539.2 261.8 539.4 259.8 540.1 257.8 540.9 256.3 542.0 254.8 543.4 253.3 545.1 251.8 548.4 249.4 550.9 247.9 553.1 246.8 554.9 246.0 556.9 245.4 562.9 243.9 570.9 242.4 579.4 241.3 592.4 240.1 607.4 239.3 619.9 239.2 623.9 239.3 627.4 239.6 629.4 239.9 631.9 240.7 634.2 241.8 636.8 243.3 638.9 244.7 640.2 245.8 641.5 247.3 642.3 248.8 642.9 250.8 642.9 252.8 642.3 254.8 641.1 256.8 640.3 257.8 638.9 259.2 635.7 261.8 632.8 263.8 629.9 265.3 627.4 266.2 623.4 267.2 609.4 269.7 595.9 271.7 591.9 272.1 587.9 272.3ZM579.9 312.3 570.4 312.7 562.4 312.6 553.4 312.3 544.9 311.6 538.4 310.7 527.4 308.6 520.9 307.1 514.9 305.5 514.4 305.4 514.4 292.8 522.4 290.6 536.4 287.4 540.9 286.5 544.4 286.1 549.4 285.7 553.9 285.6 583.9 286.0 589.4 286.4 594.9 287.2 599.4 288.3 606.4 290.6 610.5 292.3 613.4 293.9 614.6 294.8 615.6 295.8 616.4 296.8 616.9 297.8 617.1 298.8 617.0 299.8 616.6 300.8 615.5 302.3 614.4 303.3 612.4 304.6 610.1 305.8 607.9 306.7 600.4 309.2 594.9 310.5 587.4 311.7 579.9 312.3Z" fill="#00e952" fill-rule="evenodd"/>
<path d="M589.4 271.8 582.4 272.0 566.9 272.0 555.9 272.3 552.9 272.1 550.4 271.7 547.9 270.9 545.6 269.8 543.9 268.7 542.3 267.3 541.3 265.8 540.4 263.8 540.2 261.8 540.5 259.8 540.9 258.3 541.7 256.8 542.7 255.3 544.0 253.8 546.3 251.8 548.9 249.9 551.4 248.3 553.4 247.3 555.4 246.4 557.4 245.8 563.4 244.3 571.4 242.9 579.4 241.8 592.4 240.6 607.4 239.8 619.9 239.7 623.9 239.8 627.4 240.1 628.9 240.4 630.9 241.0 632.9 241.8 634.9 242.9 637.6 244.8 638.9 245.8 640.3 247.3 641.2 248.8 641.8 250.8 641.9 251.8 641.8 252.8 641.2 254.8 640.0 256.8 638.2 258.8 634.6 261.8 631.9 263.6 629.7 264.8 627.4 265.6 623.9 266.5 611.4 268.9 597.4 271.0 593.4 271.5 589.4 271.8ZM580.4 311.8 571.9 312.2 565.4 312.2 555.4 312.0 548.9 311.5 542.4 310.8 537.9 310.1 526.7 307.8 520.4 306.3 514.4 304.4 514.4 293.7 519.9 292.0 525.9 290.4 538.4 287.6 541.4 287.0 544.4 286.6 549.4 286.2 554.4 286.0 581.9 286.3 587.9 286.7 594.4 287.7 598.9 288.8 604.9 290.8 608.9 292.4 610.7 293.3 612.2 294.3 614.0 295.8 614.8 296.8 615.3 297.8 615.5 299.3 615.3 300.3 614.7 301.3 613.9 302.3 612.7 303.3 611.2 304.3 609.4 305.3 607.1 306.3 599.9 308.7 594.9 310.0 587.4 311.2 580.4 311.8Z" fill="#00e73b" fill-rule="evenodd"/>
<path d="M560.4 271.8 555.9 271.9 552.9 271.6 549.9 270.9 547.4 269.9 544.8 268.3 543.6 267.3 542.9 266.5 542.1 265.3 541.7 264.3 541.2 262.3 541.4 260.3 541.8 258.8 542.2 257.8 542.9 256.5 543.8 255.3 545.7 253.3 548.9 250.7 552.4 248.4 555.4 247.0 559.4 245.8 565.4 244.4 573.4 243.1 579.9 242.2 589.4 241.3 596.4 240.8 608.4 240.3 617.4 240.2 623.9 240.4 626.9 240.6 628.9 241.0 631.4 241.8 633.4 242.8 636.3 244.8 638.6 246.8 639.7 248.3 640.2 249.3 640.6 250.3 640.8 252.3 640.5 253.8 639.6 255.8 638.1 257.8 634.9 260.8 631.9 263.0 628.9 264.5 625.9 265.5 620.2 266.8 609.4 268.8 598.9 270.4 592.9 271.1 588.9 271.4 584.4 271.6 567.9 271.6 560.4 271.8ZM581.4 311.3 572.9 311.7 566.4 311.8 556.4 311.6 550.9 311.2 543.4 310.5 539.4 309.9 535.4 309.1 525.0 306.8 519.6 305.3 516.6 304.3 514.4 303.4 514.4 294.8 519.4 292.9 525.0 291.3 537.9 288.2 540.9 287.6 543.9 287.2 549.9 286.6 554.9 286.4 568.4 286.5 580.4 286.7 585.9 287.0 591.9 287.8 595.9 288.5 599.9 289.7 605.9 291.9 608.0 292.8 609.9 293.8 611.3 294.8 612.5 295.8 613.3 296.8 613.8 297.8 614.0 298.8 613.9 299.8 613.5 300.8 612.8 301.8 611.8 302.8 610.4 303.8 608.7 304.8 606.5 305.8 599.9 308.2 594.9 309.5 587.9 310.6 581.4 311.3Z" fill="#00e624" fill-rule="evenodd"/>
<path d="M565.9 271.3 556.9 271.4 553.4 271.2 551.6 270.8 549.9 270.3 547.9 269.3 546.3 268.3 544.9 267.2 543.6 265.8 542.7 264.3 542.3 262.8 542.2 261.3 542.5 259.8 543.2 257.8 544.1 256.3 545.3 254.8 546.8 253.3 548.5 251.8 550.5 250.3 552.4 249.1 554.4 248.1 556.3 247.3 558.4 246.6 561.9 245.7 565.4 244.9 574.4 243.4 584.4 242.3 594.4 241.4 605.9 240.8 612.9 240.7 622.4 240.8 625.4 241.0 627.9 241.3 629.8 241.8 631.4 242.4 633.1 243.3 634.9 244.6 636.9 246.3 638.2 247.8 638.9 248.9 639.5 250.3 639.7 251.3 639.7 252.3 639.5 253.8 639.1 254.8 638.6 255.8 637.0 257.8 634.5 260.3 631.9 262.3 629.4 263.7 626.4 264.8 620.9 266.1 610.4 268.1 603.9 269.2 593.9 270.6 589.4 271.0 583.9 271.2 565.9 271.3ZM571.4 311.3 564.9 311.4 555.9 311.1 550.9 310.8 545.4 310.2 541.4 309.8 537.4 309.0 524.9 306.1 519.1 304.3 516.6 303.3 514.4 302.1 514.4 296.1 515.7 295.3 518.0 294.3 520.6 293.3 523.9 292.3 536.4 289.1 541.9 288.0 548.4 287.2 553.9 286.8 571.9 286.8 580.4 287.1 585.4 287.4 591.9 288.3 596.4 289.2 601.3 290.8 605.2 292.3 607.4 293.3 609.1 294.3 610.4 295.3 611.4 296.3 612.3 297.8 612.5 298.8 612.5 299.3 612.3 300.3 611.4 301.7 610.3 302.8 608.8 303.8 606.4 305.1 599.3 307.8 596.4 308.7 593.9 309.2 586.4 310.4 580.4 310.9 571.4 311.3Z" fill="#00e50c" fill-rule="evenodd"/>
<path d="M582.9 270.8 557.4 271.0 554.4 270.8 551.9 270.3 549.4 269.3 547.6 268.3 545.7 266.8 544.4 265.3 543.6 263.8 543.3 262.3 543.3 260.8 543.6 259.3 544.2 257.8 545.1 256.3 546.8 254.3 548.3 252.8 549.9 251.5 551.5 250.3 553.4 249.2 555.4 248.2 557.4 247.5 560.4 246.6 566.9 245.2 575.9 243.7 584.9 242.7 594.4 241.9 608.4 241.2 620.4 241.3 623.9 241.4 626.9 241.7 628.9 242.1 630.4 242.6 631.9 243.3 633.4 244.3 634.7 245.3 636.2 246.8 637.4 248.3 638.2 249.8 638.5 250.8 638.7 251.8 638.6 253.3 638.1 254.8 636.9 256.8 635.2 258.8 632.9 260.9 630.4 262.6 627.9 263.8 624.4 264.8 620.4 265.7 611.9 267.4 605.4 268.5 592.9 270.2 588.4 270.6 582.9 270.8ZM573.9 310.8 564.9 310.9 553.9 310.6 548.9 310.2 543.9 309.6 537.9 308.7 526.2 305.8 522.9 304.8 519.4 303.5 517.0 302.3 515.6 301.3 515.1 300.8 514.4 299.8 514.4 298.6 514.7 297.8 515.2 297.3 516.4 296.3 518.1 295.3 520.3 294.3 523.0 293.3 526.2 292.3 536.4 289.6 541.9 288.5 548.4 287.7 553.9 287.3 560.4 287.1 570.4 287.2 581.4 287.5 587.4 288.1 593.9 289.1 596.4 289.7 599.4 290.7 602.3 291.8 605.9 293.4 607.5 294.3 608.9 295.3 610.0 296.3 610.9 297.8 611.1 298.3 611.1 299.3 610.9 300.3 609.9 301.8 608.8 302.8 607.3 303.8 605.4 304.8 599.4 307.2 596.9 308.0 594.4 308.7 587.9 309.7 581.4 310.4 573.9 310.8Z" fill="#05e500" fill-rule="evenodd"/>
<path d="M585.4 270.3 577.9 270.5 558.9 270.6 555.4 270.4 552.9 270.0 550.9 269.3 549.0 268.3 547.6 267.3 546.0 265.8 545.0 264.3 544.4 262.8 544.3 261.3 544.5 259.8 545.0 258.3 545.8 256.8 546.9 255.3 548.2 253.8 549.8 252.3 551.4 251.1 552.9 250.1 554.9 249.0 556.4 248.4 558.9 247.6 564.9 246.1 572.9 244.6 580.4 243.6 592.4 242.5 605.9 241.8 617.4 241.7 621.9 241.8 625.4 242.1 627.4 242.4 629.2 242.8 630.9 243.5 632.4 244.4 633.9 245.5 635.2 246.8 636.3 248.3 637.1 249.8 637.6 251.8 637.5 253.3 637.1 254.8 636.0 256.8 634.3 258.8 632.4 260.6 630.4 262.0 627.9 263.2 624.9 264.1 620.9 265.1 613.4 266.7 606.9 267.8 594.4 269.6 589.9 270.1 585.4 270.3ZM576.4 310.3 566.9 310.6 555.4 310.3 547.4 309.6 542.4 309.0 539.4 308.5 535.4 307.6 528.5 305.8 525.2 304.8 521.9 303.6 519.2 302.3 517.8 301.3 517.3 300.8 516.7 299.8 516.5 298.8 517.0 297.8 517.9 296.8 519.3 295.8 521.3 294.8 523.8 293.8 526.8 292.8 536.9 290.0 541.9 289.0 548.9 288.1 554.4 287.6 561.4 287.5 570.9 287.5 581.4 287.9 587.4 288.5 593.9 289.6 596.6 290.3 599.4 291.3 601.9 292.3 605.1 293.8 606.8 294.8 608.0 295.8 609.0 296.8 609.5 297.8 609.7 298.3 609.7 299.3 609.5 300.3 608.9 301.3 607.9 302.3 606.6 303.3 604.8 304.3 599.4 306.7 594.9 308.1 589.4 309.1 582.9 309.9 576.4 310.3Z" fill="#11e700" fill-rule="evenodd"/>
<path d="M586.9 269.8 577.9 270.1 560.9 270.2 556.4 270.0 553.9 269.7 551.9 269.0 550.3 268.3 548.8 267.3 547.2 265.8 546.1 264.3 545.5 262.8 545.3 261.3 545.5 259.8 546.0 258.3 546.8 256.8 547.8 255.3 549.2 253.8 550.8 252.3 552.1 251.3 553.7 250.3 555.4 249.4 559.9 247.9 565.4 246.5 573.4 245.0 580.4 244.1 592.4 242.9 605.9 242.2 616.9 242.2 621.4 242.3 624.9 242.6 627.4 242.9 628.9 243.3 630.4 243.9 631.9 244.8 633.2 245.8 634.7 247.3 635.7 248.8 636.2 249.8 636.6 251.8 636.6 253.3 636.2 254.8 635.1 256.8 633.5 258.8 631.9 260.3 629.9 261.6 627.9 262.6 624.9 263.6 621.4 264.5 608.4 267.1 595.4 269.1 591.4 269.5 586.9 269.8ZM578.4 309.8 567.9 310.2 556.4 309.9 548.9 309.4 540.4 308.2 536.2 307.3 529.9 305.6 525.9 304.3 523.3 303.3 521.3 302.3 519.9 301.3 519.0 300.3 518.7 299.8 518.6 298.8 519.0 297.8 520.0 296.8 521.4 295.8 523.4 294.8 526.0 293.8 529.0 292.8 537.8 290.3 542.4 289.4 550.4 288.3 555.4 288.0 562.9 287.9 571.4 287.9 581.4 288.3 587.4 288.9 593.9 290.1 596.4 290.8 598.9 291.6 601.6 292.8 603.5 293.8 605.3 294.8 606.6 295.8 607.6 296.8 608.1 297.8 608.4 298.8 608.3 299.8 607.8 300.8 607.0 301.8 605.8 302.8 604.2 303.8 601.9 305.0 599.4 306.1 595.4 307.4 590.9 308.4 584.4 309.3 578.4 309.8Z" fill="#1cea00" fill-rule="evenodd"/>
<path d="M587.9 269.3 577.9 269.7 562.4 269.7 557.4 269.6 554.4 269.2 552.4 268.6 550.8 267.8 549.3 266.8 547.8 265.3 547.2 264.3 546.5 262.8 546.3 261.3 546.5 259.8 546.9 258.3 547.7 256.8 548.7 255.3 549.6 254.3 550.9 253.0 552.4 251.8 554.0 250.8 555.9 249.8 560.3 248.3 565.4 247.0 572.9 245.6 579.9 244.6 591.9 243.4 604.9 242.7 614.4 242.6 619.9 242.8 623.9 243.0 627.9 243.6 629.4 244.1 630.9 244.9 632.2 245.8 633.4 246.9 634.5 248.3 635.3 249.8 635.8 251.8 635.7 253.3 635.3 254.8 634.6 256.3 633.1 258.3 631.6 259.8 629.9 261.0 627.9 262.0 624.9 263.1 621.4 264.0 608.9 266.6 596.4 268.5 591.9 269.0 587.9 269.3ZM579.9 309.3 568.9 309.8 558.9 309.6 554.4 309.4 550.4 309.1 541.4 308.0 537.9 307.2 534.4 306.3 528.9 304.6 525.4 303.3 523.4 302.3 521.9 301.3 521.0 300.3 520.7 299.8 520.6 298.8 521.0 297.8 522.0 296.8 523.5 295.8 525.4 294.8 529.5 293.3 534.9 291.6 538.4 290.7 542.9 289.7 550.9 288.7 555.4 288.4 563.4 288.2 571.9 288.3 581.4 288.7 587.4 289.4 593.4 290.5 595.4 291.0 597.8 291.8 600.2 292.8 602.1 293.8 605.2 295.8 606.2 296.8 606.8 297.8 607.0 298.8 606.9 299.8 606.5 300.8 605.6 301.8 604.4 302.8 602.8 303.8 599.4 305.5 595.9 306.8 592.4 307.7 585.9 308.7 579.9 309.3Z" fill="#28ec00" fill-rule="evenodd"/>
<path d="M577.4 269.3 559.4 269.2 555.9 268.9 553.4 268.3 551.9 267.6 550.4 266.7 549.4 265.8 548.2 264.3 547.7 263.3 547.3 261.8 547.3 260.3 547.7 258.8 548.3 257.3 549.2 255.8 550.4 254.4 551.4 253.4 552.7 252.3 554.2 251.3 555.9 250.4 557.4 249.8 560.4 248.8 563.4 248.0 570.9 246.4 577.9 245.3 587.4 244.2 595.9 243.6 607.9 243.1 618.4 243.2 624.9 243.7 626.9 244.0 628.4 244.4 629.4 244.8 630.9 245.6 632.4 246.8 633.3 247.8 633.9 248.8 634.6 250.3 635.0 252.3 634.8 253.8 634.1 255.8 633.2 257.3 631.8 258.8 630.0 260.3 628.2 261.3 625.9 262.2 620.9 263.6 613.1 265.3 606.9 266.5 599.9 267.6 594.4 268.3 589.9 268.8 584.4 269.1 577.4 269.3ZM572.4 309.3 564.4 309.4 554.4 309.0 546.9 308.3 542.4 307.7 539.9 307.2 536.4 306.4 532.9 305.3 528.6 303.8 526.3 302.8 524.6 301.8 523.3 300.8 522.7 299.8 522.6 298.8 523.0 297.8 523.9 296.8 524.6 296.3 526.4 295.3 528.7 294.3 532.9 292.8 536.4 291.7 539.4 290.9 544.4 290.0 551.9 289.0 556.4 288.8 565.4 288.6 572.9 288.7 581.9 289.1 587.9 289.9 593.9 291.1 595.9 291.7 597.9 292.4 599.9 293.3 601.7 294.3 603.1 295.3 604.3 296.3 605.2 297.3 605.6 298.3 605.7 299.3 605.4 300.3 604.7 301.3 603.6 302.3 602.3 303.3 600.4 304.4 598.4 305.4 595.9 306.3 593.9 306.9 591.4 307.4 584.9 308.5 580.4 308.9 572.4 309.3Z" fill="#33ee00" fill-rule="evenodd"/>
<path d="M580.4 268.8 573.4 268.9 560.9 268.7 556.9 268.5 554.4 268.0 552.9 267.4 551.4 266.5 550.0 265.3 549.2 264.3 548.6 263.3 548.2 261.8 548.2 260.3 548.5 258.8 549.2 257.3 550.1 255.8 551.4 254.3 552.4 253.3 553.8 252.3 555.4 251.3 558.4 250.0 563.9 248.4 571.4 246.8 577.9 245.8 586.9 244.7 595.4 244.1 607.4 243.6 616.9 243.7 623.9 244.2 627.6 244.8 628.9 245.2 630.0 245.8 631.4 246.8 632.4 247.8 633.1 248.8 633.8 250.3 634.2 252.3 634.1 253.8 633.6 255.3 632.7 256.8 631.5 258.3 629.7 259.8 627.9 260.9 625.9 261.6 622.4 262.7 617.9 263.8 610.4 265.4 604.4 266.5 596.9 267.6 591.9 268.1 586.9 268.5 580.4 268.8ZM575.4 308.8 566.4 309.0 555.4 308.7 548.4 308.1 540.9 307.0 537.9 306.3 534.7 305.3 530.5 303.8 528.2 302.8 526.5 301.8 525.3 300.8 524.6 299.8 524.5 298.8 524.6 298.3 525.3 297.3 526.6 296.3 528.3 295.3 530.6 294.3 534.4 292.9 539.4 291.4 543.9 290.5 551.4 289.5 555.9 289.2 564.4 288.9 571.9 289.0 581.4 289.5 586.9 290.2 592.8 291.3 596.4 292.4 598.4 293.2 599.9 294.0 601.2 294.8 602.5 295.8 603.4 296.8 604.1 297.8 604.3 298.8 604.2 299.8 603.7 300.8 602.9 301.8 601.7 302.8 600.3 303.8 596.9 305.4 593.4 306.5 586.9 307.8 581.9 308.4 575.4 308.8Z" fill="#44f100" fill-rule="evenodd"/>
<path d="M582.4 268.3 574.9 268.5 562.9 268.3 558.4 268.1 555.4 267.6 553.9 267.1 552.3 266.3 551.0 265.3 550.2 264.3 549.6 263.3 549.1 261.8 549.0 260.8 549.2 259.3 549.8 257.8 550.3 256.8 551.4 255.3 552.3 254.3 553.4 253.3 554.9 252.3 556.4 251.5 558.0 250.8 560.9 249.8 563.4 249.1 570.4 247.5 577.4 246.3 585.4 245.3 594.4 244.6 606.4 244.1 614.9 244.1 622.9 244.6 627.1 245.3 628.4 245.7 629.4 246.2 630.4 246.9 631.4 247.8 632.2 248.8 633.0 250.3 633.3 251.3 633.4 252.3 633.3 253.8 632.8 255.3 632.0 256.8 630.6 258.3 629.4 259.3 627.7 260.3 625.4 261.2 621.9 262.3 617.9 263.3 611.0 264.8 605.4 265.9 597.9 267.0 592.9 267.6 588.4 268.0 582.4 268.3ZM577.4 308.3 567.4 308.7 556.4 308.4 549.4 307.8 541.9 306.7 539.4 306.2 536.3 305.3 533.5 304.3 530.1 302.8 528.3 301.8 527.1 300.8 526.4 299.8 526.3 298.8 526.7 297.8 527.1 297.3 528.4 296.3 530.2 295.3 534.9 293.3 539.9 291.7 544.9 290.8 551.9 289.9 556.4 289.5 564.4 289.3 571.9 289.4 580.9 289.8 585.9 290.4 591.4 291.5 594.9 292.4 596.9 293.1 598.4 293.9 600.0 294.8 601.3 295.8 602.2 296.8 602.8 297.8 603.1 298.8 603.1 299.3 602.8 300.3 602.2 301.3 601.2 302.3 599.8 303.3 596.9 304.9 593.4 306.0 587.9 307.2 582.9 307.9 577.4 308.3Z" fill="#60f400" fill-rule="evenodd"/>
<path d="M583.9 267.8 575.9 268.0 564.4 267.8 559.4 267.6 555.9 267.1 554.4 266.6 552.9 265.8 551.6 264.8 550.9 263.9 550.3 262.8 550.0 261.8 549.9 260.8 550.1 259.3 550.6 257.8 551.1 256.8 552.3 255.3 553.2 254.3 554.5 253.3 555.9 252.4 559.4 250.9 564.6 249.3 571.9 247.7 578.4 246.6 586.9 245.6 594.9 245.0 606.4 244.5 614.4 244.6 622.4 245.1 626.4 245.8 627.9 246.2 628.9 246.7 629.9 247.4 630.9 248.3 631.6 249.3 632.3 250.8 632.6 252.3 632.5 253.8 632.0 255.3 631.1 256.8 629.9 258.2 628.4 259.3 626.9 260.0 624.9 260.8 621.8 261.8 616.9 263.0 610.9 264.4 605.4 265.4 593.4 267.1 588.9 267.5 583.9 267.8ZM568.4 308.3 561.4 308.2 553.2 307.8 546.4 307.0 540.4 305.9 537.9 305.3 535.1 304.3 532.8 303.3 530.9 302.3 529.4 301.3 528.5 300.3 528.2 299.8 528.1 298.8 528.2 298.3 528.9 297.3 530.2 296.3 531.9 295.3 533.9 294.3 536.5 293.3 540.9 292.0 546.9 290.9 552.9 290.2 558.4 289.8 565.9 289.7 572.9 289.8 581.4 290.3 586.4 290.9 591.9 292.1 593.9 292.6 595.9 293.3 598.8 294.8 600.6 296.3 601.4 297.3 601.8 298.3 601.9 299.3 601.6 300.3 601.0 301.3 600.0 302.3 598.7 303.3 597.4 304.0 595.7 304.8 593.9 305.4 588.4 306.7 582.9 307.5 575.9 308.0 568.4 308.3Z" fill="#7df700" fill-rule="evenodd"/>
<path d="M585.4 267.3 577.4 267.6 569.4 267.5 560.9 267.1 558.4 266.9 556.4 266.5 554.9 266.1 553.9 265.6 552.8 264.8 551.8 263.8 551.2 262.8 550.9 261.8 550.8 260.8 550.9 259.3 551.4 257.9 552.0 256.8 552.7 255.8 553.9 254.6 554.9 253.8 556.4 252.8 559.9 251.3 564.9 249.8 571.9 248.2 578.4 247.1 586.4 246.1 594.9 245.4 605.9 245.0 613.4 245.1 621.4 245.6 625.7 246.3 627.4 246.8 628.4 247.2 629.4 247.9 630.3 248.8 631.0 249.8 631.5 250.8 631.8 252.3 631.8 253.8 631.4 255.0 630.7 256.3 629.9 257.3 628.4 258.5 627.1 259.3 624.7 260.3 621.6 261.3 617.8 262.3 611.4 263.8 606.3 264.8 594.4 266.6 590.4 267.0 585.4 267.3ZM572.9 307.8 564.9 307.9 554.9 307.6 548.4 306.9 541.9 305.8 539.7 305.3 537.4 304.6 535.4 303.8 533.4 302.8 531.7 301.8 530.6 300.8 529.9 299.8 529.8 298.8 529.9 298.3 530.6 297.3 531.8 296.3 533.4 295.3 536.7 293.8 540.9 292.5 546.4 291.4 552.4 290.6 556.4 290.3 564.9 290.0 571.4 290.1 579.9 290.6 584.4 291.0 588.9 291.8 593.9 293.1 596.7 294.3 599.0 295.8 600.0 296.8 600.6 297.8 600.8 298.8 600.7 299.8 600.3 300.8 599.9 301.3 598.9 302.3 597.5 303.3 595.9 304.1 594.4 304.7 589.9 305.9 584.4 306.9 580.4 307.4 572.9 307.8Z" fill="#9bfa00" fill-rule="evenodd"/>
<path d="M586.4 266.8 578.4 267.1 570.9 267.0 561.9 266.6 558.9 266.3 556.9 266.0 555.4 265.5 554.4 265.0 553.4 264.3 552.5 263.3 552.0 262.3 551.7 261.3 551.7 260.3 551.8 259.3 552.3 257.8 552.9 256.8 553.7 255.8 554.7 254.8 555.9 253.9 556.9 253.3 560.4 251.8 565.4 250.2 572.4 248.6 578.4 247.6 586.4 246.6 594.4 245.9 605.4 245.5 612.4 245.6 619.9 246.1 624.4 246.7 627.4 247.6 628.4 248.1 629.3 248.8 630.1 249.8 630.6 250.8 631.0 252.3 631.0 253.8 630.4 255.3 629.8 256.3 628.9 257.3 627.6 258.3 625.9 259.1 623.9 260.0 620.4 261.1 615.7 262.3 606.4 264.3 594.9 266.1 590.9 266.5 586.4 266.8ZM575.4 307.3 566.4 307.6 555.9 307.2 549.9 306.7 542.9 305.6 540.4 305.0 538.2 304.3 535.8 303.3 534.4 302.5 533.2 301.8 532.1 300.8 531.5 299.8 531.4 298.8 531.5 298.3 532.2 297.3 534.0 295.8 535.8 294.8 537.4 294.1 541.4 292.8 546.9 291.8 552.4 291.0 556.4 290.7 564.9 290.4 571.4 290.5 579.9 290.9 583.9 291.4 588.4 292.2 592.7 293.3 595.4 294.3 596.9 295.1 597.9 295.8 598.9 296.8 599.5 297.8 599.7 298.8 599.6 299.8 599.2 300.8 598.8 301.3 597.9 302.2 597.1 302.8 595.9 303.5 594.4 304.2 590.6 305.3 585.4 306.4 580.9 307.0 575.4 307.3Z" fill="#bcfd00" fill-rule="evenodd"/>
<path d="M587.4 266.3 579.4 266.6 572.9 266.6 563.4 266.2 560.4 265.9 558.4 265.6 556.9 265.2 555.7 264.8 554.8 264.3 553.7 263.3 553.0 262.3 552.7 261.3 552.6 260.3 552.7 259.3 553.3 257.8 553.9 256.8 554.7 255.8 555.8 254.8 558.4 253.3 562.1 251.8 567.2 250.3 573.9 248.8 579.4 247.9 587.9 246.9 595.4 246.3 605.9 246.0 612.4 246.1 619.4 246.6 623.9 247.3 625.7 247.8 627.0 248.3 628.0 248.8 628.9 249.6 629.4 250.3 629.9 251.3 630.2 252.8 630.1 253.8 629.6 255.3 628.9 256.3 627.8 257.3 626.4 258.2 624.9 258.9 622.6 259.8 619.3 260.8 615.4 261.8 606.4 263.9 595.4 265.6 591.4 266.0 587.4 266.3ZM577.4 306.8 568.9 307.2 560.9 307.1 552.9 306.6 549.4 306.2 545.4 305.6 542.4 305.0 540.4 304.5 538.5 303.8 536.3 302.8 534.7 301.8 533.6 300.8 533.0 299.8 532.8 298.8 533.0 298.3 533.6 297.3 534.4 296.6 535.4 295.8 538.5 294.3 541.9 293.2 547.4 292.1 552.9 291.4 556.9 291.1 564.9 290.8 571.4 290.8 579.4 291.3 583.4 291.7 586.9 292.3 591.4 293.4 593.4 294.1 594.9 294.7 596.0 295.3 597.3 296.3 597.9 297.0 598.4 297.8 598.6 298.3 598.7 299.3 598.4 300.3 598.1 300.8 597.4 301.6 596.6 302.3 594.4 303.5 590.6 304.8 586.4 305.8 581.9 306.5 577.4 306.8Z" fill="#ddff00" fill-rule="evenodd"/>
<path d="M588.4 265.8 579.9 266.1 573.9 266.1 564.4 265.6 559.4 265.1 556.6 264.3 555.6 263.8 554.9 263.3 554.1 262.3 553.7 261.3 553.5 260.3 553.7 259.3 554.0 258.3 554.6 257.3 555.3 256.3 556.4 255.4 559.0 253.8 562.9 252.2 568.4 250.6 574.9 249.1 579.9 248.3 588.9 247.3 595.9 246.7 605.9 246.4 612.4 246.6 618.9 247.2 622.9 247.8 624.7 248.3 626.0 248.8 627.0 249.3 627.9 249.9 628.6 250.8 629.1 251.8 629.2 253.3 629.0 254.3 628.6 255.3 627.9 256.1 627.1 256.8 625.5 257.8 621.9 259.4 619.0 260.3 613.9 261.7 606.4 263.4 595.9 265.1 588.4 265.8ZM570.4 306.8 563.4 306.8 554.4 306.4 548.9 305.7 542.9 304.6 539.4 303.5 537.7 302.8 536.4 302.0 535.4 301.3 534.6 300.3 534.2 299.3 534.2 298.8 534.6 297.8 535.0 297.3 535.9 296.4 536.8 295.8 538.4 295.0 539.9 294.4 542.9 293.5 548.4 292.4 553.4 291.7 559.4 291.3 565.9 291.1 571.9 291.2 579.9 291.7 583.9 292.2 587.4 292.9 591.9 294.2 594.7 295.3 595.9 296.1 596.6 296.8 597.0 297.3 597.5 298.3 597.6 299.3 597.3 300.3 596.9 300.9 596.1 301.8 594.9 302.6 593.9 303.1 590.9 304.2 586.6 305.3 582.4 306.0 576.9 306.5 570.4 306.8Z" fill="#ecfd00" fill-rule="evenodd"/>
<path d="M588.9 265.3 580.4 265.7 575.4 265.7 567.9 265.3 561.4 264.7 559.5 264.3 557.9 263.8 556.7 263.3 555.9 262.8 555.4 262.3 554.8 261.3 554.7 260.8 554.6 259.8 554.9 258.8 555.3 257.8 556.6 256.3 557.9 255.3 559.4 254.4 563.1 252.8 567.9 251.3 574.4 249.8 579.9 248.8 587.9 247.8 594.9 247.3 604.4 247.0 609.9 247.1 615.4 247.5 620.4 248.1 623.9 248.9 625.4 249.5 626.6 250.3 627.4 251.0 627.9 251.9 628.1 252.8 628.1 253.8 627.7 254.8 626.9 255.8 625.6 256.8 623.9 257.8 620.2 259.3 613.4 261.3 605.9 263.0 595.9 264.6 588.9 265.3ZM573.4 306.3 565.9 306.5 556.4 306.1 551.4 305.7 546.1 304.8 541.8 303.8 539.9 303.1 538.2 302.3 537.4 301.8 536.3 300.8 535.7 299.8 535.5 298.8 535.9 297.9 536.3 297.3 537.4 296.3 538.2 295.8 540.4 294.8 543.7 293.8 548.5 292.8 553.4 292.1 558.9 291.7 565.9 291.5 571.9 291.6 579.4 292.1 582.9 292.5 586.4 293.1 590.4 294.2 593.4 295.4 594.4 296.0 595.5 296.8 595.9 297.3 596.4 298.3 596.5 299.3 596.4 299.8 595.9 300.7 595.4 301.3 593.9 302.4 590.9 303.6 587.4 304.6 583.4 305.4 579.9 305.9 573.4 306.3Z" fill="#fbfb00" fill-rule="evenodd"/>
<path d="M589.4 264.8 581.9 265.1 575.9 265.2 569.1 264.8 562.9 264.2 560.9 263.8 559.4 263.4 557.4 262.5 556.6 261.8 556.2 261.3 556.0 260.8 555.9 259.8 556.1 258.8 556.4 258.2 557.1 257.3 558.1 256.3 559.5 255.3 561.4 254.3 564.9 252.9 570.2 251.3 575.4 250.1 579.9 249.3 588.1 248.3 594.9 247.8 603.9 247.5 608.9 247.6 613.9 247.9 619.4 248.7 622.9 249.6 624.4 250.2 625.3 250.8 625.9 251.3 626.5 252.3 626.7 253.3 626.5 254.3 625.9 255.2 625.4 255.8 624.0 256.8 622.4 257.7 618.1 259.3 611.2 261.3 605.4 262.6 595.9 264.2 589.4 264.8ZM575.4 305.8 568.9 306.1 562.4 306.0 554.4 305.6 548.6 304.8 542.9 303.5 540.9 302.9 539.7 302.3 538.8 301.8 537.6 300.8 537.0 299.8 536.9 298.8 537.3 297.8 537.6 297.3 538.2 296.8 539.4 296.0 540.8 295.3 542.1 294.8 545.4 293.9 549.9 293.0 554.4 292.4 560.4 292.1 565.9 291.9 570.9 292.0 576.9 292.3 581.4 292.7 585.4 293.4 589.4 294.5 592.6 295.8 594.2 296.8 594.9 297.6 595.3 298.3 595.4 299.3 595.2 299.8 595.0 300.3 594.4 301.0 593.4 301.8 592.5 302.3 590.2 303.3 586.8 304.3 583.4 305.0 580.4 305.4 575.4 305.8Z" fill="#ffe800" fill-rule="evenodd"/>
<path d="M589.9 264.3 583.4 264.6 576.4 264.7 570.3 264.3 564.4 263.6 560.9 262.9 558.9 262.0 558.0 261.3 557.7 260.8 557.5 260.3 557.5 259.3 557.9 258.3 558.6 257.3 560.5 255.8 563.3 254.3 567.3 252.8 572.6 251.3 577.2 250.3 584.0 249.3 589.9 248.6 595.9 248.2 604.4 248.0 608.9 248.1 613.4 248.5 618.4 249.3 620.5 249.8 621.9 250.3 623.0 250.8 623.8 251.3 624.4 251.9 624.9 252.8 625.0 253.8 624.9 254.3 624.2 255.3 623.0 256.3 620.1 257.8 616.0 259.3 610.9 260.8 604.9 262.2 595.9 263.7 589.9 264.3ZM576.9 305.3 570.4 305.7 564.4 305.7 555.7 305.3 550.4 304.7 545.4 303.6 542.9 302.9 541.3 302.3 539.9 301.5 539.0 300.8 538.3 299.8 538.2 298.8 538.4 298.2 539.0 297.3 540.3 296.3 542.5 295.3 546.4 294.2 550.4 293.4 554.4 292.8 560.4 292.4 565.9 292.3 570.9 292.3 576.9 292.7 581.4 293.2 584.9 293.8 588.6 294.8 591.0 295.8 592.9 296.9 593.7 297.8 594.0 298.3 594.1 299.3 594.0 299.8 593.3 300.8 591.9 301.8 589.8 302.8 586.8 303.8 583.9 304.5 580.9 304.9 576.9 305.3Z" fill="#ffce00" fill-rule="evenodd"/>
<path d="M590.4 263.8 584.9 264.1 577.9 264.1 572.4 263.9 567.3 263.3 563.9 262.7 562.4 262.3 561.1 261.8 560.3 261.3 559.7 260.8 559.4 260.3 559.3 259.3 559.6 258.3 560.4 257.3 562.3 255.8 565.4 254.3 568.9 253.0 573.1 251.8 577.6 250.8 584.3 249.8 590.4 249.1 595.9 248.7 603.9 248.6 608.4 248.7 612.4 249.1 616.6 249.8 618.7 250.3 620.2 250.8 622.0 251.8 622.5 252.3 623.0 253.3 623.1 253.8 622.7 254.8 621.9 255.6 621.0 256.3 618.0 257.8 613.9 259.3 608.8 260.8 604.2 261.8 595.9 263.2 590.4 263.8ZM570.4 305.3 564.4 305.3 556.4 304.9 552.4 304.5 548.4 303.8 544.6 302.8 541.9 301.8 540.9 301.1 540.0 300.3 539.7 299.8 539.6 298.8 539.9 298.0 540.5 297.3 542.0 296.3 544.6 295.3 548.3 294.3 551.9 293.6 555.4 293.2 561.4 292.8 565.9 292.7 570.4 292.7 575.4 293.0 580.4 293.5 583.9 294.1 586.8 294.8 589.4 295.8 591.2 296.8 591.9 297.4 592.6 298.3 592.7 298.8 592.7 299.3 592.6 299.8 591.8 300.8 590.9 301.4 589.4 302.3 586.6 303.3 583.9 304.0 580.9 304.5 575.4 305.0 570.4 305.3Z" fill="#ffb400" fill-rule="evenodd"/>
<path d="M590.4 263.3 585.4 263.5 578.9 263.6 574.4 263.4 569.9 262.9 566.3 262.3 563.4 261.4 562.2 260.8 561.7 260.3 561.4 259.8 561.3 259.3 561.4 258.8 561.9 257.8 562.9 256.8 563.6 256.3 566.4 254.8 570.4 253.3 573.9 252.3 578.1 251.3 584.7 250.3 589.4 249.7 594.4 249.3 599.9 249.2 605.4 249.2 609.9 249.5 614.4 250.2 617.4 251.0 618.9 251.7 619.9 252.3 620.4 252.8 620.7 253.3 620.8 253.8 620.7 254.3 620.5 254.8 620.1 255.3 618.8 256.3 615.8 257.8 611.8 259.3 608.4 260.3 603.9 261.3 595.9 262.7 590.4 263.3ZM572.4 304.8 567.4 305.0 561.9 304.8 555.4 304.4 550.9 303.8 546.7 302.8 544.9 302.2 542.9 301.3 542.1 300.8 541.5 300.3 541.2 299.8 541.0 299.3 541.0 298.8 541.2 298.3 541.6 297.8 542.8 296.8 545.1 295.8 548.9 294.7 551.9 294.1 555.4 293.6 560.9 293.2 565.9 293.1 569.9 293.1 573.9 293.3 579.9 293.9 582.9 294.4 585.9 295.1 588.4 296.1 590.3 297.3 591.1 298.3 591.2 298.8 591.2 299.3 591.1 299.8 590.2 300.8 588.7 301.8 586.3 302.8 583.9 303.5 580.9 304.0 572.4 304.8Z" fill="#ff9b00" fill-rule="evenodd"/>
<path d="M589.9 262.8 584.9 263.0 578.9 263.0 574.9 262.8 570.9 262.3 567.9 261.7 565.3 260.8 564.5 260.3 564.0 259.8 563.8 259.3 563.7 258.8 564.2 257.8 564.6 257.3 565.9 256.3 568.8 254.8 572.8 253.3 576.4 252.3 579.4 251.7 585.3 250.8 590.4 250.2 594.9 249.9 600.4 249.8 605.4 249.9 609.4 250.2 612.8 250.8 615.9 251.8 616.9 252.3 617.6 252.8 618.0 253.3 618.2 253.8 618.3 254.3 618.1 254.8 617.7 255.3 616.5 256.3 613.6 257.8 609.5 259.3 605.4 260.4 599.4 261.6 594.4 262.4 589.9 262.8ZM573.4 304.3 568.4 304.5 563.4 304.5 555.9 304.0 551.9 303.5 547.9 302.5 544.8 301.3 543.3 300.3 542.9 299.8 542.7 299.3 542.7 298.8 542.9 298.3 543.3 297.8 544.8 296.8 547.2 295.8 550.9 294.8 553.7 294.3 556.4 294.0 561.4 293.7 565.9 293.5 569.9 293.5 574.2 293.8 579.4 294.3 582.4 294.8 584.9 295.4 587.1 296.3 588.7 297.3 589.5 298.3 589.7 298.8 589.7 299.3 589.5 299.8 589.2 300.3 588.0 301.3 585.8 302.3 583.4 303.0 580.9 303.5 573.4 304.3Z" fill="#ff8100" fill-rule="evenodd"/>
<path d="M588.9 262.3 584.9 262.4 579.4 262.4 576.4 262.2 572.9 261.8 569.9 261.1 567.7 260.3 567.0 259.8 566.6 259.3 566.4 258.8 566.5 258.3 567.1 257.3 567.7 256.8 569.2 255.8 571.2 254.8 573.9 253.8 576.9 252.9 579.9 252.3 586.2 251.3 590.4 250.8 594.4 250.5 598.4 250.4 604.4 250.5 607.7 250.8 610.6 251.3 612.9 252.0 614.5 252.8 615.1 253.3 615.5 253.8 615.6 254.3 615.5 254.8 615.2 255.3 614.2 256.3 611.4 257.8 608.7 258.8 604.9 259.9 597.6 261.3 593.4 261.9 588.9 262.3ZM573.9 303.8 568.9 304.1 564.4 304.1 557.9 303.7 553.4 303.2 549.4 302.3 546.8 301.3 545.2 300.3 544.8 299.8 544.6 299.3 544.6 298.8 544.8 298.3 545.2 297.8 546.8 296.8 548.9 296.0 551.2 295.3 553.8 294.8 556.4 294.5 561.4 294.1 565.9 293.9 569.4 294.0 573.4 294.2 579.1 294.8 581.4 295.2 583.9 295.8 585.4 296.4 587.1 297.3 588.0 298.3 588.1 298.8 588.1 299.3 588.0 299.8 587.6 300.3 586.4 301.2 585.2 301.8 583.4 302.4 580.9 303.0 573.9 303.8Z" fill="#ff6900" fill-rule="evenodd"/>
<path d="M593.4 261.3 589.4 261.7 585.4 261.8 579.9 261.7 576.4 261.4 573.4 260.9 571.3 260.3 570.3 259.8 569.6 259.3 569.3 258.8 569.3 258.3 569.4 257.8 569.8 257.3 570.9 256.3 572.7 255.3 575.4 254.2 578.4 253.4 581.2 252.8 586.9 251.9 590.9 251.4 594.4 251.2 598.4 251.1 603.9 251.3 606.4 251.5 608.9 252.0 610.9 252.7 612.0 253.3 612.5 253.8 612.8 254.3 612.8 254.8 612.7 255.3 611.7 256.3 610.0 257.3 607.6 258.3 604.9 259.1 601.9 259.8 596.9 260.8 593.4 261.3ZM573.9 303.3 569.4 303.6 564.9 303.6 559.1 303.3 554.4 302.8 550.9 302.0 548.4 301.1 547.2 300.3 546.7 299.8 546.5 299.3 546.5 298.8 546.7 298.3 547.2 297.8 548.8 296.8 550.4 296.2 552.9 295.5 555.4 295.1 558.6 294.8 562.9 294.5 566.9 294.4 570.4 294.5 574.4 294.8 578.7 295.3 581.4 295.8 583.4 296.4 585.3 297.3 585.9 297.8 586.3 298.3 586.5 298.8 586.4 299.5 585.9 300.3 584.4 301.3 583.1 301.8 579.9 302.6 573.9 303.3Z" fill="#ff5000" fill-rule="evenodd"/>
<path d="M591.9 260.8 588.4 261.0 584.9 261.1 579.9 260.9 577.4 260.7 574.9 260.1 574.0 259.8 573.0 259.3 572.5 258.8 572.3 258.3 572.3 257.8 573.1 256.8 574.5 255.8 576.9 254.8 578.4 254.3 580.5 253.8 585.8 252.8 591.4 252.1 594.4 251.9 597.4 251.9 601.4 252.1 604.9 252.4 607.0 252.8 608.4 253.3 609.2 253.8 609.7 254.3 609.9 254.8 609.8 255.3 609.5 255.8 609.0 256.3 607.3 257.3 605.4 258.0 602.7 258.8 598.4 259.8 595.4 260.4 591.9 260.8ZM573.4 302.8 568.9 303.1 564.9 303.1 559.5 302.8 555.1 302.3 552.4 301.7 550.0 300.8 549.2 300.3 548.7 299.8 548.5 299.3 548.5 298.8 548.7 298.3 549.2 297.8 550.0 297.3 551.9 296.5 553.9 296.0 555.9 295.7 559.9 295.2 566.9 294.9 570.4 295.0 573.9 295.3 577.8 295.8 580.4 296.3 582.2 296.8 583.3 297.3 584.0 297.8 584.5 298.3 584.7 298.8 584.7 299.3 584.5 299.8 584.0 300.3 583.2 300.8 582.1 301.3 579.4 302.0 573.4 302.8Z" fill="#ff3700" fill-rule="evenodd"/>
<path d="M593.9 259.8 590.9 260.1 587.4 260.3 583.9 260.2 579.9 259.9 578.4 259.6 576.9 259.1 576.2 258.8 575.9 258.5 575.7 258.3 575.6 257.8 575.8 257.3 576.3 256.8 577.0 256.3 579.2 255.3 580.9 254.8 585.3 253.8 590.9 253.0 595.9 252.8 600.9 253.1 602.9 253.4 604.7 253.8 605.8 254.3 606.3 254.8 606.4 255.3 606.3 255.8 605.8 256.3 605.0 256.8 603.9 257.3 599.0 258.8 593.9 259.8ZM572.4 302.3 568.4 302.6 564.9 302.6 560.6 302.3 556.3 301.8 553.9 301.3 551.9 300.5 551.0 299.8 550.7 299.3 550.7 298.8 550.9 298.3 551.4 297.9 552.5 297.3 553.9 296.8 555.4 296.4 560.9 295.7 566.9 295.4 569.9 295.5 573.1 295.8 576.6 296.3 579.0 296.8 580.7 297.3 581.7 297.8 582.3 298.3 582.6 298.8 582.6 299.3 582.3 299.8 581.7 300.3 580.7 300.8 578.9 301.3 576.4 301.8 572.4 302.3Z" fill="#ff1e00" fill-rule="evenodd"/>
<path d="M593.9 258.8 589.4 259.3 587.4 259.3 584.9 259.1 582.9 258.8 581.1 258.3 580.4 257.8 580.4 257.3 580.9 256.8 581.7 256.3 584.4 255.3 587.9 254.5 590.9 254.0 594.4 253.9 597.4 254.1 599.9 254.6 600.4 254.8 601.2 255.3 601.4 255.8 601.1 256.3 600.5 256.8 599.4 257.3 596.4 258.3 593.9 258.8ZM570.9 301.8 567.9 302.0 564.9 302.0 562.4 301.8 558.5 301.3 555.8 300.8 554.4 300.3 553.6 299.8 553.2 299.3 553.2 298.8 553.6 298.3 554.4 297.8 556.4 297.2 558.4 296.8 562.3 296.3 566.9 296.1 570.9 296.3 574.8 296.8 576.9 297.3 578.4 297.8 579.4 298.3 579.8 298.8 579.8 299.3 579.4 299.8 578.4 300.3 576.9 300.8 574.7 301.3 570.9 301.8Z" fill="#ff0400" fill-rule="evenodd"/>
<path d="M592.4 257.3 590.9 257.5 589.4 257.4 588.9 257.3 588.4 256.8 589.2 256.3 591.4 255.8 592.9 255.9 594.2 256.3 593.9 256.8 592.4 257.3ZM571.9 300.8 569.4 301.1 566.9 301.2 564.4 301.1 561.9 300.9 559.1 300.3 557.7 299.8 557.0 299.3 557.0 298.8 557.7 298.3 558.4 298.0 560.9 297.4 563.9 297.0 566.9 296.9 569.4 297.0 572.4 297.4 574.4 297.9 575.3 298.3 575.9 298.8 575.9 299.3 575.3 299.8 574.1 300.3 571.9 300.8Z" fill="#ff0000" fill-rule="evenodd"/>
<path d="M568.9 299.8 566.9 300.0 564.7 299.8 563.3 299.3 563.2 298.8 564.6 298.3 566.9 298.1 569.3 298.3 570.5 298.8 570.5 299.3 568.9 299.8Z" fill="#ff0000" fill-rule="evenodd"/>
</g>
<path d="M514.4 232.2 525.4 231.9 537.4 231.8 545.4 231.5 549.4 231.1 559.0 229.8 564.5 228.8 571.0 227.3 581.4 224.5 583.9 223.9 586.4 223.6 588.4 223.5 589.9 223.6 595.4 224.9 597.4 225.2 599.4 225.3 600.9 225.2 602.9 224.7 604.9 224.0 610.4 220.9 612.4 220.0 614.9 219.3 618.4 218.9 622.4 218.8 627.9 218.9 630.4 219.2 632.9 219.6 639.4 220.9 641.9 221.5 652.4 225.3M652.4 274.5 648.4 274.3 644.4 274.4 638.9 274.7 635.4 275.1 631.3 275.8 627.1 276.8 625.7 277.3 625.0 277.8 624.8 278.3 625.2 278.8 625.9 279.1 628.1 279.8 630.9 280.3 634.9 280.8 638.9 281.0 643.9 281.1 648.4 281.0 652.4 280.8M570.4 279.3 571.1 278.8 569.9 278.5 568.9 278.4 567.9 278.5 566.7 278.8 567.4 279.3 568.9 279.4 570.4 279.3M652.4 310.3 650.7 310.8 650.0 311.3 649.7 311.8 649.7 312.3 650.1 312.8 651.1 313.3 652.4 313.6" fill="none" stroke="#1a1a1a" stroke-opacity="0.75" stroke-width="0.55"/>
<path d="M514.4 257.1 520.6 251.3 522.9 249.5 524.9 248.1 527.1 246.8 529.4 245.6 537.4 242.2 542.9 240.2 553.9 237.2 559.9 236.1 569.9 234.5 578.4 233.4 588.4 232.4 600.9 231.9 609.9 231.0 614.4 230.7 620.4 230.5 625.9 230.5 628.4 230.7 630.9 231.0 639.9 233.1 644.9 234.6 652.4 237.3M652.4 267.2 647.4 269.0 641.9 270.4 630.4 272.6 619.5 274.3 614.4 275.3 611.0 276.3 608.7 277.3 607.9 277.8 607.5 278.3 607.4 278.8 607.6 279.3 608.2 279.8 609.0 280.3 611.6 281.3 615.1 282.3 618.9 283.2 622.9 283.9 638.4 286.2 642.9 287.0 647.9 288.3 650.5 289.3 652.4 290.3M573.5 281.8 577.9 281.3 580.9 280.6 582.0 280.3 583.1 279.8 583.7 279.3 583.8 278.8 583.4 278.3 582.5 277.8 581.1 277.3 579.0 276.8 574.4 276.2 568.9 275.9 563.9 276.2 560.0 276.8 558.1 277.3 556.9 277.8 556.1 278.3 555.7 278.8 555.7 279.3 556.1 279.8 557.0 280.3 558.3 280.8 560.5 281.3 563.4 281.7 566.4 281.9 569.9 281.9 573.5 281.8M652.4 304.3 646.4 306.3 642.6 307.8 639.8 309.3 634.9 312.6 632.4 313.8 628.9 315.0 623.3 316.3" fill="none" stroke="#1a1a1a" stroke-opacity="0.75" stroke-width="0.55"/>
<path d="M652.4 254.8 651.1 256.8 649.4 258.8 647.4 260.8 644.9 262.8 642.4 264.5 639.9 265.9 633.2 268.8 630.4 269.7 627.4 270.4 613.4 272.6 599.4 275.1 594.9 275.7 589.9 275.7 575.9 274.6 571.4 274.5 566.9 274.5 562.9 274.7 558.9 275.1 542.9 277.3 541.4 277.4 540.4 277.2 539.4 276.9 538.4 276.5 536.9 275.5 534.9 273.8 532.6 271.3 530.9 269.2 529.7 267.3 529.1 265.8 528.7 263.8 528.8 261.8 529.3 259.8 530.2 257.8 531.2 256.3 533.6 253.3 536.1 250.8 538.5 248.8 541.4 246.9 543.9 245.6 549.0 243.3 551.9 242.2 554.9 241.2 557.9 240.5 562.4 239.6 572.4 238.1 579.4 237.2 587.9 236.4 608.9 235.2 620.9 234.9 625.4 234.9 628.4 235.1 631.4 235.7 634.4 236.5 640.4 238.5 643.9 240.0 646.4 241.5 648.9 243.3 650.9 245.3 652.4 247.3M514.4 286.2 518.8 285.3 524.9 283.8 536.9 280.4 538.4 280.0 539.9 279.9 541.9 280.0 547.3 281.3 553.1 282.3 558.4 283.0 563.4 283.4 567.9 283.5 572.9 283.5 577.9 283.3 588.9 282.5 592.4 282.4 594.9 282.6 598.9 283.2 608.4 285.4 614.4 287.1 620.4 289.1 627.8 291.8 632.4 293.8 634.2 294.8 635.6 295.8 636.6 296.8 637.2 297.8 637.4 298.8 637.3 299.8 636.8 300.8 635.9 301.8 634.5 302.8 632.8 303.8 630.6 304.8 626.9 306.3 615.9 310.2 608.4 312.4 596.4 315.1 593.4 315.6 587.7 316.3M545.1 316.3 538.4 315.5 514.4 311.7" fill="none" stroke="#1a1a1a" stroke-opacity="0.75" stroke-width="0.55"/>
<path d="M559.4 273.3 554.4 273.6 550.4 273.4 546.8 272.8 544.9 272.3 543.4 271.7 542.4 271.2 541.0 270.3 539.9 269.3 539.0 268.3 538.3 267.3 537.5 265.8 537.2 264.8 536.9 263.3 536.8 262.3 536.9 260.8 537.3 259.3 537.8 257.8 539.2 255.3 540.3 253.8 541.4 252.7 542.9 251.3 544.3 250.3 549.2 247.3 552.9 245.4 556.4 244.2 562.4 242.8 569.9 241.4 577.4 240.4 586.9 239.5 594.4 238.9 608.9 238.2 618.9 238.0 625.4 238.2 628.4 238.4 631.4 239.1 634.4 240.3 639.4 242.8 641.6 244.3 643.2 245.8 644.3 247.3 645.2 249.3 645.5 250.8 645.5 251.8 645.2 253.8 644.6 255.3 644.0 256.3 642.9 257.8 642.0 258.8 640.4 260.3 639.1 261.3 634.4 264.4 630.9 266.2 627.9 267.3 622.4 268.5 609.9 270.7 599.4 272.3 593.9 272.9 590.4 273.2 586.4 273.2 568.4 273.0 559.4 273.3M514.4 290.9 521.9 289.1 537.9 285.7 540.9 285.2 543.4 284.9 547.4 284.7 551.4 284.6 564.9 285.0 582.9 285.0 588.9 285.3 593.9 285.8 597.9 286.6 606.4 289.0 611.4 290.8 615.6 292.8 617.2 293.8 618.5 294.8 619.6 295.8 620.4 296.8 620.9 297.8 621.1 298.8 621.0 299.8 620.6 300.8 619.8 301.8 618.3 303.3 616.9 304.3 615.2 305.3 613.2 306.3 610.4 307.4 605.4 309.1 596.4 311.5 590.4 312.4 583.4 313.2 574.4 313.7 566.4 313.8 555.4 313.5 548.4 313.1 541.9 312.4 536.9 311.7 522.9 309.1 514.4 307.2" fill="none" stroke="#1a1a1a" stroke-opacity="0.75" stroke-width="0.55"/>
<path d="M565.9 271.3 556.9 271.4 553.4 271.2 551.6 270.8 549.9 270.3 547.9 269.3 546.3 268.3 544.9 267.2 543.6 265.8 542.7 264.3 542.3 262.8 542.2 261.3 542.5 259.8 543.2 257.8 544.1 256.3 545.3 254.8 546.8 253.3 548.5 251.8 550.5 250.3 552.4 249.1 554.4 248.1 556.3 247.3 558.4 246.6 561.9 245.7 565.4 244.9 574.4 243.4 584.4 242.3 594.4 241.4 605.9 240.8 612.9 240.7 622.4 240.8 625.4 241.0 627.9 241.3 629.8 241.8 631.4 242.4 633.1 243.3 634.9 244.6 636.9 246.3 638.2 247.8 638.9 248.9 639.5 250.3 639.7 251.3 639.7 252.3 639.5 253.8 639.1 254.8 638.6 255.8 637.0 257.8 634.5 260.3 631.9 262.3 629.4 263.7 626.4 264.8 620.9 266.1 610.4 268.1 603.9 269.2 593.9 270.6 589.4 271.0 583.9 271.2 565.9 271.3M514.4 296.1 515.7 295.3 518.0 294.3 520.6 293.3 523.9 292.3 536.4 289.1 542.4 287.9 549.4 287.1 554.9 286.8 567.9 286.8 578.9 287.0 584.9 287.3 590.9 288.1 595.4 288.9 600.0 290.3 605.9 292.6 609.1 294.3 610.4 295.3 611.4 296.3 612.1 297.3 612.5 298.8 612.5 299.3 612.3 300.3 611.7 301.3 610.8 302.3 609.4 303.4 608.0 304.3 605.9 305.3 598.9 307.9 594.4 309.1 587.4 310.3 581.4 310.9 573.4 311.2 565.4 311.4 555.4 311.1 548.4 310.6 540.9 309.7 534.9 308.5 523.8 305.8 520.5 304.8 517.8 303.8 515.6 302.8 514.4 302.1" fill="none" stroke="#1a1a1a" stroke-opacity="0.75" stroke-width="0.55"/>
<path d="M587.9 268.8 577.9 269.2 563.9 269.2 558.4 269.0 556.4 268.9 554.9 268.6 553.4 268.2 551.6 267.3 550.1 266.3 549.1 265.3 548.4 264.3 547.7 262.8 547.4 261.3 547.6 259.8 547.8 258.8 548.5 257.3 549.4 255.8 550.4 254.6 551.7 253.3 552.9 252.3 554.4 251.3 555.9 250.6 559.9 249.1 565.4 247.6 572.9 246.1 579.9 245.1 592.4 243.9 604.9 243.3 613.9 243.2 622.9 243.6 627.4 244.2 628.9 244.7 629.9 245.2 631.4 246.1 632.7 247.3 633.4 248.3 634.3 249.8 634.7 251.3 634.8 252.3 634.8 253.3 634.4 254.8 633.7 256.3 632.6 257.8 631.1 259.3 629.4 260.5 627.4 261.5 624.4 262.6 620.9 263.5 608.4 266.1 595.9 268.0 587.9 268.8M569.9 309.3 562.4 309.3 553.4 308.9 545.4 308.0 539.4 307.0 536.5 306.3 533.3 305.3 529.0 303.8 526.7 302.8 524.9 301.8 523.7 300.8 523.1 299.8 523.0 298.8 523.4 297.8 523.9 297.2 525.0 296.3 526.8 295.3 529.1 294.3 533.3 292.8 536.4 291.8 539.4 291.0 544.4 290.1 551.9 289.1 556.4 288.8 565.4 288.6 572.9 288.8 581.9 289.2 587.4 289.9 593.4 291.1 595.4 291.6 597.4 292.3 599.6 293.3 601.4 294.3 602.9 295.3 604.0 296.3 604.9 297.3 605.3 298.3 605.4 299.3 605.1 300.3 604.4 301.3 603.4 302.3 602.0 303.3 599.9 304.5 597.9 305.5 595.4 306.4 593.4 306.9 589.9 307.6 583.9 308.5 579.4 308.9 569.9 309.3" fill="none" stroke="#1a1a1a" stroke-opacity="0.75" stroke-width="0.55"/>
<path d="M581.9 266.8 574.4 266.9 564.9 266.6 560.4 266.3 556.9 265.7 555.7 265.3 554.7 264.8 553.9 264.3 553.0 263.3 552.4 262.3 552.1 261.3 552.0 260.3 552.2 259.3 552.7 257.8 553.3 256.8 554.1 255.8 555.1 254.8 556.4 253.9 557.5 253.3 561.4 251.7 566.4 250.2 573.9 248.5 579.4 247.6 587.9 246.6 595.4 246.0 605.9 245.7 612.9 245.8 620.4 246.3 624.4 247.0 627.4 247.9 628.4 248.5 629.3 249.3 630.0 250.3 630.5 251.3 630.7 252.8 630.5 254.3 629.9 255.6 629.0 256.8 627.9 257.8 626.4 258.6 624.4 259.5 622.2 260.3 618.7 261.3 612.8 262.8 608.2 263.8 603.9 264.6 596.9 265.6 592.4 266.2 587.9 266.5 581.9 266.8M572.9 307.3 565.4 307.4 555.4 307.1 549.4 306.5 542.5 305.3 540.4 304.8 537.9 303.9 536.4 303.3 534.6 302.3 533.2 301.3 532.3 300.3 532.1 299.8 532.0 298.8 532.1 298.3 532.8 297.3 534.6 295.8 537.6 294.3 539.9 293.5 541.9 292.9 547.7 291.8 552.9 291.1 558.4 290.8 565.9 290.5 572.4 290.7 580.4 291.1 584.9 291.7 588.9 292.5 593.4 293.7 595.9 294.8 596.9 295.4 598.0 296.3 598.8 297.3 599.2 298.3 599.3 299.3 599.0 300.3 598.4 301.3 597.9 301.8 596.9 302.6 595.7 303.3 593.4 304.3 588.9 305.5 583.9 306.4 579.9 306.9 572.9 307.3" fill="none" stroke="#1a1a1a" stroke-opacity="0.75" stroke-width="0.55"/>
<path d="M583.9 264.3 578.4 264.4 573.9 264.2 568.9 263.8 563.9 263.1 561.4 262.4 559.9 261.7 558.9 260.8 558.6 260.3 558.5 259.3 558.9 258.3 559.7 257.3 561.6 255.8 564.5 254.3 568.6 252.8 573.4 251.5 577.9 250.5 584.4 249.6 590.4 248.9 596.4 248.5 604.4 248.4 608.9 248.5 613.4 248.9 618.3 249.8 620.1 250.3 621.4 250.8 623.0 251.8 623.5 252.3 623.9 253.3 623.7 254.3 623.4 254.9 622.5 255.8 621.0 256.8 617.6 258.3 611.4 260.3 605.3 261.8 596.4 263.3 590.4 264.0 583.9 264.3M573.4 305.3 567.9 305.5 561.9 305.4 554.9 305.0 549.9 304.3 545.4 303.3 542.9 302.5 541.4 301.9 540.4 301.2 539.4 300.3 539.1 299.8 539.0 298.8 539.4 297.9 539.9 297.3 541.3 296.3 543.7 295.3 547.3 294.3 550.9 293.6 554.9 293.0 560.9 292.7 565.9 292.5 569.9 292.6 574.9 292.8 580.4 293.3 583.9 293.9 587.5 294.8 590.1 295.8 591.9 296.9 592.9 297.8 593.2 298.3 593.3 299.3 593.1 299.8 592.4 300.8 591.0 301.8 588.4 302.9 585.6 303.8 582.4 304.5 579.8 304.8 573.4 305.3" fill="none" stroke="#1a1a1a" stroke-opacity="0.75" stroke-width="0.55"/>
<path d="M592.9 260.9 589.4 261.1 585.9 261.2 580.4 261.1 577.9 260.9 574.9 260.4 573.2 259.8 572.3 259.3 571.8 258.8 571.6 258.3 571.7 257.8 572.0 257.3 573.1 256.3 575.0 255.3 576.9 254.6 579.4 253.9 582.1 253.3 586.9 252.5 590.4 252.0 593.4 251.8 596.9 251.7 604.4 252.1 605.9 252.3 608.0 252.8 609.4 253.4 609.9 253.8 610.4 254.3 610.5 254.8 610.4 255.3 610.1 255.8 608.8 256.8 606.7 257.8 603.5 258.8 599.2 259.8 592.9 260.9M574.4 302.8 569.4 303.2 565.4 303.3 559.9 302.9 554.9 302.4 552.2 301.8 549.6 300.8 548.8 300.3 548.3 299.8 548.1 299.3 548.1 298.8 548.3 298.3 548.8 297.8 549.6 297.3 551.9 296.4 553.9 295.9 556.4 295.5 559.9 295.1 566.9 294.8 569.9 294.9 573.4 295.1 577.4 295.6 580.4 296.1 582.4 296.7 583.7 297.3 584.4 297.8 584.9 298.3 585.1 298.8 585.1 299.3 584.9 299.7 584.4 300.3 583.7 300.8 582.6 301.3 579.9 302.1 574.4 302.8" fill="none" stroke="#1a1a1a" stroke-opacity="0.75" stroke-width="0.55"/>
</g>
<rect x="515.4" y="190.3" width="136.1" height="125.3" fill="none" stroke="#000" stroke-width="1.4"/>
<line x1="515.4" y1="189.6" x2="515.4" y2="316.3" stroke="#000" stroke-width="1.7"/>
<line x1="515.6" y1="315.6" x2="515.6" y2="319" stroke="#000" stroke-width="1.5"/>
<line x1="526.07" y1="315.6" x2="526.07" y2="318" stroke="#000" stroke-width="1.5"/>
<line x1="536.54" y1="315.6" x2="536.54" y2="319" stroke="#000" stroke-width="1.5"/>
<line x1="547.01" y1="315.6" x2="547.01" y2="318" stroke="#000" stroke-width="1.5"/>
<line x1="557.48" y1="315.6" x2="557.48" y2="319" stroke="#000" stroke-width="1.5"/>
<line x1="567.95" y1="315.6" x2="567.95" y2="318" stroke="#000" stroke-width="1.5"/>
<line x1="578.42" y1="315.6" x2="578.42" y2="319" stroke="#000" stroke-width="1.5"/>
<line x1="588.89" y1="315.6" x2="588.89" y2="318" stroke="#000" stroke-width="1.5"/>
<line x1="599.36" y1="315.6" x2="599.36" y2="319" stroke="#000" stroke-width="1.5"/>
<line x1="609.83" y1="315.6" x2="609.83" y2="318" stroke="#000" stroke-width="1.5"/>
<line x1="620.3" y1="315.6" x2="620.3" y2="319" stroke="#000" stroke-width="1.5"/>
<line x1="630.77" y1="315.6" x2="630.77" y2="318" stroke="#000" stroke-width="1.5"/>
<line x1="641.24" y1="315.6" x2="641.24" y2="319" stroke="#000" stroke-width="1.5"/>
<line x1="515.4" y1="315.4" x2="512.4" y2="315.4" stroke="#000" stroke-width="1.5"/>
<line x1="515.4" y1="304.98" x2="513.4" y2="304.98" stroke="#000" stroke-width="1.5"/>
<line x1="515.4" y1="294.55" x2="512.4" y2="294.55" stroke="#000" stroke-width="1.5"/>
<line x1="515.4" y1="284.13" x2="513.4" y2="284.13" stroke="#000" stroke-width="1.5"/>
<line x1="515.4" y1="273.7" x2="512.4" y2="273.7" stroke="#000" stroke-width="1.5"/>
<line x1="515.4" y1="263.28" x2="513.4" y2="263.28" stroke="#000" stroke-width="1.5"/>
<line x1="515.4" y1="252.85" x2="512.4" y2="252.85" stroke="#000" stroke-width="1.5"/>
<line x1="515.4" y1="242.43" x2="513.4" y2="242.43" stroke="#000" stroke-width="1.5"/>
<line x1="515.4" y1="232" x2="512.4" y2="232" stroke="#000" stroke-width="1.5"/>
<line x1="515.4" y1="221.58" x2="513.4" y2="221.58" stroke="#000" stroke-width="1.5"/>
<line x1="515.4" y1="211.15" x2="512.4" y2="211.15" stroke="#000" stroke-width="1.5"/>
<line x1="515.4" y1="200.73" x2="513.4" y2="200.73" stroke="#000" stroke-width="1.5"/>
<line x1="515.4" y1="190.3" x2="512.4" y2="190.3" stroke="#000" stroke-width="1.5"/>
<text x="493.5" y="322.1" font-size="12" textLength="17.1" lengthAdjust="spacingAndGlyphs" fill="#000" font-family='"Liberation Sans", sans-serif' font-weight="bold">1.0</text>
<text x="493.5" y="301.25" font-size="12" textLength="17.1" lengthAdjust="spacingAndGlyphs" fill="#000" font-family='"Liberation Sans", sans-serif' font-weight="bold">1.5</text>
<text x="493.5" y="280.4" font-size="12" textLength="17.1" lengthAdjust="spacingAndGlyphs" fill="#000" font-family='"Liberation Sans", sans-serif' font-weight="bold">2.0</text>
<text x="493.5" y="259.55" font-size="12" textLength="17.1" lengthAdjust="spacingAndGlyphs" fill="#000" font-family='"Liberation Sans", sans-serif' font-weight="bold">2.5</text>
<text x="493.5" y="238.7" font-size="12" textLength="17.1" lengthAdjust="spacingAndGlyphs" fill="#000" font-family='"Liberation Sans", sans-serif' font-weight="bold">3.0</text>
<text x="493.5" y="217.85" font-size="12" textLength="17.1" lengthAdjust="spacingAndGlyphs" fill="#000" font-family='"Liberation Sans", sans-serif' font-weight="bold">3.5</text>
<text x="493.5" y="197" font-size="12" textLength="17.1" lengthAdjust="spacingAndGlyphs" fill="#000" font-family='"Liberation Sans", sans-serif' font-weight="bold">4.0</text>
<text x="511.7" y="335" font-size="12" textLength="6.4" lengthAdjust="spacingAndGlyphs" fill="#000" font-family='"Liberation Sans", sans-serif' font-weight="bold">0</text>
<text x="532.64" y="335" font-size="12" textLength="6.4" lengthAdjust="spacingAndGlyphs" fill="#000" font-family='"Liberation Sans", sans-serif' font-weight="bold">2</text>
<text x="553.58" y="335" font-size="12" textLength="6.4" lengthAdjust="spacingAndGlyphs" fill="#000" font-family='"Liberation Sans", sans-serif' font-weight="bold">4</text>
<text x="574.52" y="335" font-size="12" textLength="6.4" lengthAdjust="spacingAndGlyphs" fill="#000" font-family='"Liberation Sans", sans-serif' font-weight="bold">6</text>
<text x="595.46" y="335" font-size="12" textLength="6.4" lengthAdjust="spacingAndGlyphs" fill="#000" font-family='"Liberation Sans", sans-serif' font-weight="bold">8</text>
<text x="612.7" y="335" font-size="12" textLength="13.8" lengthAdjust="spacingAndGlyphs" fill="#000" font-family='"Liberation Sans", sans-serif' font-weight="bold">10</text>
<text x="633.64" y="335" font-size="12" textLength="13.8" lengthAdjust="spacingAndGlyphs" fill="#000" font-family='"Liberation Sans", sans-serif' font-weight="bold">12</text>
<text transform="translate(483.9 280.2) rotate(-90)" font-size="10.6" textLength="49.2" lengthAdjust="spacingAndGlyphs" font-weight="bold" fill="#000" font-family='"Liberation Sans", sans-serif'>R+<tspan font-family='"Liberation Serif", serif' font-size="12.5">&#945;</tspan> (&#197;)</text>
<text x="563.1" y="352.3" font-size="13.2" font-weight="bold" fill="#000" textLength="35.8" lengthAdjust="spacingAndGlyphs" font-family='"Liberation Serif", serif'>k (<tspan font-family='"Liberation Sans", sans-serif' font-size="14">&#197;</tspan><tspan font-size="8" dy="-6" font-family='"Liberation Sans", sans-serif'>-1</tspan><tspan dy="6">)</tspan></text>
<text x="518.8" y="203.6" font-size="11.6" textLength="67.2" lengthAdjust="spacingAndGlyphs" fill="#fff" font-family='"Liberation Sans", sans-serif' font-weight="bold">AZ0.3-SNCM</text>
<text x="621.2" y="203.8" font-size="11.8" textLength="27" lengthAdjust="spacingAndGlyphs" fill="#fff" font-family='"Liberation Sans", sans-serif' font-weight="bold">80 th</text>
<text x="578.5" y="262" font-size="12" textLength="25.1" lengthAdjust="spacingAndGlyphs" fill="#000" font-family='"Liberation Sans", sans-serif' font-weight="bold">Ni-M</text>
<text x="551.9" y="304" font-size="12" textLength="23.2" lengthAdjust="spacingAndGlyphs" fill="#000" font-family='"Liberation Sans", sans-serif' font-weight="bold">Ni-O</text>
<linearGradient id="cbf" x1="0" y1="0" x2="0" y2="1"><stop offset="0.000" stop-color="#ff0000"/><stop offset="0.045" stop-color="#ff0000"/><stop offset="0.090" stop-color="#ff3c00"/><stop offset="0.145" stop-color="#ff8200"/><stop offset="0.190" stop-color="#ffbe00"/><stop offset="0.235" stop-color="#fffa00"/><stop offset="0.280" stop-color="#dcff00"/><stop offset="0.320" stop-color="#96fa00"/><stop offset="0.380" stop-color="#3cf000"/><stop offset="0.480" stop-color="#00e400"/><stop offset="0.580" stop-color="#00eb78"/><stop offset="0.640" stop-color="#00eeb9"/><stop offset="0.720" stop-color="#00eef0"/><stop offset="0.783" stop-color="#00beff"/><stop offset="0.843" stop-color="#0078ff"/><stop offset="0.892" stop-color="#003cff"/><stop offset="0.952" stop-color="#0000f0"/><stop offset="0.979" stop-color="#0000d7"/><stop offset="0.980" stop-color="#000000"/><stop offset="1.000" stop-color="#000000"/></linearGradient><rect x="671.5" y="193.0" width="10.4" height="122.6" fill="url(#cbf)"/>
<text x="666.7" y="189.3" font-size="9.2" textLength="18.3" lengthAdjust="spacingAndGlyphs" fill="#000" font-family='"Liberation Sans", sans-serif' font-weight="bold">Max</text>
<text x="665.8" y="328.4" font-size="9.2" textLength="17.5" lengthAdjust="spacingAndGlyphs" fill="#000" font-family='"Liberation Sans", sans-serif' font-weight="bold">Min</text>
<text x="652.7" y="201.2" font-size="9" textLength="18.3" lengthAdjust="spacingAndGlyphs" fill="#000" font-family='"Liberation Sans", sans-serif' font-weight="bold">0.65</text>
<text x="652.7" y="228.2" font-size="9" textLength="18.3" lengthAdjust="spacingAndGlyphs" fill="#000" font-family='"Liberation Sans", sans-serif' font-weight="bold">0.48</text>
<text x="652.7" y="256.9" font-size="9" textLength="18.3" lengthAdjust="spacingAndGlyphs" fill="#000" font-family='"Liberation Sans", sans-serif' font-weight="bold">0.32</text>
<text x="652.7" y="287.8" font-size="9" textLength="18.3" lengthAdjust="spacingAndGlyphs" fill="#000" font-family='"Liberation Sans", sans-serif' font-weight="bold">0.16</text>
<text x="659.7" y="316.7" font-size="9" textLength="5.1" lengthAdjust="spacingAndGlyphs" fill="#000" font-family='"Liberation Sans", sans-serif' font-weight="bold">0</text>
<text x="476" y="191.6" font-size="20" textLength="10" lengthAdjust="spacingAndGlyphs" fill="#000" font-family='"Liberation Sans", sans-serif' font-weight="bold">f</text>
</svg>
</body></html>
